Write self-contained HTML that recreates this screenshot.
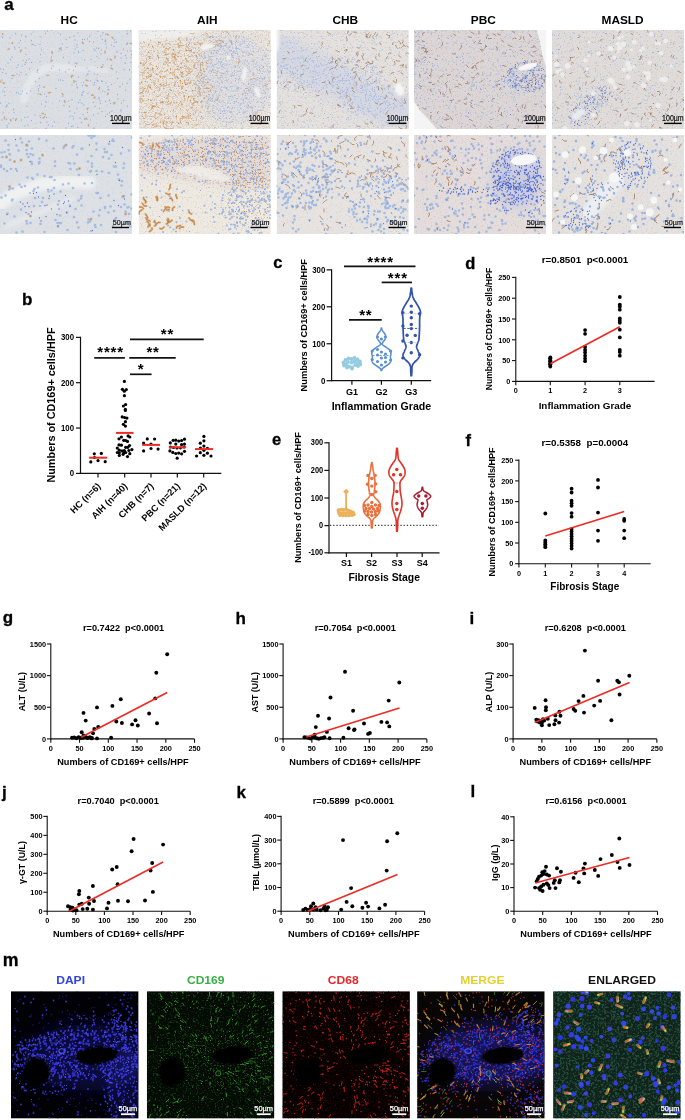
<!DOCTYPE html>
<html><head><meta charset="utf-8"><style>
html,body{margin:0;padding:0;background:#fff;}
body{width:685px;height:1120px;overflow:hidden;font-family:"Liberation Sans",sans-serif;}
svg{display:block;will-change:transform;}
text{font-family:"Liberation Sans",sans-serif;}
</style></head><body>
<svg width="685" height="1120" viewBox="0 0 685 1120" font-family="Liberation Sans, sans-serif"><defs><filter id="s0" filterUnits="userSpaceOnUse" x="0" y="30" width="132.2" height="99" color-interpolation-filters="sRGB"><feTurbulence type="fractalNoise" baseFrequency="0.8" numOctaves="2" seed="20" result="n"/><feColorMatrix in="n" type="matrix" values="0 0 0 0 0.816 0 0 0 0 0.831 0 0 0 0 0.855 6 0 0 0 -3.5" result="c"/><feComposite in="c" in2="SourceGraphic" operator="in"/></filter><filter id="b1_3" x="-20%" y="-20%" width="140%" height="140%"><feGaussianBlur stdDeviation="1.3"/></filter><filter id="b1_5" x="-20%" y="-20%" width="140%" height="140%"><feGaussianBlur stdDeviation="1.5"/></filter><clipPath id="c3"><rect x="0" y="30" width="132.2" height="99"/></clipPath><filter id="b0_35" x="-20%" y="-20%" width="140%" height="140%"><feGaussianBlur stdDeviation="0.35"/></filter><filter id="s1" filterUnits="userSpaceOnUse" x="0" y="135" width="132.2" height="99" color-interpolation-filters="sRGB"><feTurbulence type="fractalNoise" baseFrequency="0.8" numOctaves="2" seed="23" result="n"/><feColorMatrix in="n" type="matrix" values="0 0 0 0 0.816 0 0 0 0 0.831 0 0 0 0 0.863 6 0 0 0 -3.7" result="c"/><feComposite in="c" in2="SourceGraphic" operator="in"/></filter><filter id="b2" x="-20%" y="-20%" width="140%" height="140%"><feGaussianBlur stdDeviation="2"/></filter><clipPath id="c7"><rect x="0" y="135" width="132.2" height="99"/></clipPath><filter id="s2" filterUnits="userSpaceOnUse" x="138.6" y="30" width="132.2" height="99" color-interpolation-filters="sRGB"><feTurbulence type="fractalNoise" baseFrequency="0.8" numOctaves="2" seed="27" result="n"/><feColorMatrix in="n" type="matrix" values="0 0 0 0 0.843 0 0 0 0 0.804 0 0 0 0 0.765 6 0 0 0 -3.0" result="c"/><feComposite in="c" in2="SourceGraphic" operator="in"/></filter><filter id="b1" x="-20%" y="-20%" width="140%" height="140%"><feGaussianBlur stdDeviation="1"/></filter><filter id="b6" x="-20%" y="-20%" width="140%" height="140%"><feGaussianBlur stdDeviation="6"/></filter><filter id="s3" filterUnits="userSpaceOnUse" x="138.6" y="30" width="132.2" height="99" color-interpolation-filters="sRGB"><feTurbulence type="fractalNoise" baseFrequency="0.5" numOctaves="2" seed="24" result="n"/><feColorMatrix in="n" type="matrix" values="0 0 0 0 0.804 0 0 0 0 0.588 0 0 0 0 0.353 6 0 0 0 -3.75" result="c"/><feGaussianBlur in="SourceAlpha" stdDeviation="4" result="m"/><feComposite in="c" in2="m" operator="in"/></filter><filter id="b0_8" x="-20%" y="-20%" width="140%" height="140%"><feGaussianBlur stdDeviation="0.8"/></filter><clipPath id="c13"><rect x="138.6" y="30" width="132.2" height="99"/></clipPath><filter id="s4" filterUnits="userSpaceOnUse" x="138.6" y="135" width="132.2" height="99" color-interpolation-filters="sRGB"><feTurbulence type="fractalNoise" baseFrequency="0.8" numOctaves="2" seed="30" result="n"/><feColorMatrix in="n" type="matrix" values="0 0 0 0 0.855 0 0 0 0 0.824 0 0 0 0 0.784 6 0 0 0 -3.5" result="c"/><feComposite in="c" in2="SourceGraphic" operator="in"/></filter><filter id="b4" x="-20%" y="-20%" width="140%" height="140%"><feGaussianBlur stdDeviation="4"/></filter><filter id="s5" filterUnits="userSpaceOnUse" x="138.6" y="135" width="132.2" height="99" color-interpolation-filters="sRGB"><feTurbulence type="fractalNoise" baseFrequency="0.55" numOctaves="2" seed="23" result="n"/><feColorMatrix in="n" type="matrix" values="0 0 0 0 0.784 0 0 0 0 0.549 0 0 0 0 0.314 6 0 0 0 -3.45" result="c"/><feGaussianBlur in="SourceAlpha" stdDeviation="3" result="m"/><feComposite in="c" in2="m" operator="in"/></filter><filter id="s6" filterUnits="userSpaceOnUse" x="138.6" y="135" width="132.2" height="99" color-interpolation-filters="sRGB"><feTurbulence type="fractalNoise" baseFrequency="0.55" numOctaves="2" seed="24" result="n"/><feColorMatrix in="n" type="matrix" values="0 0 0 0 0.784 0 0 0 0 0.549 0 0 0 0 0.314 6 0 0 0 -3.8" result="c"/><feGaussianBlur in="SourceAlpha" stdDeviation="3" result="m"/><feComposite in="c" in2="m" operator="in"/></filter><filter id="b1_2" x="-20%" y="-20%" width="140%" height="140%"><feGaussianBlur stdDeviation="1.2"/></filter><clipPath id="c19"><rect x="138.6" y="135" width="132.2" height="99"/></clipPath><filter id="s7" filterUnits="userSpaceOnUse" x="276.6" y="30" width="132.2" height="99" color-interpolation-filters="sRGB"><feTurbulence type="fractalNoise" baseFrequency="0.8" numOctaves="2" seed="34" result="n"/><feColorMatrix in="n" type="matrix" values="0 0 0 0 0.824 0 0 0 0 0.808 0 0 0 0 0.804 6 0 0 0 -3.4" result="c"/><feComposite in="c" in2="SourceGraphic" operator="in"/></filter><filter id="b5" x="-20%" y="-20%" width="140%" height="140%"><feGaussianBlur stdDeviation="5"/></filter><clipPath id="c22"><rect x="276.6" y="30" width="132.2" height="99"/></clipPath><filter id="s8" filterUnits="userSpaceOnUse" x="276.6" y="135" width="132.2" height="99" color-interpolation-filters="sRGB"><feTurbulence type="fractalNoise" baseFrequency="0.8" numOctaves="2" seed="37" result="n"/><feColorMatrix in="n" type="matrix" values="0 0 0 0 0.839 0 0 0 0 0.824 0 0 0 0 0.824 6 0 0 0 -3.6" result="c"/><feComposite in="c" in2="SourceGraphic" operator="in"/></filter><clipPath id="c24"><rect x="276.6" y="135" width="132.2" height="99"/></clipPath><filter id="s9" filterUnits="userSpaceOnUse" x="414" y="30" width="132.2" height="99" color-interpolation-filters="sRGB"><feTurbulence type="fractalNoise" baseFrequency="0.8" numOctaves="2" seed="41" result="n"/><feColorMatrix in="n" type="matrix" values="0 0 0 0 0.804 0 0 0 0 0.776 0 0 0 0 0.784 6 0 0 0 -3.4" result="c"/><feComposite in="c" in2="SourceGraphic" operator="in"/></filter><filter id="b0_6" x="-20%" y="-20%" width="140%" height="140%"><feGaussianBlur stdDeviation="0.6"/></filter><filter id="b0_7" x="-20%" y="-20%" width="140%" height="140%"><feGaussianBlur stdDeviation="0.7"/></filter><clipPath id="c28"><rect x="414" y="30" width="132.2" height="99"/></clipPath><filter id="s10" filterUnits="userSpaceOnUse" x="414" y="135" width="132.2" height="99" color-interpolation-filters="sRGB"><feTurbulence type="fractalNoise" baseFrequency="0.8" numOctaves="2" seed="44" result="n"/><feColorMatrix in="n" type="matrix" values="0 0 0 0 0.831 0 0 0 0 0.800 0 0 0 0 0.800 6 0 0 0 -3.5" result="c"/><feComposite in="c" in2="SourceGraphic" operator="in"/></filter><clipPath id="c30"><rect x="414" y="135" width="132.2" height="99"/></clipPath><filter id="s11" filterUnits="userSpaceOnUse" x="552" y="30" width="132.2" height="99" color-interpolation-filters="sRGB"><feTurbulence type="fractalNoise" baseFrequency="0.8" numOctaves="2" seed="48" result="n"/><feColorMatrix in="n" type="matrix" values="0 0 0 0 0.816 0 0 0 0 0.800 0 0 0 0 0.792 6 0 0 0 -3.4" result="c"/><feComposite in="c" in2="SourceGraphic" operator="in"/></filter><clipPath id="c32"><rect x="552" y="30" width="132.2" height="99"/></clipPath><filter id="s12" filterUnits="userSpaceOnUse" x="552" y="135" width="132.2" height="99" color-interpolation-filters="sRGB"><feTurbulence type="fractalNoise" baseFrequency="0.8" numOctaves="2" seed="51" result="n"/><feColorMatrix in="n" type="matrix" values="0 0 0 0 0.831 0 0 0 0 0.820 0 0 0 0 0.812 6 0 0 0 -3.5" result="c"/><feComposite in="c" in2="SourceGraphic" operator="in"/></filter><clipPath id="c34"><rect x="552" y="135" width="132.2" height="99"/></clipPath><filter id="b8" x="-20%" y="-20%" width="140%" height="140%"><feGaussianBlur stdDeviation="8"/></filter><clipPath id="c36"><rect x="11.0" y="991.2" width="127.6" height="127.4"/></clipPath><filter id="b0_3" x="-20%" y="-20%" width="140%" height="140%"><feGaussianBlur stdDeviation="0.3"/></filter><filter id="s13" filterUnits="userSpaceOnUse" x="146.8" y="991.2" width="127.6" height="127.4" color-interpolation-filters="sRGB"><feTurbulence type="fractalNoise" baseFrequency="0.6" numOctaves="2" seed="61" result="n"/><feColorMatrix in="n" type="matrix" values="0 0 0 0 0.078 0 0 0 0 0.204 0 0 0 0 0.063 6 0 0 0 -3.5" result="c"/><feComposite in="c" in2="SourceGraphic" operator="in"/></filter><filter id="s14" filterUnits="userSpaceOnUse" x="146.8" y="991.2" width="127.6" height="127.4" color-interpolation-filters="sRGB"><feTurbulence type="fractalNoise" baseFrequency="0.6" numOctaves="2" seed="62" result="n"/><feColorMatrix in="n" type="matrix" values="0 0 0 0 0.137 0 0 0 0 0.392 0 0 0 0 0.110 6 0 0 0 -3.6" result="c"/><feGaussianBlur in="SourceAlpha" stdDeviation="6" result="m"/><feComposite in="c" in2="m" operator="in"/></filter><clipPath id="c40"><rect x="146.8" y="991.2" width="127.6" height="127.4"/></clipPath><filter id="s15" filterUnits="userSpaceOnUse" x="282.3" y="991.2" width="127.6" height="127.4" color-interpolation-filters="sRGB"><feTurbulence type="fractalNoise" baseFrequency="0.6" numOctaves="2" seed="63" result="n"/><feColorMatrix in="n" type="matrix" values="0 0 0 0 0.216 0 0 0 0 0.031 0 0 0 0 0.024 6 0 0 0 -3.6" result="c"/><feComposite in="c" in2="SourceGraphic" operator="in"/></filter><clipPath id="c42"><rect x="282.3" y="991.2" width="127.6" height="127.4"/></clipPath><clipPath id="c43"><rect x="417.1" y="991.2" width="127.6" height="127.4"/></clipPath><filter id="s16" filterUnits="userSpaceOnUse" x="553.1" y="991.2" width="127.6" height="127.4" color-interpolation-filters="sRGB"><feTurbulence type="fractalNoise" baseFrequency="0.45" numOctaves="2" seed="77" result="n"/><feColorMatrix in="n" type="matrix" values="0 0 0 0 0.141 0 0 0 0 0.306 0 0 0 0 0.243 6 0 0 0 -3.0" result="c"/><feComposite in="c" in2="SourceGraphic" operator="in"/></filter><clipPath id="c45"><rect x="553.1" y="991.2" width="127.6" height="127.4"/></clipPath></defs><text x="4.30" y="10.40" font-size="17.0" text-anchor="start" font-weight="bold" fill="#000" stroke="#000" stroke-width="0.3">a</text>
<text transform="translate(69.20 24.00) scale(1.08 1.02)" font-size="11" text-anchor="middle" font-weight="bold" fill="#000">HC</text>
<text transform="translate(207.30 24.00) scale(1.08 1.02)" font-size="11" text-anchor="middle" font-weight="bold" fill="#000">AIH</text>
<text transform="translate(345.30 24.00) scale(1.08 1.02)" font-size="11" text-anchor="middle" font-weight="bold" fill="#000">CHB</text>
<text transform="translate(483.40 24.00) scale(1.08 1.02)" font-size="11" text-anchor="middle" font-weight="bold" fill="#000">PBC</text>
<text transform="translate(622.60 24.00) scale(1.08 1.02)" font-size="11" text-anchor="middle" font-weight="bold" fill="#000">MASLD</text>
<g clip-path="url(#c3)"><rect x="0" y="30" width="132.2" height="99" fill="#dbdfe3"/>
<g filter="url(#b0_35)"><g filter="url(#s0)"><rect x="0" y="30" width="132.2" height="99" fill="#000"/></g><path d="M23.8,99.3 L26.4,89.4 L34.4,75.5 L44.9,68.6 L58.2,67.1 L68.7,68.6" stroke="#e8ebec" stroke-opacity="0.75" stroke-width="7.9" fill="none" stroke-linecap="round" stroke-linejoin="round" filter="url(#b1_3)"/><path d="M72.7,69.6 L92.5,67.6 L105.8,71.6" stroke="#e9ebed" stroke-opacity="0.6" stroke-width="5.9" fill="none" stroke-linecap="round" stroke-linejoin="round" filter="url(#b1_5)"/><path transform="scale(.5)" d="M31 67h0m12 3h0m19-2h0m29-1h0m4-5h0m8-2h0m18 9h0m35-3h0m40-3h0m10 3h0m5 3h0m43-1h0m1-1h0m0-7h0m6 2h0m-6 26h0m0-2h0m-2 2h0m-20-4h0m-3 1h0m-1-5h0m-1 13h0m-5-3h0m-10 6h0m-1-8h0m-7-9h0m-4-7h0m-3 24h0m-11-12h0m-8-11h0m0 10h0m-4-5h0m-6 1h0m-4 0h0m-11 15h0m0-5h0m-4-9h0m-2-8h0m-9 3h0m-5 20h0m-2-16h0m-7 9h0m-43-14h0m-2 15h0m-10 2h0m-4-2h0m-2 0h0m-1-8h0m-11-8h0m-1 0h0m0 23h0m-10-15h0m-3 5h0m0 9h0m-9-1h0m-9-18h0m-15-1h0m16 44h0m3-5h0m6-16h0m22 11h0m6 9h0m23-9h0m2-9h0m19 18h0m1-4h0m15-12h0m2-4h0m3 2h0m4 15h0m21-9h0m2-8h0m7 7h0m0-2h0m9-2h0m16 18h0m6-21h0m2 3h0m3-5h0m1 17h0m3-16h0m5 11h0m1-8h0m12 18h0m19-14h0m8 3h0m0 9h0m5-18h0m4 13h0m2 5h0m2-14h0m7 0h0m1 7h0m1 7h0m-2 9h0m-3 14h0m0 1h0m-8-14h0m-1 0h0m-2 13h0m-15 5h0m-10-13h0m-17-2h0m-11 6h0m-17 7h0m-4-6h0m-5-16h0m-15 6h0m-1 1h0m-2 6h0m-1-7h0m-3 15h0m-9-2h0m0-14h0m-19 15h0m-13-8h0m-3 5h0m-23-14h0m-4 16h0m-1 2h0m-1 3h0m-11-19h0m-4 13h0m-6-17h0m-2 4h0m-1 4h0m-4-8h0m-2 11h0m-7-2h0m-3 5h0m-18-9h0m-9 13h0m-6-1h0m3 22h0m1-15h0m7 2h0m12 10h0m10-9h0m5 2h0m3-5h0m10 4h0m19 14h0m8-6h0m38 3h0m4 0h0m5 1h0m5-17h0m12 10h0m3-2h0m6 11h0m5-9h0m10 11h0m6-14h0m2-3h0m1 0h0m5 14h0m8-14h0m0 17h0m5-4h0m1-12h0m1 13h0m7 0h0m2 1h0m7 3h0m23-9h0m10 11h0m9-1h0m6-9h0m4-14h0m-13 36h0m-11-7h0m-5 16h0m-12-20h0m-5 11h0m-2-1h0m0-6h0m-6 11h0m-5-2h0m-17-13h0m-12 18h0m-9-4h0m-2 2h0m0-14h0m-1 18h0m0 2h0m-9-15h0m-1-2h0m-1-5h0m-9 1h0m-32 7h0m-23 11h0m-10-17h0m-2 10h0m0-4h0m-1 11h0m-15-6h0m-7 5h0m-9-5h0m-3 6h0m-5-1h0m-4-2h0m-23-10h0m0 16h0m-1-7h0m-3-2h0m-5 24h0m11 8h0m2-2h0m0-2h0m4-3h0m36 5h0m29-4h0m8 4h0m1-8h0m1-11h0m26 9h0m7-10h0m2 19h0m9-9h0m2 11h0m5-14h0m13 6h0m3-5h0m4 7h0m4 3h0m19-5h0m3 8h0m8-18h0m0 3h0m2 4h0m1 5h0m10-4h0m8-3h0m0 1h0m2 6h0m7 1h0m8-10h0m7 8h0m4-5h0m8 11h0m-13 8h0m0 2h0m-18 0h0m-5 3h0m-4 3h0m-4 5h0m-7-10h0m-5-6h0m-3 10h0m-9 3h0m-12-5h0m-6 14h0m0 0h0m-3-10h0m-6 7h0m-6-19h0m-5 9h0m-2 12h0m-1-5h0m-6 0h0m0-11h0m-47 13h0m-2-6h0m-10 6h0m-1-4h0m-10-1h0m-14 4h0m-6 1h0m-7 5h0m-15-15h0m-1-6h0m-1 18h0m-13 2h0m-7-13h0m-2 14h0m10 11h0m0 4h0m4-8h0m13-6h0m19 11h0m6-2h0m7-9h0m18 4h0m11 12h0m2-13h0m3 6h0m8 2h0m4-8h0m23 12h0m5-9h0m6 6h0m3-1h0m9 3h0m8-10h0m18-5h0m7 17h0m0-1h0m36-16h0m9 4h0m22 3h0" stroke="rgb(110,145,212)" stroke-width="2.6" stroke-linecap="round" fill="none" stroke-opacity="0.6"/><path transform="scale(.5)" d="M24 71h0m8-1h0m35-8h0m22-1h0m18 4h0m3 5h0m6-3h0m0-1h0m43 6h0m21-4h0m2 3h0m1-2h0m9-7h0m0 5h0m12 4h0m49-9h0m-8 10h0m-13 7h0m-22 11h0m-6-3h0m-9-6h0m-1-4h0m-44 16h0m-1-5h0m-28-8h0m-1 7h0m-36 8h0m-3-12h0m-2-10h0m-4 15h0m-71-16h0m51 26h0m4 5h0m16 16h0m9-4h0m3-10h0m3 3h0m22 4h0m15-3h0m3-10h0m6 14h0m14 1h0m11-10h0m2 14h0m32-11h0m3 10h0m0 0h0m1-14h0m34-1h0m5-1h0m6-1h0m16-2h0m1 16h0m-19 27h0m-26-20h0m-5 3h0m-20 8h0m-2-9h0m-56 17h0m-31-8h0m-2 11h0m-18-14h0m-48 2h0m-6-6h0m-17 5h0m23 32h0m2 2h0m41-18h0m15 2h0m8 12h0m16-9h0m19-1h0m18-6h0m14 5h0m4 6h0m19 4h0m4-2h0m0 10h0m34 0h0m22-11h0m6 7h0m3-3h0m4 7h0m-61 20h0m-14-16h0m-5 19h0m-5-5h0m-28-6h0m-28 2h0m-24 5h0m-18-12h0m-5-1h0m-7 14h0m-4-10h0m-2-5h0m-9 14h0m-3-8h0m-7-8h0m-15 20h0m-7-8h0m-10 21h0m47 5h0m12-1h0m19 8h0m2-13h0m0 2h0m6-1h0m9 3h0m8 10h0m8-14h0m7 1h0m10 8h0m3-10h0m11 11h0m8-7h0m11-7h0m4 10h0m3-13h0m15 4h0m4-2h0m16 12h0m48 26h0m-1 4h0m-6-11h0m-7 7h0m-6-6h0m-5 3h0m-8 4h0m-18-14h0m-8-6h0m-25 16h0m-9 7h0m-26-8h0m-5 6h0m-8-1h0m-27-19h0m-5 19h0m-10-7h0m-8-13h0m-26 10h0m-15-2h0m-7 5h0m-15-3h0m-4 12h0m-2-18h0m-3 26h0m58 11h0m2 1h0m3-10h0m1 7h0m6 3h0m29-16h0m8 4h0m4 10h0m32-9h0m5 1h0m37-2h0m38 12h0m4-12h0m19 11h0" stroke="rgb(150,172,218)" stroke-width="1.8" stroke-linecap="round" fill="none" stroke-opacity="0.5"/><path transform="scale(.5)" d="M5 69l0-1 1-1m211 3l-2-1 -1-1m50 19l-2 0 -2 0m-34-10l-1-2 -1-1m-13 9l0-2 0-1m-46 4l0 2 2 1m-142 0l-1-1 1-1m-6 13l-2 0 -1 1m27 1l-2 2 0 2m64 3l-1-2 0-2m18-7l-1 1 -2 0m91 5l0 2 0 2m10 12l1 1 2 1m7-8l0 2 0 2m-5 22l-2-1 -1-1m-17-3l-1 1 -2 1m-100-12l1-2 2 0m-103 43l-1-1 -2-1m10 4l-1 1 -2-1m22-15l-2 0 -2 0m70 0l2 0 1 0m48 0l-2 1 0 2m5 11l0-2 0-2m24-1l2 1 2 0m40 25l0 2 -1 1m-16-14l-1 2 0 2m-11 12l-2-1 -2 0m-12-20l2 2 2 0m-49 17l-1-1 -1-1m-27-1l2-1 2 0m-14-11l1 0 1 0m-9 14l1 1 1 0m48 16l0-2 -1-2m47 15l-1 1 0 2m13-23l2-1 0-1m37 12l1-1 2 1m-60 31l2 0 2 1m-85-5l-1 2 -2 1m-2-9l2 0 1 0m-78 11l0-2 0-2m13 8l-1-2 0-1m10 1l1-1 1-2m144 12l0 1 0 2m69-7l1-2 1-1" stroke="rgb(195,150,105)" stroke-width="3" stroke-linecap="round" stroke-linejoin="round" fill="none" stroke-opacity="0.72"/></g>
</g>
<g clip-path="url(#c7)"><rect x="0" y="135" width="132.2" height="99" fill="#dde0e4"/>
<g filter="url(#b0_35)"><g filter="url(#s1)"><rect x="0" y="135" width="132.2" height="99" fill="#000"/></g><path d="M0.0,204.3 L13.2,194.4 L39.7,184.5 L66.1,181.5 L89.9,182.5" stroke="#f0f1f1" stroke-opacity="1.0" stroke-width="12.9" fill="none" stroke-linecap="round" stroke-linejoin="round" filter="url(#b2)"/><path d="M6.6,226.1 L39.7,212.2 L72.7,198.4" stroke="#eceef0" stroke-opacity="0.7" stroke-width="5.0" fill="none" stroke-linecap="round" stroke-linejoin="round" filter="url(#b2)"/><path transform="scale(.5)" d="M264 275h0m-37 7h0m-1-3h0m-1 2h0m-7 7h0m-25-1h0m-4-15h0m-3 0h0m-3 4h0m-2-5h0m-4 0h0m-84 10h0m-15-3h0m-20 5h0m-14 2h0m-3-8h0m-30 4h0m-8 24h0m6-1h0m8-14h0m0 10h0m2 8h0m1 1h0m13-18h0m4 10h0m16-1h0m1 8h0m1-17h0m6 17h0m3-11h0m2 13h0m41-13h0m20-1h0m1-2h0m1-2h0m16 3h0m2-3h0m7 17h0m9-11h0m2-1h0m28 2h0m16-1h0m1 6h0m4 0h0m9 6h0m19-3h0m16-6h0m-10 26h0m-1 9h0m-15-3h0m-4 0h0m-10-16h0m-12-3h0m-22 13h0m0 6h0m-1-21h0m-7 11h0m-27 4h0m-9 0h0m-3-1h0m-27-3h0m0 9h0m-31-8h0m0-7h0m-1 10h0m-14 1h0m-1-4h0m-6-10h0m-37 6h0m-15-6h0m-3 20h0m0-3h0m6 7h0m6 4h0m8-4h0m10 0h0m23 17h0m9 1h0m2 2h0m9-9h0m14 3h0m11 2h0m3 0h0m6 6h0m32-22h0m13 1h0m4 11h0m22-7h0m2-1h0m11 0h0m11 1h0m14 3h0m18 3h0m2 10h0m6 3h0m-1 9h0m-59-5h0m-15 1h0m-23 9h0m-9-9h0m-11 2h0m-5 14h0m-13-7h0m-5 5h0m-6 2h0m-21-8h0m-7 3h0m-2 4h0m-17-10h0m-7 2h0m-4-5h0m-13 8h0m-5 0h0m-3 2h0m-15 16h0m8-4h0m13 10h0m1-2h0m45-3h0m14 8h0m2-8h0m32 6h0m39-1h0m5-4h0m1-5h0m30-6h0m3 0h0m5 10h0m16-5h0m31 1h0m15-3h0m0 28h0m-5 11h0m-1-14h0m-2 1h0m-4 8h0m-2-14h0m-7 5h0m-14 8h0m-7-9h0m-4 12h0m-7-11h0m0 2h0m-10 4h0m-2 11h0m-11-8h0m-24-12h0m-12 7h0m-11-7h0m-6 14h0m-14 6h0m-4-22h0m-48 3h0m-11 16h0m-15-9h0m-27 8h0m-6 20h0m20-14h0m24 9h0m1 5h0m7-1h0m20 2h0m1-6h0m29-2h0m4 6h0m1 7h0m2-7h0m4 0h0m26-12h0m6 11h0m3 10h0m19-10h0m1-6h0m3 4h0m10 7h0m1 4h0m11-4h0m24 2h0m3-13h0m1 0h0m2-3h0m14 13h0m7-4h0m6 3h0m1 5h0m-28 11h0m-97-4h0m-46 4h0m-44-1h0m-12 2h0" stroke="rgb(140,172,225)" stroke-width="5.4" stroke-linecap="round" fill="none" stroke-opacity="0.7"/><path transform="scale(.5)" d="M219 283h0m-188-4h0m148 11h0m66 5h0m-14 30h0m-171-2h0m-26 19h0m160 7h0m45 12h0m-143 18h0m-55 25h0m14 2h0m5-20h0m7 1h0m6-2h0m4 9h0m21 3h0m1-5h0m9-4h0m19 19h0m2-3h0m2-13h0m6 11h0m91-1h0m21-3h0m-12 13h0m-97 2h0m-7 12h0m-15-7h0m-4 11h0m-11-11h0m-9-8h0m-4 1h0m-10 1h0m-17 12h0m-5-11h0m-6 12h0m-2-12h0m-4-5h0m-32 21h0m65 7h0m13-3h0m24 19h0m69 9h0m-3 1h0" stroke="rgb(60,100,200)" stroke-width="2.6" stroke-linecap="round" fill="none" stroke-opacity="0.85"/><path transform="scale(.5)" d="M53 290h0m32 20h0m47-20h0m-90 30h0m-13 3h0m-16-9h0m146 23h0m-140 36h0m227 20h0m5 35h0m-190 4h0m121 6h0" stroke="rgb(205,165,120)" stroke-width="6" stroke-linecap="round" fill="none" stroke-opacity="0.75"/><path transform="scale(.5)" d="M53 290h0m32 20h0m47-20h0m-90 30h0m-13 3h0m-16-9h0m146 23h0m-140 36h0m227 20h0m5 35h0m-190 4h0m121 6h0" stroke="rgb(180,130,80)" stroke-width="2.8" stroke-linecap="round" fill="none" stroke-opacity="0.8"/></g>
</g>
<text transform="translate(131.70 120.90) scale(0.86 1.0)" font-size="8.2" text-anchor="end" font-weight="normal" fill="#111" stroke="#111" stroke-width="0.2">100µm</text>
<line x1="112.00" y1="123.40" x2="129.80" y2="123.40" stroke="#000" stroke-width="1.4"/>
<text transform="translate(130.90 224.90) scale(0.93 1.0)" font-size="7.7" text-anchor="end" font-weight="normal" fill="#111" stroke="#111" stroke-width="0.2">50µm</text>
<line x1="111.90" y1="227.50" x2="129.00" y2="227.50" stroke="#000" stroke-width="1.4"/>
<g clip-path="url(#c13)"><rect x="138.6" y="30" width="132.2" height="99" fill="#ebe6df"/>
<g filter="url(#b0_35)"><g filter="url(#s2)"><rect x="138.6" y="30" width="132.2" height="99" fill="#000"/></g><path d="M138.6,30.0 L204.7,30.0 L194.1,35.0 L171.6,38.9 L138.6,41.9Z" fill="#eeeeed" fill-opacity="1.0" filter="url(#b1)"/><ellipse cx="233.8" cy="79.5" rx="39.7" ry="44.6" fill="rgb(200,210,235)" fill-opacity="0.3" filter="url(#b6)"/><path transform="scale(.5)" d="M284 67h0m7 0h0m15-4h0m5 8h0m1-8h0m10 8h0m8-9h0m9 0h0m10-1h0m11 4h0m21-5h0m25 9h0m4-1h0m33-1h0m0-1h0m4-1h0m7-3h0m13 10h0m1-10h0m4 10h0m1-1h0m13-6h0m17 3h0m12-7h0m9 0h0m8 1h0m-9 22h0m-3 12h0m-9-8h0m0-15h0m-5 8h0m-1 12h0m-1-8h0m-4-2h0m-1 7h0m-2 4h0m0-6h0m-1 6h0m-2-3h0m0-13h0m-2 16h0m-3-14h0m0 4h0m-1 2h0m0-10h0m-1-2h0m-1 9h0m-1-3h0m-1 6h0m-2 3h0m-1 3h0m0 0h0m-1-4h0m-1-15h0m-1 18h0m0-15h0m-2 9h0m-3 9h0m0-11h0m0-3h0m-2 16h0m0-6h0m0-5h0m0-12h0m-6 16h0m-1 0h0m-1-3h0m0-4h0m0 1h0m0 2h0m-1-1h0m0-8h0m0 9h0m-1-13h0m-1 21h0m0-12h0m-1 13h0m-1-1h0m0-10h0m-4 3h0m0 9h0m-1-7h0m-1 0h0m0-14h0m0 17h0m-2 0h0m-2 1h0m0-17h0m-1 7h0m0 0h0m0 3h0m-2-1h0m0-1h0m-1 1h0m0 8h0m-1 2h0m0-19h0m-1 17h0m0-1h0m-1-10h0m0 14h0m0-9h0m-1 6h0m-1-20h0m0 8h0m0 0h0m0 7h0m-3 3h0m0 0h0m-1-4h0m0 5h0m-1-17h0m-1 9h0m0-1h0m0-8h0m-1 11h0m0-10h0m0 6h0m0 10h0m-1 2h0m-1 2h0m0-2h0m-2-14h0m-1-4h0m0 20h0m-1-3h0m0-18h0m-1-2h0m0 3h0m-4 10h0m0-10h0m-1 0h0m-1 6h0m0-7h0m-1 13h0m-1 7h0m-1-3h0m-2 0h0m0 4h0m-4-16h0m0 1h0m-3-2h0m-3 10h0m-7 8h0m-1-12h0m-2 1h0m-2 4h0m-3-14h0m-2 3h0m-5 8h0m-1-6h0m-1-2h0m-1 7h0m-2 4h0m-4 3h0m0-11h0m-1-5h0m-15 2h0m-1 9h0m-16-3h0m-2 3h0m-4 5h0m-3-10h0m-13-6h0m0 8h0m-1 0h0m-10 11h0m-11-17h0m-9 5h0m-5 3h0m0 23h0m10 7h0m9-8h0m4 8h0m12-10h0m0 11h0m8-13h0m14-8h0m3 13h0m4-8h0m3 2h0m22-6h0m1 3h0m4 11h0m2 2h0m2-9h0m0-7h0m3 2h0m0 4h0m1 8h0m2-6h0m4-1h0m3 15h0m0-8h0m2 6h0m4-8h0m1-11h0m3 2h0m0 11h0m0 0h0m2 3h0m3-7h0m1 5h0m0 4h0m0-12h0m1 12h0m0-20h0m0 8h0m0 7h0m1 4h0m1-16h0m0 2h0m4-3h0m1 12h0m0-12h0m1 15h0m1-16h0m1 22h0m0-5h0m0 2h0m2-10h0m0-2h0m1 1h0m0-1h0m1 9h0m0 6h0m0-11h0m2-8h0m1 7h0m1-6h0m1 1h0m1-1h0m3 3h0m0 2h0m0 11h0m1 1h0m1-12h0m0-5h0m1-1h0m1 3h0m2-4h0m1 10h0m1-11h0m0 20h0m4-9h0m1-9h0m1 18h0m0-22h0m2 5h0m1 6h0m1 3h0m0 7h0m1-12h0m0 10h0m3-9h0m1 2h0m1-11h0m2 3h0m1 2h0m1 1h0m1 17h0m0-5h0m0-15h0m1 9h0m0 3h0m0-11h0m1 10h0m0-4h0m1 7h0m0-18h0m1 9h0m0 6h0m1 4h0m0-13h0m1 2h0m2-1h0m0 3h0m1 1h0m2-11h0m0 21h0m0-15h0m0-4h0m2-1h0m0 11h0m0-2h0m2-9h0m1 17h0m1-15h0m4 1h0m3 4h0m0 7h0m1-6h0m2-1h0m0 0h0m4 2h0m3-2h0m0 6h0m1 1h0m1-4h0m8-4h0m0-6h0m0 22h0m2-15h0m8 0h0m2-6h0m6 21h0m1-5h0m1-13h0m0 18h0m3-13h0m0 6h0m2 1h0m1-13h0m0 9h0m1 3h0m2 5h0m1-16h0m5 1h0m0 0h0m0 34h0m0 7h0m-1-10h0m-2 9h0m0-15h0m-1 17h0m-2-4h0m-2-10h0m-3 13h0m0-17h0m-3 7h0m0 2h0m-1 8h0m-2-6h0m0 0h0m-1-7h0m-2 13h0m-1-10h0m-1 8h0m0-6h0m0 4h0m-4 1h0m-1-16h0m0 6h0m-2 3h0m-1-5h0m-3 6h0m0-13h0m-1 3h0m-1 4h0m0-5h0m-5 20h0m-3-3h0m0-12h0m0 6h0m0 4h0m-3-2h0m0-15h0m-1 10h0m0-8h0m-3-3h0m-1 8h0m-1-4h0m-1 0h0m-3 2h0m-3-2h0m-1 15h0m0 4h0m-1-20h0m-1 2h0m0 10h0m0 7h0m-3-11h0m0 11h0m-2 0h0m-2-19h0m-1 10h0m-1 2h0m0-4h0m0 3h0m-1 7h0m-5-7h0m-5-13h0m0 8h0m-5-1h0m0 15h0m0-2h0m0 0h0m-1-11h0m-1-9h0m0 22h0m-1-7h0m-1-5h0m-2-2h0m0-2h0m-2 7h0m-1-2h0m0-3h0m-1-9h0m0 18h0m-1-14h0m0 9h0m-1-8h0m0-2h0m-1 7h0m0-3h0m0 3h0m-3-7h0m0 13h0m-1 6h0m0-20h0m-2 14h0m0 7h0m-1-16h0m-2 2h0m-3-1h0m-1 6h0m0 4h0m-1-6h0m-1 9h0m0-1h0m0 0h0m-1-1h0m0-8h0m0-1h0m-2 4h0m0 10h0m0-18h0m0-5h0m0 22h0m-2-15h0m-1 13h0m0-1h0m-2-8h0m0-6h0m-3 1h0m-1-6h0m0 16h0m-1-12h0m-3-3h0m-4 9h0m-1-3h0m-2 13h0m-1-12h0m-1 2h0m-2-10h0m-1 7h0m0 12h0m0-18h0m-2 13h0m0-5h0m-1-9h0m0 0h0m-2 16h0m-18-16h0m-3 9h0m-7 5h0m-10 2h0m-9-15h0m-9 4h0m-17 0h0m-21 2h0m-10-5h0m-3 17h0m-7 10h0m3-5h0m4 13h0m15-6h0m9-5h0m1 15h0m1-4h0m11-12h0m2 11h0m2 11h0m5-2h0m19-2h0m1-10h0m3 0h0m0 11h0m10-16h0m6 16h0m2-7h0m4 1h0m0 2h0m1-5h0m0-9h0m12 20h0m6-6h0m1 2h0m2 0h0m1 3h0m0-15h0m3 0h0m1 6h0m1-10h0m1 17h0m0 0h0m1-1h0m0 4h0m0-7h0m1-11h0m0 9h0m2-8h0m1 9h0m2-6h0m1 13h0m0-7h0m0 9h0m3-10h0m0-14h0m1 15h0m3 1h0m1 8h0m3-17h0m1 11h0m1-6h0m0-11h0m3 0h0m2 17h0m0-11h0m2 0h0m1 5h0m0 7h0m3 3h0m0-10h0m0 4h0m1 7h0m2-13h0m0 0h0m1-3h0m0-5h0m1 18h0m0-14h0m1-3h0m0 8h0m0 7h0m1 4h0m1-8h0m1-11h0m3 14h0m0-14h0m2 7h0m1 6h0m1 1h0m0-13h0m1-4h0m2 14h0m4-8h0m1 16h0m1-13h0m0 12h0m1-15h0m1-5h0m1 6h0m2 0h0m1-4h0m2 10h0m0 4h0m2-11h0m4 15h0m0-6h0m1-6h0m0 7h0m1-3h0m1 0h0m3 8h0m0-7h0m0-10h0m1 13h0m0-17h0m2 22h0m2 2h0m0-15h0m1 7h0m1-2h0m3-13h0m1 0h0m0 8h0m0-4h0m3 17h0m3-6h0m3-2h0m1 4h0m2-13h0m0-3h0m1 4h0m1 13h0m0 1h0m0-16h0m2 10h0m2 2h0m2 0h0m1-1h0m1-4h0m0 0h0m3-8h0m0 10h0m0 5h0m1 5h0m1-15h0m1 4h0m0 6h0m2-4h0m1-11h0m1 11h0m0-1h0m3 1h0m0-3h0m1 1h0m1 11h0m1 0h0m6-12h0m0 8h0m1-5h0m1-13h0m1 44h0m0-12h0m-2 15h0m-2-14h0m-3-1h0m-2-6h0m0 8h0m0-5h0m-1 13h0m-1-3h0m0 2h0m-3-6h0m-1 7h0m0-13h0m-4 12h0m0-1h0m-1-8h0m-1 5h0m-1 3h0m-1 3h0m0-15h0m-2 15h0m-3-16h0m-1 14h0m-4 1h0m0-18h0m0 21h0m-1-16h0m0-5h0m0 14h0m0 7h0m-1-3h0m0 0h0m0-7h0m-2 2h0m0-13h0m-1 16h0m-1-9h0m0-6h0m-1 7h0m0 3h0m-1 4h0m0-4h0m-2-6h0m-1-5h0m0-1h0m0 14h0m-2 5h0m-1-13h0m-1 8h0m-1 4h0m0-9h0m0 10h0m-1-10h0m0 14h0m-1-6h0m-1-4h0m-5 7h0m-2-11h0m-5-2h0m0 3h0m-2-2h0m-1 1h0m0 1h0m0 3h0m-2-7h0m-1 8h0m-1 8h0m0-20h0m-1 21h0m-3-9h0m-2-9h0m-3 1h0m-3 6h0m-2-1h0m-3-2h0m0-2h0m-1 2h0m-1 12h0m-2-15h0m-5 7h0m-1-7h0m-1 7h0m-1-2h0m-1-2h0m-1 13h0m0-4h0m-1-15h0m-1 21h0m-5-10h0m-1 3h0m0-3h0m-1 2h0m-1-15h0m0 5h0m0 14h0m-2 4h0m-1-2h0m-2-14h0m-3 4h0m-3 2h0m-1 1h0m-3 1h0m-4 1h0m-1 0h0m-2-3h0m-2-10h0m-2-1h0m-1 19h0m0-5h0m-1-8h0m-2 13h0m0 0h0m-1-2h0m-2-17h0m0 16h0m0-7h0m0-3h0m-2-6h0m0 3h0m-8 7h0m-2 1h0m-13 4h0m-8-8h0m-7 4h0m-3-5h0m-4-7h0m-3 12h0m-8 8h0m0-17h0m-6 11h0m-6-12h0m-6 2h0m-7-3h0m-16 13h0m0-14h0m-3 13h0m-7 8h0m0-9h0m-1 9h0m-1-7h0m-4 12h0m23 4h0m2 7h0m7-1h0m7 0h0m2 0h0m7-12h0m18 10h0m2 3h0m19-6h0m7-1h0m3 10h0m3-8h0m21 12h0m1-11h0m0-1h0m0 2h0m2-2h0m1 2h0m3-8h0m2 18h0m1-3h0m1-18h0m2 23h0m0-9h0m1-3h0m0 6h0m1-12h0m0 15h0m4-12h0m0-6h0m1 3h0m2 0h0m0 5h0m1-1h0m0-8h0m0 3h0m2 14h0m2-8h0m1-3h0m0 4h0m4-3h0m0 7h0m1-16h0m1 8h0m0-4h0m3 8h0m0-4h0m3 5h0m3 7h0m1-11h0m2 4h0m3 5h0m4 5h0m1-9h0m0 9h0m1-2h0m1-20h0m0 9h0m0-5h0m3 10h0m0-14h0m3 1h0m0 6h0m1 16h0m1-23h0m0 21h0m3-7h0m0-3h0m1-1h0m3 0h0m1-6h0m1 0h0m2 8h0m3 6h0m0-3h0m1 0h0m1-1h0m0-9h0m2 0h0m2 4h0m0 4h0m1-7h0m0 2h0m2 12h0m1-17h0m2 1h0m0-1h0m2 17h0m0 2h0m0-17h0m2 12h0m1 0h0m0 1h0m1-12h0m2 15h0m0-10h0m1 10h0m0-7h0m1 6h0m0-21h0m3 23h0m2-16h0m1-7h0m2 21h0m2-20h0m2 12h0m1-2h0m7 2h0m0-7h0m0-3h0m1 10h0m3 7h0m0-6h0m1 9h0m0-19h0m2 14h0m0-15h0m0 8h0m4-6h0m5 13h0m0-15h0m3 32h0m-3 10h0m-9-1h0m-6-15h0m-2-1h0m-3 1h0m-2 12h0m-1-7h0m-4-2h0m-3 2h0m-1 4h0m-1-1h0m-1-9h0m-1 4h0m-1-8h0m-3 14h0m-4-14h0m0 18h0m-1 6h0m-1-6h0m-2-11h0m-2 1h0m0 10h0m-2-8h0m0-2h0m-2 2h0m0-4h0m-5-5h0m-2 7h0m-2-4h0m-3 9h0m-2 11h0m-3-24h0m-3 23h0m0-9h0m-3-6h0m0 9h0m-1-10h0m-1 0h0m0 2h0m-1-8h0m-1 7h0m0 13h0m-4-15h0m-2 14h0m0-1h0m-1-14h0m0 15h0m-2-9h0m-1-7h0m0 3h0m-1-6h0m-1 15h0m0-5h0m0-6h0m-2 2h0m-3-1h0m-1 15h0m0-11h0m0 1h0m-1-9h0m-1 19h0m0 0h0m-1-3h0m-1-13h0m-1 9h0m-1 9h0m-1-21h0m-3 20h0m-1-12h0m-2-1h0m-2 8h0m0-17h0m0 5h0m-1-1h0m-5 7h0m-2-2h0m-2-8h0m0 6h0m-10 14h0m-5 0h0m0-13h0m-4 6h0m-11-3h0m-1-11h0m-4 11h0m-10 7h0m-20-1h0m-11 3h0m-42-11h0m-13 5h0m0 3h0m-6-14h0m12 31h0m21 4h0m15-10h0m5 11h0m4 1h0m5-16h0m5 4h0m11 2h0m2 2h0m3-2h0m40-4h0m7 14h0m20 0h0m1-1h0m15-12h0m1-1h0m5 16h0m1-5h0m1-8h0m0 4h0m5-3h0m2-2h0m3 0h0m2-1h0m17 3h0m2 8h0m0 3h0m3-14h0m3 1h0m8-2h0" stroke="rgb(120,150,215)" stroke-width="2.3" stroke-linecap="round" fill="none" stroke-opacity="0.6"/><path transform="scale(.5)" d="M389 66l-3 2 -3-1 -3 0m34 4l1-2 -1-2 -2 0m46 2l-1-3 -3-2 -4-1m85 27l2-2 2-3 -1-4m-67-3l1-2 0-2 2-2m-16 7l2 2 3 3 0 3m-21 0l-1 2 -3 2 -2 2m1-13l4 1 3 0 2 3m-12-2l4 0 2-1 2 1m-13 7l2 0 4 0 3-2m-13 9l-4 1 -1 3 -2 1m5-28l-3 0 -2 1 -3 0m7 9l2 0 2 2 2 0m-11 2l3 2 3 0 3-1m-25 4l0-2 -1-2 1-2m-5 0l3 1 2 1 4-1m-26-1l0 2 -3 3 -2 3m-11 0l-2-1 -2 1 -1 2m2-14l-2-3 1-3 2-2m-4 18l4-1 2 0 4 0m-11 3l3-2 0-2 -3-2m-15 7l-2 1 -3 2 -1 1m-38 20l2-2 0-3 -2-2m5 1l-2 0 -2 0 -2 2m34-16l0 3 -1 2 -1 2m3-1l1 3 2 1 2-1m-4 8l2 3 2 2 0 3m2-17l-3 2 -2 1 -4 0m15 1l1 2 3 2 3 1m-6-2l4-1 1-1 1-4m-1 4l-1 2 0 3 -1 3m3-12l-3 0 -2-2 -2 0m8 4l-3-1 -2 0 -3 0m13-1l1-2 1-3 2-3m13 1l2 0 3 0 4 0m-5-3l-3-2 -1-1 -1-1m28 18l-2-1 -2-3 -2-3m83 13l1 3 -2 3 0 4m29-18l-3-2 -4 1 -1 1m-97 27l0-3 0-4 0-4m-11 0l0 3 -1 2 -2 3m2-6l-2 3 0 2 1 2m-3 5l-1 2 -2 2 -2 3m0-3l-2-1 -3 1 -3-2m7-1l-2-3 -2-1 -3 2m0-15l2-1 2 0 2-1m-9 11l3-1 2 2 0 2m-22-15l-1-4 -1-3 -1-1m3 26l2 0 2 0 3 0m-26-12l-1 1 -2 1 -3-2m-21 10l0 3 0 2 1 3m-13-11l1 2 -2 2 -1 1m2-15l-3 2 -2 3 -2 2m1 16l0-4 1-2 3-1m3 5l2 2 2 2 4 0m-6 2l1 2 -2 3 -2 1m9-6l-1 1 -3 0 -2 3m10 9l2 1 1 3 -1 3m9-25l2-1 1-1 1-3m3 13l-2-1 -2-1 -2 0m10-8l3-2 2-2 2-1m-4 16l-2-3 -2 0 -1 2m14-9l2 1 2 2 1 2m7 12l-2 2 -1 3 1 2m5-13l-1-2 -4-1 -3-1m14-7l0 4 2 2 2 2m-4-1l2 1 1 1 2 1m0-7l-3-2 -2-2 -2-2m11 26l-2-2 0-3 0-3m3-10l2 0 2-2 3-1m3 14l0 2 -2 1 -1 4m9-2l0 2 1 1 4 0m-1-15l2-3 2 0 1-2m-4 4l1 1 3 0 3 2m0 3l1 2 2 2 2 1m-5-19l2 0 2 2 -1 4m0 5l3-1 3 0 1-2m91 6l3 0 2-2 4 0m29 4l3 2 2 2 2 2m-19 5l3-1 1-1 4-1m-42 8l3 0 2 3 2 0m-79 3l0-4 -2-2 -1-1m2-7l1 1 3 2 4 1m-13 2l-4 1 -2 1 -3-1m-5 1l-1 1 -1 3 0 3m0-9l-1 1 0 2 2 1m-7 11l-2 2 -4 0 -2 1m-22-6l-2-1 -3-1 -1-1m4-14l1 3 2 1 1 3m-17 10l2 1 1 3 2 1m-23-20l-4-2 -2 0 -2 3m7-3l2 1 4-1 2-2m-20 7l-2 1 -2-1 -2-2m-7 6l-3-2 -2-1 -1-3m2-4l-3 3 -2 4 -1 3m-8-2l0 4 -1 2 -2 3m2-11l-3 2 -2 1 -2 0m1 9l3-2 2 0 3 2m-10 14l-1 2 -2 0 -1 2m7-8l0 3 1 3 2 2m5-3l-2 0 -3-3 0-2m26 16l-3-1 -2-2 -4 0m9 4l-3-1 -3 3 0 2m32-20l1-2 0-4 -3-2m3 18l0-2 -2-2 -3 0m10 4l-3 0 -1 1 -4 1m27-3l-2 1 -2 2 0 3m6-2l1-1 0-3 -1-2m6-9l2 2 0 2 -1 2m14-10l-3 1 -3 1 -1 3m15 6l-2 3 -3 0 -2 3m12-6l-3 0 -3-1 -2-1m8 2l-4 1 -4 0 -2 3m34-10l-3 1 -1 3 -1 1m16-2l3 0 2-2 1-2m78 27l-2 2 -1 2 -1 2m-120-3l1-2 0-3 2-2m-16 0l-3 2 0 2 1 1m-1 10l-4 0 -2-1 -2 0m8-2l2 2 1 1 2 1m-5-8l3 2 0 2 -1 1m-7 5l-2-1 -4 1 -2-1m-3 2l2-1 2 0 3-3m-48-18l-3-3 -2-2 0-3m5 19l2-1 1-2 2-3m-6 6l3 2 2 0 2 2m-12 6l2 0 2-2 2-2m-9 2l1-1 0-4 1-3m-19 8l0-3 0-2 -2-3m9 22l-3 0 -3 0 -2-1m17 6l2-2 4 0 3 0m-5-4l-3 0 -2 0 -2 3m20-5l3-1 1-3 -1-2m-1 10l0-4 -1-2 -2-3m7 15l3 3 3 1 2 2m-6-10l-1-3 0-4 2-1m3 14l-4-1 -3-1 -2-2m10-11l3 2 2 1 0 4m4 4l-2 3 -3 1 -2 1m49-9l2 0 3-1 2 0" stroke="rgb(205,155,100)" stroke-width="2" stroke-linecap="round" stroke-linejoin="round" fill="none" stroke-opacity="0.68"/><g filter="url(#s3)"><path d="M138.6,39.9 L198.1,37.9 L220.6,69.6 L211.3,104.2 L198.1,129.0 L138.6,129.0Z" fill="#000"/></g><path transform="scale(.5)" d="M374 78h0m-46 15h0m-8-8h0m-5 26h0m2 4h0m19 5h0m11-21h0m15 14h0m9 5h0m17-12h0m4 5h0m16 32h0m-1-5h0m-27 0h0m-17-12h0m0 10h0m-1-9h0m-1 8h0m-5-2h0m-8-7h0m-16-2h0m-17 13h0m-2-4h0m-11 7h0m-6-3h0m-9-9h0m-5-1h0m-1-1h0m-1 42h0m3-3h0m8-2h0m10-4h0m39-13h0m9 3h0m6 5h0m1 3h0m9 10h0m11-1h0m40-2h0m70 24h0m-68 1h0m-8-19h0m-10 16h0m-2-12h0m-7 2h0m-6 5h0m-14-12h0m-5 4h0m-3 3h0m-14-6h0m-7 11h0m-2-2h0m-3 9h0m-17 2h0m-1-10h0m-18-5h0m-9 7h0m-10 4h0m15 13h0m11 13h0m16-8h0m2-1h0m11-1h0m32-10h0m15 23h0m2-5h0m1-12h0m1 0h0m15 35h0m-22-2h0m-20-13h0m-14 2h0m-17 16h0m-1-7h0m-27 9h0m55 9h0m16-2h0m3 0h0m1 3h0m143 1h0" stroke="rgb(185,125,70)" stroke-width="2.6" stroke-linecap="round" fill="none" stroke-opacity="0.75"/><ellipse cx="207.3" cy="46.8" rx="7.3" ry="3.0" fill="#f3f3f1" fill-opacity="1.0" transform="rotate(-15 207.3 46.8)" filter="url(#b0_8)"/><ellipse cx="244.4" cy="74.6" rx="2.4" ry="7.9" fill="#f3f3f1" fill-opacity="1.0" transform="rotate(10 244.4 74.6)" filter="url(#b0_8)"/><ellipse cx="257.6" cy="92.4" rx="2.6" ry="5.9" fill="#f3f3f1" fill-opacity="1.0" transform="rotate(-20 257.6 92.4)" filter="url(#b0_8)"/><ellipse cx="228.5" cy="57.7" rx="2.6" ry="2.0" fill="#f3f3f1" fill-opacity="1.0" filter="url(#b0_8)"/></g>
</g>
<g clip-path="url(#c19)"><rect x="138.6" y="135" width="132.2" height="99" fill="#eeeae2"/>
<g filter="url(#b0_35)"><g filter="url(#s4)"><rect x="138.6" y="135" width="132.2" height="99" fill="#000"/></g><path d="M138.6,144.9 L178.3,139.9 L231.1,135.0 L270.8,135.0 L270.8,184.5 L244.4,189.4 L217.9,184.5 L191.5,179.6 L165.0,174.6 L138.6,169.7Z" fill="rgb(200,195,215)" fill-opacity="0.35" filter="url(#b4)"/><g filter="url(#s5)"><path d="M138.6,144.9 L178.3,139.9 L231.1,135.0 L270.8,135.0 L270.8,184.5 L244.4,189.4 L217.9,184.5 L191.5,179.6 L165.0,174.6 L138.6,169.7Z" fill="#000"/></g><g filter="url(#s6)"><ellipse cx="251.0" cy="199.4" rx="26.4" ry="29.7" fill="#000"/></g><path transform="scale(.5)" d="M524 278h0m-10-6h0m-4 7h0m-9 7h0m-3-1h0m-10-2h0m-10-9h0m-9 12h0m-4-5h0m-1 0h0m-8-4h0m-1 0h0m-5 5h0m-3-4h0m-1 1h0m-13 1h0m-4 1h0m-1 0h0m-1 0h0m0 7h0m0-3h0m-4 1h0m-1-6h0m-8 3h0m-3 0h0m-7-2h0m-20-1h0m-4 4h0m0-1h0m-2 4h0m-1-7h0m-1 2h0m-6 6h0m-4-7h0m-3-11h0m-8 12h0m-5 3h0m-1-2h0m0-4h0m-5-8h0m-1 12h0m-5 1h0m-2-2h0m-4 1h0m-1-4h0m-3 7h0m-5 0h0m-5 0h0m-19-14h0m-17 4h0m8 32h0m4-13h0m1 7h0m1 6h0m4-12h0m4 6h0m0-4h0m11 4h0m0 7h0m1 2h0m2-2h0m3-6h0m0 7h0m1-2h0m5-16h0m1 5h0m2-7h0m2 10h0m1-6h0m4 3h0m2 4h0m6-1h0m0-4h0m9 3h0m1-8h0m13 19h0m2 1h0m1-12h0m11-9h0m2-1h0m6 12h0m23-3h0m3 10h0m1-3h0m1-3h0m2 3h0m10 0h0m1-17h0m2 22h0m9-21h0m4 20h0m4-5h0m2-11h0m0 1h0m1 10h0m0 7h0m2-4h0m4-1h0m8-2h0m9-9h0m1-3h0m3-2h0m1 13h0m2-2h0m0 10h0m10-16h0m6 11h0m2 1h0m2-16h0m8 5h0m1-7h0m2 19h0m3-11h0m3 2h0m2 9h0m1-1h0m1-9h0m2-1h0m7 12h0m3-14h0m1 29h0m-4 1h0m-13-12h0m-16 22h0m-1-21h0m-1 10h0m-4-1h0m-5-8h0m-8 7h0m0 13h0m0-15h0m-9-3h0m-2 16h0m-1-1h0m-5 2h0m-4-3h0m-1 0h0m-5-6h0m-4 4h0m0-6h0m-1 1h0m-6-2h0m0 7h0m-4-7h0m0 1h0m-2 9h0m-3-20h0m-1 20h0m-6-6h0m-2-6h0m0 7h0m-2-6h0m0 0h0m-2 11h0m-3-15h0m-1-1h0m-8 3h0m-3 15h0m-16 2h0m0-17h0m-15 6h0m-2-13h0m-9 17h0m-4 6h0m-10-8h0m-1-5h0m-7 5h0m-2-12h0m-1-1h0m-3 10h0m-1-4h0m-2 2h0m-4 7h0m-5-14h0m0 9h0m-2-3h0m-2 5h0m-5-10h0m-1 8h0m-6 8h0m-6-11h0m-4 0h0m-6 10h0m-2-9h0m-7 4h0m0-13h0m-4 38h0m6 5h0m23-17h0m4 9h0m16-11h0m18 5h0m15-3h0m0 3h0m4-2h0m0 6h0m2-7h0m9 8h0m23-8h0m3 12h0m0-5h0m14-2h0m8-1h0m6 6h0m8 1h0m8 5h0m2-18h0m5 7h0m5 15h0m8-19h0m0 9h0m12-1h0m2 9h0m4-8h0m4-8h0m2 4h0m7 12h0m0-11h0m1 12h0m1-2h0m4 2h0m3-11h0m3 10h0m2-3h0m2-14h0m24 44h0m-6-9h0m-5 3h0m-10-17h0m-3 13h0m-6 8h0m0-7h0m0-9h0m-2 0h0m-12 16h0m-10 1h0m-3-2h0m-2-10h0m-3-6h0m-5 11h0m-1-10h0m-2 13h0m-2 3h0m-1-15h0m-1 17h0m-1-20h0m-2 14h0m-12-10h0m-21-8h0m-20 4h0m-13-1h0m-30 19h0m-14-4h0m-34 4h0m-7-21h0m-1 8h0m-8-1h0m-20 13h0m9 13h0m30 1h0m16-3h0m3 3h0m22-10h0m57 7h0m23 9h0m1-5h0m1-6h0m11-4h0m0 20h0m2-6h0m4-9h0m2 15h0m2-1h0m2 1h0m4-9h0m0 4h0m1-11h0m4 3h0m2-1h0m2 12h0m2-10h0m0 0h0m3 10h0m4-18h0m1 21h0m3-4h0m0 1h0m4-2h0m1 2h0m1-2h0m1-10h0m1 7h0m2 1h0m6 1h0m5-6h0m1 9h0m2-1h0m4-16h0m0 13h0m1-2h0m1-1h0m2-13h0m2 3h0m0 15h0m0-2h0m2 2h0m1 0h0m4-11h0m1 4h0m1 4h0m2-6h0m1 7h0m0 30h0m0-17h0m-1 1h0m-1-5h0m-2 14h0m-6 1h0m-1-5h0m-10-7h0m-3 4h0m-8 1h0m-2 4h0m-1 1h0m-2-11h0m-5 12h0m-1-3h0m-3-7h0m-4 14h0m-2 3h0m-1-4h0m0-14h0m-4-3h0m0 16h0m-2 2h0m-4-6h0m-1-7h0m0 9h0m-3 5h0m-8-6h0m0-1h0m-1 2h0m-1-4h0m-2 9h0m-2-1h0m-1-12h0m-1 14h0m0-5h0m-11-1h0m-1-4h0m-1 5h0m-1 3h0m-5 1h0m-9-12h0m0-8h0m-8 11h0m-11 6h0m-2-14h0m-32 9h0m-18-7h0m-21 9h0m-15-2h0m-23-5h0m-5 20h0m4 14h0m9-5h0m1 8h0m27-1h0m3-10h0m1 14h0m13-11h0m7-8h0m13 7h0m54-9h0m2 10h0m22-9h0m3 16h0m0 0h0m6-13h0m2 11h0m2-15h0m3 15h0m3 6h0m0-5h0m4-15h0m0 10h0m1 7h0m5-8h0m1-8h0m0 2h0m5-1h0m3 14h0m2-5h0m1-6h0m3-7h0m10 13h0m4 0h0m2-10h0m1 11h0m1 4h0m2-12h0m4 0h0m6 2h0m10 12h0m5-17h0m-17 29h0m-4 1h0m-10-6h0m-7 8h0m-4-4h0m-2-2h0m-3 1h0m-16 4h0m-10 0h0m-6-9h0m-3 1h0m-21 8h0m-85-4h0m-5-4h0m-21 5h0" stroke="rgb(130,165,228)" stroke-width="4.4" stroke-linecap="round" fill="none" stroke-opacity="0.7"/><path transform="scale(.5)" d="M465 284h0m-4-1h0m-9-9h0m-23 2h0m-9 1h0m-5-1h0m-23 4h0m-3-3h0m-3-1h0m-4 5h0m-15-2h0m-13-1h0m-15 3h0m-2 2h0m-42-3h0m2 27h0m26-7h0m26-10h0m6 4h0m4-6h0m3 10h0m2 14h0m13-20h0m27 5h0m2 15h0m1-3h0m18-14h0m4-3h0m12 0h0m2 11h0m14-11h0m16 11h0m11 7h0m0-9h0m1 0h0m10 0h0m8-5h0m2 2h0m8-4h0m1-2h0m0 2h0m6 17h0m12-7h0m4 6h0m-1 10h0m-16 5h0m-11-10h0m-1 14h0m-9 3h0m-14-4h0m0 2h0m-8-8h0m-13-5h0m-1-2h0m-12 1h0m-2 10h0m-17 6h0m-10-14h0m-3 11h0m-8-7h0m-5 4h0m-5 5h0m-7-9h0m-4-9h0m-1 5h0m-18 8h0m-10-12h0m-8 5h0m-4 3h0m-2 14h0m-1-23h0m-5 19h0m-3-3h0m-10-4h0m0-10h0m-32-2h0m-2 17h0m50 13h0m1-3h0m8 16h0m4-9h0m4-9h0m9 0h0m19 8h0m0 6h0m6 0h0m1-4h0m40-8h0m17 7h0m13-10h0m0 16h0m15-6h0m9 9h0m11-8h0m4-7h0m1 2h0m4 15h0m18-2h0m4 13h0m-2-6h0m-3 13h0m0-6h0m-4 5h0m-1 8h0m-3-13h0m-2 13h0m-15-7h0m-15 7h0m-14-21h0m-5 18h0m-1-1h0m0-7h0m-17 10h0m-15-17h0m-16 10h0m-12-13h0m-5 19h0m24 23h0m35-13h0m1-7h0m12 9h0m2 1h0m19-1h0m2 5h0m23 0h0m0-7h0m3 9h0m12-16h0m5 6h0m1 31h0m-21 2h0m0-2h0m-18-11h0m-18 17h0m-4-8h0m0-1h0m-6 1h0m-22-3h0m-1 15h0m-8-16h0m-50 13h0m-27-7h0m-46 12h0m155 14h0m0-3h0m8-10h0m3 15h0m3 1h0m9 4h0m7-3h0m18-8h0m3 5h0m3 1h0m7-14h0m1 8h0m-20 17h0m-13 8h0m-7-2h0m-23-8h0m-94 5h0" stroke="rgb(90,125,210)" stroke-width="2" stroke-linecap="round" fill="none" stroke-opacity="0.75"/><path transform="scale(.5)" d="M313 287l1 3 3 2 2 3m-13-7l0 4 -1 2 -1 2m-25-11l4 1 2 1 1 3m55 79l-1 3 0 4 -2 3m-47 27l0-4 -1-2 -2-1m4 5l-1-3 -3-2 -1-4m25-1l1 2 1 2 0 3m0-8l1 2 0 3 0 3m17-14l2 0 2 2 4-1m0 9l2 0 2 1 1 3m9-4l0-2 -2-3 0-3m26 34l1 3 2 1 2 1m-34-14l-2 1 -2 2 0 4m-7-2l-2 0 -1 1 -2 0m-3-6l3 1 2-1 4 1m-12 8l2-3 2-3 2-1m-40-4l-4 0 -2-2 -2-3m6 21l1 2 2 2 1 4m-8-19l-2-2 -3-1 -3 0m-1 14l0-4 2-2 4-2m8 16l1 3 3 1 4 2m-6 1l3 2 1 4 2 3m0-3l-2 1 -1 2 -1 2m14-3l3-3 3-3 4 0m-8 5l0-3 -2-2 -1-4m24 7l3-2 0-4 -2-2m2-3l1 4 0 3 -3 3m2-2l4-1 2-2 2-1m9 15l1-3 4-1 3-1m17-15l2 3 3 2 3 2m-3-3l4 1 1 4 1 4m-30 8l3-3 2 0 3 0m-47 3l3 1 2-1 3-3m-24 2l0 3 -2 2 -3 2" stroke="rgb(212,160,100)" stroke-width="4.4" stroke-linecap="round" stroke-linejoin="round" fill="none" stroke-opacity="0.75"/><path transform="scale(.5)" d="M313 287l1 3 3 2 2 3m-13-7l0 4 -1 2 -1 2m-25-11l4 1 2 1 1 3m55 79l-1 3 0 4 -2 3m-47 27l0-4 -1-2 -2-1m4 5l-1-3 -3-2 -1-4m25-1l1 2 1 2 0 3m0-8l1 2 0 3 0 3m17-14l2 0 2 2 4-1m0 9l2 0 2 1 1 3m9-4l0-2 -2-3 0-3m26 34l1 3 2 1 2 1m-34-14l-2 1 -2 2 0 4m-7-2l-2 0 -1 1 -2 0m-3-6l3 1 2-1 4 1m-12 8l2-3 2-3 2-1m-40-4l-4 0 -2-2 -2-3m6 21l1 2 2 2 1 4m-8-19l-2-2 -3-1 -3 0m-1 14l0-4 2-2 4-2m8 16l1 3 3 1 4 2m-6 1l3 2 1 4 2 3m0-3l-2 1 -1 2 -1 2m14-3l3-3 3-3 4 0m-8 5l0-3 -2-2 -1-4m24 7l3-2 0-4 -2-2m2-3l1 4 0 3 -3 3m2-2l4-1 2-2 2-1m9 15l1-3 4-1 3-1m17-15l2 3 3 2 3 2m-3-3l4 1 1 4 1 4m-30 8l3-3 2 0 3 0m-47 3l3 1 2-1 3-3m-24 2l0 3 -2 2 -3 2" stroke="rgb(185,120,60)" stroke-width="2" stroke-linecap="round" stroke-linejoin="round" fill="none" stroke-opacity="0.75"/><path d="M175.6,167.7 L198.1,164.7 L217.9,170.6 L233.8,180.5 L217.9,181.5 L198.1,176.6 L178.3,172.6Z" fill="#f2f0eb" fill-opacity="0.85" filter="url(#b1_2)"/></g>
</g>
<text transform="translate(270.30 120.90) scale(0.86 1.0)" font-size="8.2" text-anchor="end" font-weight="normal" fill="#111" stroke="#111" stroke-width="0.2">100µm</text>
<line x1="250.60" y1="123.40" x2="268.40" y2="123.40" stroke="#000" stroke-width="1.4"/>
<text transform="translate(269.50 224.90) scale(0.93 1.0)" font-size="7.7" text-anchor="end" font-weight="normal" fill="#111" stroke="#111" stroke-width="0.2">50µm</text>
<line x1="250.50" y1="227.50" x2="267.60" y2="227.50" stroke="#000" stroke-width="1.4"/>
<g clip-path="url(#c22)"><rect x="276.6" y="30" width="132.2" height="99" fill="#e4e1de"/>
<g filter="url(#b0_35)"><g filter="url(#s7)"><rect x="276.6" y="30" width="132.2" height="99" fill="#000"/></g><path d="M276.6,49.8 L322.9,74.6 L369.1,99.3 L402.2,114.1" stroke="rgb(200,208,232)" stroke-opacity="0.5" stroke-width="34.6" fill="none" stroke-linecap="round" stroke-linejoin="round" filter="url(#b5)"/><path transform="scale(.5)" d="M561 61h0m3 9h0m18-5h0m7 0h0m8 2h0m10-1h0m7 3h0m8-7h0m12 0h0m2 3h0m19-2h0m2 8h0m8-11h0m3 8h0m10-2h0m10 3h0m7-6h0m3 6h0m10-5h0m3 4h0m1-4h0m17-4h0m2 6h0m2-4h0m1 7h0m41-4h0m7 5h0m4-3h0m3-1h0m6 3h0m21 3h0m-10 13h0m-7 10h0m-6-5h0m-2-5h0m-4 3h0m-5-10h0m-2 17h0m-18-21h0m-2 12h0m-2-12h0m-5 14h0m0-12h0m-4 8h0m-5-3h0m0 6h0m-18-2h0m-4 6h0m-1 3h0m0 0h0m-7-15h0m-8 16h0m-5-7h0m-1 8h0m-2-24h0m-5 1h0m-4 22h0m-1-6h0m-2-9h0m-4 1h0m-8 11h0m-2-11h0m-7-9h0m-3 23h0m-5-2h0m-10 1h0m-1-10h0m0-7h0m-3 18h0m0-22h0m-5 21h0m0-11h0m-9 6h0m-6-2h0m-1-13h0m-6 14h0m-6-15h0m-7 22h0m-4-18h0m-2 5h0m-3 5h0m-5-1h0m-1-10h0m-3 18h0m-4-9h0m-1 0h0m-1-4h0m-5 4h0m0 7h0m-2-18h0m-6 14h0m-2-2h0m-11 4h0m8 7h0m5 23h0m1-9h0m3 9h0m6-2h0m3-21h0m4 22h0m2-15h0m1-2h0m1 15h0m1-1h0m1-13h0m1 15h0m5-3h0m1 0h0m2 2h0m0 1h0m3-4h0m2-17h0m0 5h0m1 14h0m2-2h0m0-13h0m1 17h0m1-18h0m6-1h0m3 13h0m2 7h0m2-3h0m0 2h0m0 0h0m3-21h0m1 13h0m1-3h0m1-1h0m6 8h0m1-15h0m1 18h0m2-4h0m2-1h0m2-15h0m2 21h0m6-5h0m5 1h0m0-16h0m1 10h0m4 10h0m2-2h0m1 0h0m3-4h0m0 5h0m5 2h0m9-2h0m1 3h0m2-4h0m3 1h0m4-10h0m1 6h0m2 2h0m7 3h0m1-8h0m5 9h0m1 0h0m0-4h0m3 3h0m3-8h0m5 9h0m6-8h0m1-15h0m2 5h0m6 17h0m4-20h0m10 10h0m7 0h0m5 12h0m1-18h0m6-3h0m5 21h0m7-3h0m3-18h0m1 8h0m2 9h0m5 3h0m1-8h0m9-14h0m0 11h0m1-4h0m6-4h0m8 11h0m-1 29h0m-6-9h0m-3 11h0m-4 0h0m-2 1h0m-17-12h0m0 10h0m-5-13h0m-4-5h0m-5 18h0m-2-1h0m-11-5h0m-1-4h0m-2 4h0m-1 3h0m-2-5h0m0 8h0m-1-9h0m-1 8h0m0-5h0m0 2h0m-2 2h0m-1-5h0m0-6h0m-1 1h0m0 15h0m-2-16h0m-2 6h0m0-9h0m-2 18h0m-1-16h0m-1 9h0m-2 6h0m-1-1h0m0-15h0m-3 12h0m-4-13h0m0 19h0m-1-11h0m-1 3h0m-2-12h0m0-3h0m-1 19h0m-2-6h0m-1-9h0m0-3h0m0 7h0m-2 6h0m0-6h0m-1 8h0m-1 1h0m-4-2h0m-3-12h0m-1 16h0m0 0h0m-1-18h0m-6 17h0m-1 5h0m-1-18h0m-2 8h0m-1-7h0m-2 15h0m0-8h0m0-8h0m-1 12h0m-4-7h0m-6-7h0m0 1h0m0 0h0m-2 6h0m-1-4h0m0-3h0m-1 15h0m0-8h0m-1 8h0m-2-13h0m-2 10h0m-2 7h0m-1-9h0m-1-9h0m-2 1h0m0 7h0m-1-7h0m-3 1h0m-2-6h0m0 14h0m0-10h0m-1 1h0m-2 9h0m0-6h0m0 6h0m-2-5h0m0 8h0m-3-17h0m0 18h0m-1 3h0m0-12h0m-1 12h0m-2-11h0m-3-2h0m-1-2h0m-2 5h0m-2 0h0m-2-10h0m-1 11h0m-1-1h0m-1-3h0m-1 13h0m-2-6h0m0-4h0m-1 10h0m0 1h0m-1-18h0m0-3h0m-1-1h0m0 21h0m-2-20h0m-3 20h0m-2-12h0m-2 6h0m0-1h0m-1 2h0m0-13h0m-1 13h0m-1-14h0m-1 14h0m0-15h0m-2-1h0m0 11h0m-1-1h0m0 9h0m-2-17h0m-1 1h0m0 20h0m0-5h0m-1 0h0m-1-9h0m-3 6h0m-1-10h0m-6 16h0m0-10h0m0 9h0m-1-1h0m-3-4h0m0-1h0m-5 1h0m-1 7h0m0-18h0m-4 10h0m0-3h0m0 11h0m-2-1h0m-3-13h0m-1 7h0m-1 3h0m-1-8h0m-1-2h0m0 7h0m0 1h0m-3 0h0m0-5h0m0 5h0m-2-13h0m0 9h0m-2 3h0m0 4h0m-1-16h0m-1 8h0m-1 1h0m-1-2h0m-2 7h0m-2-11h0m0 3h0m-2-1h0m-1 13h0m-1-9h0m2 34h0m0-1h0m1-21h0m0 9h0m0 8h0m1-6h0m0-5h0m1 4h0m3 12h0m0-14h0m1 12h0m1-17h0m4 18h0m1-1h0m0-5h0m1 5h0m4-5h0m1-15h0m0 1h0m0 12h0m5 5h0m1-12h0m0 3h0m1 10h0m0-18h0m2 2h0m0 1h0m1 6h0m2 3h0m0-13h0m0 2h0m1 9h0m0-6h0m1-1h0m0-2h0m2 6h0m1 7h0m0-13h0m3 10h0m1 10h0m0-13h0m0-5h0m0 15h0m3-1h0m0 5h0m0-11h0m3 5h0m0-14h0m0 18h0m1-12h0m0 4h0m0-5h0m1 13h0m2 1h0m2-20h0m1 21h0m0-6h0m0 3h0m1-3h0m6 3h0m0-4h0m4 7h0m1-15h0m0-8h0m4 19h0m0-9h0m2-2h0m0-6h0m0 19h0m0-6h0m0 4h0m1-10h0m0 5h0m2 6h0m1-15h0m1 9h0m1-1h0m0-13h0m0 14h0m1 5h0m1 3h0m1-20h0m1 4h0m0 6h0m1-6h0m1-7h0m2 17h0m0-12h0m1 6h0m4 10h0m0-17h0m2-1h0m3 15h0m1 4h0m1-16h0m0 6h0m1-5h0m3 10h0m1-15h0m0 14h0m1 4h0m4 4h0m1-15h0m0-7h0m1 18h0m0-10h0m1-6h0m0 15h0m1 1h0m0-7h0m0-3h0m2-4h0m1 14h0m2-5h0m3 5h0m0-9h0m1-1h0m0 1h0m1 0h0m1-2h0m1 8h0m0 5h0m2-4h0m0-11h0m1 0h0m0-3h0m1 13h0m2 1h0m1-4h0m0-2h0m1 11h0m0-6h0m0-5h0m0 11h0m2-1h0m1-15h0m1 10h0m1 1h0m1-15h0m1 10h0m0 4h0m2-10h0m2 1h0m0 8h0m0-12h0m0-1h0m1 13h0m1 1h0m0 6h0m2-12h0m0-8h0m0 7h0m3 5h0m0-4h0m2-1h0m0 4h0m1 10h0m2-6h0m1 3h0m2-14h0m2-4h0m1 5h0m0 16h0m3-10h0m2-2h0m1-3h0m2 11h0m3-14h0m1 16h0m4-17h0m0-3h0m1-2h0m1 15h0m1 3h0m0 2h0m1 2h0m1 2h0m3-6h0m1-9h0m1 13h0m1-13h0m0 1h0m1 13h0m0-22h0m2 22h0m0-4h0m0-12h0m0-3h0m1 10h0m0-14h0m2 21h0m1-1h0m1-16h0m2 11h0m0-5h0m1 13h0m0-12h0m1-9h0m1 3h0m0 16h0m0-17h0m2 12h0m2 2h0m0-12h0m0 16h0m0-9h0m1 0h0m0-12h0m1 7h0m1-5h0m2 5h0m5 7h0m1 1h0m4 2h0m5-12h0m5 17h0m3-18h0m4 6h0m1 9h0m22-10h0m1 35h0m-2-15h0m0 0h0m-2 7h0m-3 0h0m-4 7h0m-1-2h0m-1-2h0m-4 0h0m-1-5h0m-1 8h0m-1-3h0m0-8h0m-1 11h0m-4-9h0m0-1h0m-2 1h0m-2 9h0m0-9h0m-1 13h0m-2-3h0m-2-17h0m-1 13h0m0-9h0m-1 11h0m-1-16h0m-1 15h0m0-6h0m-1-2h0m-1-5h0m-4 18h0m-1-11h0m-1-2h0m-1-1h0m0-6h0m-3 15h0m-2-14h0m-4 9h0m-2-7h0m0 6h0m-2-5h0m-2 0h0m-2 15h0m-1 2h0m0-5h0m-1-7h0m0 3h0m0-7h0m-1 8h0m-3-2h0m0-5h0m-1 2h0m-1 14h0m-2-2h0m0-4h0m-2-17h0m0 14h0m0 8h0m-1-20h0m-3-2h0m-1 9h0m0-6h0m-1 14h0m0-3h0m0 6h0m-2 0h0m0 2h0m0-22h0m0 11h0m-1-6h0m-1-3h0m-1 9h0m-2 5h0m-1-12h0m0 7h0m0-7h0m0 1h0m-1-3h0m-1 6h0m0-3h0m-1 10h0m0-14h0m-1 7h0m-5 3h0m0 4h0m-3-8h0m0-5h0m-1 9h0m-2-9h0m0 3h0m-3 8h0m0-6h0m0-6h0m-1 18h0m-2 3h0m-1-14h0m-2-9h0m0 15h0m-2 5h0m0 4h0m-1-18h0m-1 7h0m-1-4h0m-1 14h0m0-13h0m0 1h0m-1 3h0m0 4h0m-1-11h0m0 9h0m-1 3h0m0-2h0m-1-6h0m-2 3h0m-1 10h0m0-3h0m-1-6h0m-2 2h0m0-10h0m0 7h0m-1-2h0m-2 0h0m0 6h0m-1 2h0m0-6h0m-4-9h0m-2-4h0m0 1h0m-1 8h0m-2-9h0m-2 18h0m-3-15h0m-1-1h0m0 14h0m-1-11h0m-1-3h0m-1 14h0m-1-4h0m-8-7h0m0-5h0m0 14h0m-1-9h0m0-4h0m-2 18h0m-2-17h0m-2 4h0m-1 2h0m-2 12h0m-2-10h0m-3 2h0m-1 2h0m0-1h0m0-12h0m-1 15h0m0-4h0m-3-5h0m-2 6h0m-1-2h0m-1-9h0m0 11h0m-4-2h0m-3-5h0m0-1h0m-1-5h0m0 3h0m-1 13h0m-1 0h0m-2-10h0m-1-6h0m-2 2h0m-2 14h0m0-13h0m-2 13h0m-1-7h0m0 0h0m-2-5h0m-1 16h0m-1-14h0m-1-3h0m-1 3h0m0-4h0m-2 13h0m-1-4h0m-4-11h0m-1 15h0m0-1h0m-3-1h0m-1-5h0m0-3h0m-1 6h0m-1-12h0m0 5h0m-1-3h0m0-1h0m0 10h0m-1 1h0m-11 0h0m0-2h0m0-9h0m-2 7h0m-1-8h0m0 2h0m-2 5h0m-1-2h0m-1 6h0m0-6h0m-1 1h0m-2 3h0m-4-8h0m-3 6h0m-6 41h0m4-10h0m0 7h0m1-9h0m0-7h0m1-5h0m1 14h0m1 3h0m3-6h0m32-1h0m6-7h0m9 1h0m16 19h0m0-13h0m1 10h0m2-18h0m5-2h0m1 10h0m4 5h0m1-8h0m0 0h0m4 10h0m2-5h0m9 0h0m7 10h0m13-5h0m2-13h0m1 1h0m1-4h0m0 19h0m1-19h0m1 1h0m3 3h0m1 18h0m0-7h0m1 3h0m1-8h0m0 5h0m0 2h0m1-18h0m1 18h0m4-3h0m0-2h0m1-5h0m0-1h0m1 4h0m0-10h0m5 20h0m1-5h0m0 7h0m0-16h0m1 7h0m0 8h0m0-8h0m1-2h0m0 4h0m2-4h0m1-11h0m2 6h0m1-5h0m4 14h0m1 7h0m0-2h0m0-20h0m1 18h0m2 3h0m1 1h0m1-17h0m1 4h0m0 5h0m2 4h0m5 3h0m1-5h0m1-15h0m0 2h0m1 6h0m0-2h0m1 2h0m2 14h0m2-16h0m0-2h0m2-3h0m0 11h0m1 9h0m0-4h0m1-10h0m4-2h0m1-5h0m2 2h0m1 7h0m0-10h0m2 6h0m1 6h0m1-11h0m1 6h0m1 6h0m1 9h0m1-17h0m0 5h0m0-11h0m3 5h0m0 9h0m0-7h0m1-6h0m3 0h0m2 5h0m1 6h0m1-10h0m1 8h0m1 2h0m1 4h0m0-11h0m0-1h0m0 10h0m2-3h0m1-3h0m0 3h0m0-10h0m1 0h0m0 22h0m0-4h0m2 0h0m1-5h0m0-9h0m1 12h0m2 0h0m1 6h0m1-18h0m4 10h0m0-7h0m1 15h0m0-9h0m1 3h0m0-11h0m2 14h0m1-13h0m1 13h0m4-10h0m1-10h0m2 19h0m0-6h0m1 7h0m1-12h0m0 0h0m0 7h0m2 3h0m0-17h0m0 20h0m0-16h0m1 13h0m0 1h0m1-10h0m3-5h0m3 1h0m1 3h0m2 30h0m-8-13h0m-5 2h0m-14-2h0m-1 1h0m-9 0h0m-1 3h0m-2 7h0m-4-11h0m-1 3h0m-3 6h0m-1-6h0m-4 3h0m-1-5h0m0 0h0m0 6h0m-1 0h0m0 8h0m-5-15h0m0 12h0m0 7h0m-3-8h0m0-1h0m0 4h0m-1 4h0m-1-14h0m0 13h0m-2-3h0m0 1h0m-2-3h0m-2-2h0m-1 13h0m-1-17h0m-3-1h0m-1 0h0m0 2h0m-1-6h0m-1 5h0m0-5h0m-1 21h0m-3-10h0m-4-4h0m0 3h0m0 1h0m-2-10h0m0-2h0m0 6h0m-1-7h0m-4 5h0m-4 7h0m0-10h0m0 2h0m-2 0h0m-1 10h0m-1 0h0m-2-2h0m0-4h0m-1-2h0m-1 15h0m-2-12h0m-3-1h0m0 2h0m-2 12h0m-2-7h0m-3 8h0m0-21h0m0 17h0m0-18h0m-1 5h0m-3 16h0m-7-16h0m-2 12h0m-8 0h0m-5-17h0m-6 18h0m-4-6h0m-4 6h0m-2 0h0m-6-8h0m-2 10h0m-2-20h0m-2 3h0m-14 12h0m0 1h0m-3-7h0m0 1h0m-2-9h0m-12 5h0m-6 6h0m-3 3h0m-2 1h0m-3-3h0m-2 8h0m-4-8h0m-7-7h0m-3 3h0m-11 6h0m-1-11h0m-3 13h0m-3-11h0m-1 12h0m-9-2h0m12 14h0m0 4h0m0 5h0m3-14h0m7 8h0m13 0h0m6-1h0m1-8h0m6 14h0m2-3h0m4-8h0m0 11h0m1-11h0m8 10h0m3-14h0m6 11h0m21-5h0m3 6h0m8 3h0m3-1h0m1 3h0m1-3h0m1-2h0m6-4h0m3-3h0m3 3h0m12 9h0m11-4h0m9-6h0m5 3h0m5 7h0m8 0h0m3-14h0m6 10h0m7-8h0m5 7h0m9 0h0m0 3h0m7-1h0m1-13h0m1 16h0m0-7h0m3 1h0m4-5h0m1-1h0m2 0h0m1 3h0m8 4h0m2-4h0m1 1h0m8-3h0m4-4h0m5 15h0m2-7h0m11-5h0" stroke="rgb(125,155,218)" stroke-width="2.4" stroke-linecap="round" fill="none" stroke-opacity="0.55"/><path transform="scale(.5)" d="M661 70l-2-3 -4-2m40 2l1-2 1-3m3 8l1-2 2-1m11-1l-4-2 -4 0m27 4l-1 3 1 4m5-9l-2 3 -3 3m14-1l2-2 2-4m4 3l-1 2 -2 3m21-4l4 2 2 0m0 1l0 3 -2 1m37 16l3 2 3 0m-9-1l-3-2 -1-2m1 2l-3 2 -3 3m4-16l0 3 -2 4m-3 1l-1-4 -3-2m-6 9l2 3 2 3m-10-8l0-2 2-3m-25 6l-1-3 -2-1m-14-13l1 2 2 3m-9-3l1-3 2-3m-6 7l-1-3 -3 0m-18 22l2 1 3 0m-26-21l1 3 0 4m-50 3l1 3 -2 3m-71 25l-2 2 -4-1m9-14l2 1 1 3m35 9l-2 3 -1 3m17-16l3-1 3-1m31 10l2 3 -1 3m7-19l3 1 4 2m-3 12l3 4 3 1m7-20l3-2 3 1m-2 0l0 2 -2 2m22 5l0-3 2-2m0 8l1-4 0-3m10 7l1-3 -1-2m1 12l-2-3 -1-4m20-16l3 1 3 1m2 15l-1 3 2 3m6-6l-1-2 0-4m18 6l-3 2 -1 3m10-12l-3 0 -2 2m25 7l-3-3 -2-2m21-3l-3-1 -3 1m0 23l0 4 1 2m-6-6l-3 0 -4 1m6 3l-1-2 2-3m-8-7l-4 0 -3-1m-3 2l1 4 -2 3m-19 4l-4 1 -2-1m2 10l-4 0 -2-1m-14-16l1-3 -1-2m-1 5l-4 0 -3-2m-5 2l2-3 4 0m-6 8l2-2 2-1m-7 6l-2 3 -3 0m-11-14l2-2 4-1m-9 9l4 0 3 2m-8 12l3 3 1 3m-6-14l-2 2 -1 3m-7-15l-1-2 -3-2m3 1l-1-3 1-2m-15 15l3 2 2-1m-11-14l-2 1 -2 2m4 6l-3 3 -1 4m2-9l-2-2 0-3m-1 3l2-2 1-2m-7 15l-4 2 -3 2m6-17l-3 1 -2 1m-58 7l3 0 2-2m-45 11l1 3 0 3m-7 15l-2 2 0 3m28-2l-4-1 -3 0m31-15l-2 0 -3 2m44 14l2 0 3-1m9-1l0 4 2 1m4-7l1-4 4-2m37-10l3-1 2-1m-3 14l1-2 1-3m2 12l-1 2 1 3m8-7l-2-3 -1-4m23-1l-3 3 -3 2m13 5l2-2 3 0m29-14l1-2 4-1m3 20l-1-2 -3-1m7-3l0 4 -1 4m10-22l1 2 3 1m-3 23l-3 1 -3-1m3 2l4-1 2-1m-30 3l2-1 0-3m-13 10l-1-3 -2-1m-6-3l1 2 0 4m-52 2l2 2 3 2m-6-11l1 2 1 2m-28-2l-2 1 -2-1m0 7l3 3 3 1m-25 1l-2-4 0-2m-15 9l-3 0 -3-1m-27-15l2 2 1 3m-11-3l1-4 2-2m-28 0l-2 1 -2 2m20 37l2 3 -1 2m14-4l-4-1 -3 0m84 2l-2-3 -3 0m6 4l-3-3 -3-1m17-14l2-4 -1-2m6 19l2 3 3 2m-4-12l1-4 -1-2m8 20l-4 1 -3 0m54-9l-2-1 -2-1m8 4l3-2 3-1m4-10l3-2 1-4m20 11l-3-2 -1-3m17 8l2 2 3-1m1 0l-2-4 -1-3m2 35l4 1 3 3m-43-15l-2 3 -2 3m-151-3l3 0 2 1m-12-3l0-4 2-3m-9 15l3-2 2-3m-53-1l1-3 2-3m25 21l1 3 -1 2m81 3l-1 2 0 4m48-2l2-1 4 1m16-5l-4 0 -2-1m15 1l-1-3 -3-1m63 14l-4-1 -2-3m6-10l-2 1 -4 2m14-1l-2-1 -3 0m5 12l1-4 -1-2" stroke="rgb(150,105,70)" stroke-width="1.6" stroke-linecap="round" stroke-linejoin="round" fill="none" stroke-opacity="0.75"/><ellipse cx="399.5" cy="89.4" rx="4.6" ry="6.9" fill="#f6f6f5" fill-opacity="1.0" transform="rotate(-15 399.5 89.4)" filter="url(#b0_8)"/><ellipse cx="276.6" cy="39.9" rx="2.6" ry="11.9" fill="#f3f3f3" fill-opacity="1.0" filter="url(#b0_8)"/></g>
</g>
<g clip-path="url(#c24)"><rect x="276.6" y="135" width="132.2" height="99" fill="#e7e3e0"/>
<g filter="url(#b0_35)"><g filter="url(#s8)"><rect x="276.6" y="135" width="132.2" height="99" fill="#000"/></g><path transform="scale(.5)" d="M802 276h0m-66-2h0m-15 12h0m-25-4h0m-5-3h0m-15-3h0m-23 7h0m-1-2h0m-4-4h0m-14 10h0m-5-15h0m-4 7h0m-2 5h0m-2 2h0m-8-4h0m-3-12h0m-1 17h0m-1-4h0m-6 0h0m-16 3h0m-20-3h0m-3 5h0m-8 20h0m17-11h0m4-8h0m2 19h0m2-2h0m4 2h0m7-4h0m0-11h0m2 8h0m0-1h0m3 8h0m10 3h0m1-8h0m0-12h0m1 7h0m2 11h0m1-3h0m0-6h0m7 6h0m3-8h0m1 7h0m6-6h0m2 2h0m2-6h0m2-2h0m4 8h0m1 10h0m2-18h0m8 18h0m8 1h0m3-9h0m2 4h0m14-15h0m20 7h0m26-9h0m7-2h0m16 15h0m37-6h0m16 3h0m-16 36h0m-8 0h0m-8-15h0m-12 12h0m-10 0h0m-7-11h0m-27 7h0m-12-2h0m-8-15h0m-26 6h0m-3 16h0m-1-17h0m-6 15h0m-1 0h0m-7 2h0m-1-11h0m-5-10h0m-2 20h0m-6-18h0m0 1h0m-3 16h0m-4-2h0m-1-18h0m-19 2h0m-4 20h0m0-9h0m-3 6h0m-3 2h0m-7-10h0m0 11h0m-8-7h0m-10-5h0m-5 9h0m0-1h0m-4-4h0m-3-2h0m-4-2h0m-1 16h0m4-2h0m4 2h0m4 11h0m2 10h0m4 0h0m5-6h0m8-3h0m0-4h0m3 8h0m5-18h0m5 4h0m2 4h0m2 4h0m6 8h0m1-5h0m5-10h0m1 5h0m1-10h0m0 5h0m5 16h0m0-18h0m4 19h0m1-4h0m0-14h0m6 16h0m2-4h0m12 3h0m2-14h0m2 11h0m1 1h0m1 6h0m1-11h0m1-9h0m1 10h0m2 5h0m1-17h0m4 12h0m2-8h0m2 3h0m1-1h0m4-4h0m6 5h0m16 9h0m27 2h0m12 3h0m4-10h0m0-8h0m11 14h0m6 5h0m0-17h0m4-3h0m5-2h0m2 6h0m1 10h0m4-5h0m7-12h0m4 8h0m0 15h0m1-6h0m11 0h0m2-6h0m6 9h0m18 1h0m-1 20h0m-2-3h0m-1-1h0m-3 9h0m0-12h0m-1 0h0m-3 8h0m-3-10h0m-1 11h0m-1-12h0m-3 2h0m-3-8h0m-1 10h0m-5 5h0m-3-6h0m-2 3h0m-4 9h0m-2-6h0m-1 7h0m0-20h0m-5 3h0m0-1h0m-3-2h0m-1 16h0m-2-10h0m-9-4h0m0 19h0m-4-12h0m-12-5h0m-4 3h0m-3 13h0m-3-15h0m-4 6h0m-1 3h0m-10-9h0m0-7h0m0 2h0m-1 10h0m-11 4h0m-4-15h0m-16 11h0m-3-11h0m-11 0h0m-6 16h0m-1-13h0m-5 14h0m-2 1h0m-1-20h0m-1 9h0m0-1h0m-2 7h0m0-14h0m0 2h0m-6 15h0m-1-8h0m-4 12h0m-1 1h0m-1-8h0m-1 1h0m0-3h0m-2-12h0m-2 8h0m-7 6h0m-1 7h0m-9-16h0m-5 15h0m-9-10h0m-6-7h0m0 11h0m-7 8h0m-2-11h0m0 8h0m-2-10h0m-10-6h0m-9 0h0m-2 19h0m-1-17h0m-1 17h0m-4-6h0m-2 4h0m-4-9h0m3 15h0m1 8h0m7-11h0m3 13h0m3 10h0m0-13h0m1-4h0m1-2h0m0 5h0m1 12h0m2 0h0m1-5h0m0-14h0m1 10h0m4-2h0m3-7h0m15 10h0m2 9h0m6-19h0m5 19h0m1-19h0m6 18h0m0-14h0m3-7h0m1 12h0m0-2h0m1 13h0m0-2h0m8-21h0m3 16h0m17-7h0m3-8h0m9 10h0m14-6h0m8 7h0m10-2h0m5 8h0m5 2h0m14 1h0m6-7h0m2 1h0m14-7h0m15-7h0m1 2h0m6 21h0m7-8h0m1-16h0m0 12h0m1 9h0m1-2h0m8-13h0m22 13h0m2-1h0m9 1h0m1-2h0m-5 18h0m-4-1h0m-1 5h0m-4-8h0m-5 4h0m-6-1h0m-2-8h0m-3 3h0m-6-1h0m-3 4h0m-2-8h0m-2 8h0m-1-7h0m-1 7h0m-2 10h0m-9-3h0m-4 0h0m-7-1h0m-1 7h0m-11-7h0m0-10h0m0 4h0m-1-4h0m-8 2h0m-2 10h0m-7-11h0m-6 15h0m-2-19h0m-1 8h0m-2-5h0m-1 12h0m0 4h0m-3-9h0m-6 4h0m-66-13h0m-1 0h0m-3 0h0m-6 5h0m-3 2h0m-1-4h0m-12 2h0m-11-4h0m-1 2h0m-1-1h0m-8 2h0m-1-2h0m-11 4h0m-7 15h0m-1-21h0m-8 16h0m-4-1h0m33 20h0m3-13h0m0 7h0m30 1h0m26 8h0m17-14h0m18 12h0m29-12h0m5 7h0m6-2h0m4 5h0m6-7h0m4 2h0m0 6h0m1-12h0m1 0h0m6 16h0m6 1h0m4-3h0m4-9h0m4 16h0m1-3h0m0-2h0m11-14h0m2 8h0m2-3h0m5 6h0m5-3h0m2 12h0m2-14h0m0-7h0m2 14h0m8-14h0m0 13h0m2 4h0m2-4h0m3-11h0m8 25h0m-8-2h0m-8 9h0m-31-1h0m0-9h0m-6 5h0m-5-3h0m-12 3h0m-42 4h0m-48-8h0m-3 9h0m-55-9h0m-5 4h0m-6-6h0" stroke="rgb(130,168,228)" stroke-width="5" stroke-linecap="round" fill="none" stroke-opacity="0.7"/><path transform="scale(.5)" d="M663 282h0m-36 2h0m-48-14h0m-18 28h0m10 0h0m3-9h0m3 6h0m28 14h0m16-14h0m162 37h0m-13 1h0m-53-18h0m-47 11h0m-4 5h0m-4-14h0m-8-4h0m-8 13h0m0 1h0m-55-9h0m-27 36h0m23-7h0m12-4h0m29 0h0m3 16h0m6-2h0m31-16h0m16 4h0m39 7h0m31 1h0m14 6h0m14-5h0m1 3h0m10-5h0m11 7h0m8 1h0m-27 3h0m-8 3h0m-20 9h0m-4 8h0m-8-11h0m-1 6h0m-6-6h0m-18 0h0m-31 4h0m-52 8h0m-1-21h0m-1 2h0m-63 4h0m-8-3h0m34 31h0m16-6h0m8 2h0m4 8h0m0 1h0m8-18h0m5 6h0m3 0h0m5 6h0m75 3h0m7 5h0m21-17h0m0 11h0m18 8h0m1-21h0m1 9h0m6 12h0m11-20h0m19 14h0m-4 26h0m-10-9h0m-1 0h0m-8 9h0m-13-13h0m-33 14h0m-10-3h0m-14-15h0m-15 9h0m-112-5h0m33 29h0m23 1h0m42 12h0m7-5h0m37-12h0m2 18h0m4-1h0m8-2h0m12-16h0m0 3h0m13 7h0m34 4h0" stroke="rgb(75,115,210)" stroke-width="2.6" stroke-linecap="round" fill="none" stroke-opacity="0.8"/><path transform="scale(.5)" d="M810 288l-2 2 1 3m-1-6l-4-2 -1-2m-56-1l0 5 -3 4m-4-13l0-4 -2-5m-3 12l-1 3 -1 5m-8-19l-5 0 -3 0m-4 17l2 2 1 5m-3-21l-4 4 1 4m-10 4l4 4 4 0m-24-18l-5 1 -2 1m2 14l4-2 5-2m-50 1l-3-4 -5 0m-48 2l-4 4 -3 2m4-3l-4 1 -3-1m57 25l2-3 3-2m16 3l-2-4 -3-2m25-5l0 4 -3 2m5 4l-1-5 -2-5m6 8l-1-3 2-4m4-7l1 3 1 3m40 13l-5 2 -4 2m39-7l4 1 3-1m7-5l1 3 1 4m-1 0l1 3 3 2m-4-11l3 3 3 0m3-12l3 0 3 4m30 12l0 3 2 2m-19 5l-1-3 -1-3m2 14l1 4 4 2m-9 1l-3 2 -2 5m-3-26l-4-1 -2-2m1 3l2-4 2-5m-31 11l0 4 -2 2m-15-5l3 1 4 2m-15-5l2-3 0-3m-18 9l-1-2 1-3m-10-1l2-2 2-2m-11 23l1-3 -3-4m-3 4l-3-4 -5-1m-3-1l-5-1 -2-3m-17 10l-3-1 -5 1m-46-15l-5 2 -3 3m-33 11l-1-4 1-3m16 31l-2-4 -4-2m20-1l3 3 3 3m15 1l-3-2 -4-3m52 5l-3-1 -5 0m33 3l-4 0 -3 2m10-18l-3-1 -2-1m16 9l4 1 4-2m-5-6l0 4 -2 3m6-2l5 0 5 2m24 8l-3-1 -1-3m9-7l4 1 1 4m-3 4l0-5 -2-3m4 12l2 1 3 3m3-18l-4 2 -4-1m12 11l2 2 2 1m-2-17l-1 3 0 2m4-8l3 2 5-1m-1 15l5-2 2-4m-3-8l-2 3 -3 2m10 3l4 3 2 0m-2-16l-4 2 -2 5m16 2l3 3 3 0m-3-12l2-4 4-3m4 35l4 3 1 3m-74-6l1 3 -1 3m-13-9l3-2 4 1m-48 17l-4-2 -4-1m-12-11l-4 2 -3 0m-28-4l3-3 4-2m-52 21l-2-4 -4-3m26 14l3 3 0 5m37-6l-1 5 2 3m12 6l-4 3 -3 3m43-15l2-4 2-1m0 11l1-3 2-2m0 1l-3 0 -3-1m33 2l-1-2 0-4m33 3l3 4 3 3m19-2l-3-1 -5 1m-124 22l0 3 0 3m-38-14l0 4 0 6m-13-7l-2 1 -3 3m-23 30l-2 2 0 3m73-20l3 5 3 2m11 17l-1-4 -3-2m27-4l-5-1 -3-1m-23 17l0-3 1-2" stroke="rgb(160,110,70)" stroke-width="1.8" stroke-linecap="round" stroke-linejoin="round" fill="none" stroke-opacity="0.75"/></g>
</g>
<text transform="translate(408.30 120.90) scale(0.86 1.0)" font-size="8.2" text-anchor="end" font-weight="normal" fill="#111" stroke="#111" stroke-width="0.2">100µm</text>
<line x1="388.60" y1="123.40" x2="406.40" y2="123.40" stroke="#000" stroke-width="1.4"/>
<text transform="translate(407.50 224.90) scale(0.93 1.0)" font-size="7.7" text-anchor="end" font-weight="normal" fill="#111" stroke="#111" stroke-width="0.2">50µm</text>
<line x1="388.50" y1="227.50" x2="405.60" y2="227.50" stroke="#000" stroke-width="1.4"/>
<g clip-path="url(#c28)"><rect x="414" y="30" width="132.2" height="99" fill="#dcd6d7"/>
<g filter="url(#b0_35)"><g filter="url(#s9)"><rect x="414" y="30" width="132.2" height="99" fill="#000"/></g><path transform="scale(.5)" d="M829 63h0m2 2h0m5 4h0m2-5h0m0 2h0m0 6h0m3-12h0m4 4h0m1 7h0m10-10h0m0 4h0m6 3h0m0-4h0m1 3h0m7-2h0m7 6h0m7 0h0m1-9h0m5-1h0m12 10h0m6-9h0m2 7h0m7-6h0m15 4h0m7-6h0m13 7h0m23 1h0m2 2h0m0-9h0m1 8h0m18-1h0m4 0h0m14 1h0m6-1h0m9-4h0m0 1h0m5-6h0m11 4h0m12-2h0m9-2h0m8 2h0m14 6h0m1-3h0m1 30h0m-1-10h0m-2 9h0m-6-1h0m-2-10h0m-4-4h0m-1 5h0m-4 2h0m0-10h0m-3 19h0m-3-14h0m-2 14h0m0 0h0m-3-13h0m-1 2h0m-1 3h0m-6 6h0m-4-9h0m-4 8h0m-1-20h0m-1 22h0m-3 1h0m-6-7h0m-1-11h0m-9-3h0m-4 17h0m-2-3h0m-6-14h0m-2 19h0m-7-16h0m-5 18h0m-1-7h0m0-3h0m-6-8h0m-11 1h0m-9 4h0m-6 12h0m-2-7h0m-4-12h0m-3 13h0m-9-8h0m-5 13h0m-6-11h0m-1 7h0m-3-11h0m-4 8h0m-3 5h0m-1-4h0m-10-2h0m-3 1h0m-3 4h0m-3-17h0m-3 23h0m-3-19h0m-1 9h0m-1-10h0m-1 11h0m-2 7h0m-7-10h0m-2-10h0m0 6h0m-4 15h0m-2-7h0m-13 3h0m-9 5h0m-2-9h0m-4 4h0m-3-10h0m-2 10h0m-4-2h0m-1-15h0m-1 15h0m0 6h0m-1-15h0m-1 7h0m-1-5h0m-2-9h0m-1 0h0m0 9h0m-1 7h0m-1 4h0m0-9h0m4 35h0m1-3h0m0-17h0m2 2h0m1 5h0m1-10h0m3 22h0m0-9h0m1-11h0m1 21h0m1-1h0m2-17h0m0 15h0m4 3h0m2-11h0m0-3h0m1 0h0m1-1h0m3 5h0m5-8h0m1 8h0m10-13h0m1 17h0m0-2h0m4 1h0m6 7h0m7 1h0m18-14h0m4 7h0m5-14h0m1 15h0m5-1h0m1-7h0m0 11h0m1-9h0m9-1h0m4 5h0m7 2h0m1-17h0m2 21h0m8-15h0m6 1h0m5 4h0m9 9h0m2-19h0m3 1h0m1-1h0m3 0h0m5 1h0m2 2h0m2 18h0m3-19h0m5 9h0m4-5h0m1 4h0m2 4h0m2-12h0m8 13h0m4-10h0m2 2h0m0 6h0m2 2h0m2-10h0m5 3h0m5 1h0m4 10h0m2-14h0m1 7h0m2-7h0m10 6h0m10-2h0m2-10h0m2 14h0m1-11h0m4 19h0m0-10h0m5 10h0m2-17h0m4 4h0m2 15h0m-3 21h0m-4-5h0m-4-4h0m-2-7h0m0 5h0m0 3h0m-1 3h0m-1 2h0m0 0h0m-1 2h0m-1-12h0m-1 12h0m-1-1h0m-1-9h0m-3 6h0m0-12h0m-1 14h0m-2-4h0m0 4h0m-1-4h0m-1-1h0m0-9h0m0 6h0m0 0h0m-1 7h0m-1-10h0m-1-1h0m-2 0h0m-1-1h0m-1 8h0m-2 4h0m0-13h0m-1 2h0m0 5h0m0 10h0m-3-11h0m0 1h0m0-5h0m0 4h0m-1 5h0m0-11h0m0 1h0m-1 11h0m0-2h0m-1 5h0m-2 2h0m0-12h0m-1 3h0m0-7h0m-1 0h0m-3 0h0m-2 9h0m0 5h0m-2-9h0m-1 6h0m-2 2h0m-1 4h0m-2-11h0m-1-1h0m-2 6h0m-1 6h0m-1-10h0m-1 7h0m0 0h0m-1 3h0m-1-6h0m-1 5h0m0-4h0m-1-1h0m0-10h0m0 14h0m-1-2h0m-1-2h0m-14-6h0m-1 8h0m-3-8h0m0 3h0m-4-10h0m-2-3h0m-3 14h0m-5 5h0m0-8h0m0-6h0m-1 3h0m-4 8h0m-5-16h0m-13 14h0m-15 6h0m-3-14h0m-9-1h0m-7 4h0m-3-6h0m0 18h0m-1-9h0m-1-8h0m-4-4h0m-5 18h0m-3-10h0m-4-4h0m-2 14h0m-2-17h0m-1 21h0m-7-15h0m-4 12h0m-2-2h0m-5 5h0m-3-3h0m-3 0h0m-3-6h0m-2-3h0m-3 8h0m-3-9h0m-3 3h0m-1-2h0m0 0h0m0-4h0m-6-2h0m-4 13h0m0-13h0m-1 4h0m0 10h0m-1 1h0m-2 4h0m-1-23h0m-1 0h0m0 4h0m-1 5h0m-1 10h0m0-3h0m-1-14h0m-3 3h0m0 11h0m-1 6h0m0-14h0m-5-3h0m-1-3h0m-1 10h0m-3-3h0m0 14h0m0-23h0m-2 11h0m0-2h0m-1 7h0m0 7h0m0 4h0m1 1h0m2-1h0m2 20h0m1 0h0m4 0h0m0-13h0m2-1h0m0 9h0m0-13h0m6 10h0m0 0h0m2-13h0m2 0h0m1-1h0m0 12h0m1-14h0m2 11h0m1-8h0m1 10h0m1 7h0m1 0h0m2 1h0m15-13h0m3 4h0m4 12h0m3-4h0m0-10h0m1-6h0m1 1h0m6-2h0m1 4h0m4 11h0m8-3h0m5 1h0m0-8h0m1-1h0m1 10h0m1-9h0m4-6h0m6 4h0m3 9h0m9 9h0m1-8h0m1-10h0m0 16h0m3-11h0m2 9h0m0-19h0m2 15h0m0 6h0m1-7h0m2-3h0m3 8h0m1 1h0m2-11h0m1-9h0m3 20h0m5-15h0m1-5h0m1 5h0m2-3h0m1 11h0m5-6h0m1 5h0m4 5h0m1-12h0m1-4h0m0 15h0m1-11h0m9 15h0m1-16h0m5 13h0m1-14h0m5 5h0m3 10h0m1 0h0m2 3h0m0-8h0m3 2h0m2 4h0m1 4h0m0-6h0m2 4h0m0-14h0m1 12h0m1-2h0m0-14h0m1 12h0m0 0h0m0-2h0m1-4h0m0 4h0m0-6h0m1-8h0m1 17h0m1-7h0m0 1h0m0-2h0m0 11h0m2 0h0m0-7h0m0-8h0m1-3h0m1 1h0m0-2h0m0 8h0m0-2h0m1 7h0m1 9h0m0-14h0m0 7h0m1 4h0m1-8h0m0 11h0m1-10h0m0-7h0m1 11h0m1-7h0m0-1h0m1 3h0m1-3h0m1-7h0m0 15h0m0-6h0m1 13h0m1-5h0m0-2h0m1-2h0m1 6h0m0-6h0m1 0h0m1-9h0m1-3h0m0 3h0m2-2h0m1 5h0m0 3h0m0 5h0m0-1h0m1-10h0m0 7h0m1 1h0m0-7h0m1 4h0m0-2h0m1 7h0m0-3h0m0-2h0m0 10h0m1-11h0m1 7h0m0 1h0m0-11h0m0 12h0m0-17h0m1 11h0m0-3h0m1 12h0m1-6h0m1 4h0m2-4h0m0 0h0m0-15h0m0 12h0m1-7h0m2 8h0m2-13h0m0 3h0m0 0h0m0 15h0m1 3h0m0-15h0m0-1h0m1-2h0m1 9h0m1-8h0m1 12h0m1 7h0m1-19h0m2 4h0m1 1h0m0 9h0m0-11h0m2 10h0m0 6h0m1-7h0m0-3h0m3-11h0m1 8h0m0 9h0m1-11h0m2 3h0m0 1h0m1-2h0m4 10h0m1-7h0m0-8h0m1-2h0m-5 27h0m-1 13h0m-2-16h0m-1-4h0m0 3h0m-1 0h0m-1 5h0m-1-3h0m0 2h0m0 4h0m-2-7h0m0 9h0m-3-5h0m-3-1h0m-1 3h0m0-4h0m0-5h0m0 11h0m-1 11h0m-1-8h0m-1-2h0m0 4h0m0-6h0m0-6h0m-1 10h0m0-6h0m-2-8h0m0 14h0m-1-14h0m0 1h0m-1 4h0m0 8h0m-1-2h0m0-11h0m-2 5h0m0 4h0m-2-7h0m0 7h0m-1-2h0m-1-8h0m0 7h0m-1-4h0m0 12h0m-2-5h0m-1-6h0m-1 1h0m-1 8h0m-1 4h0m0 5h0m-1-5h0m-2-10h0m0 4h0m-1-8h0m0 4h0m-1 1h0m-1-4h0m-2 2h0m-2-4h0m0 18h0m-2-14h0m0 4h0m-1-8h0m0 11h0m0 5h0m-1-18h0m-2 2h0m0 1h0m0 3h0m-1 6h0m0-7h0m0-2h0m0 0h0m0 6h0m-1-7h0m0 5h0m-1 1h0m0 9h0m-2-10h0m0 7h0m-1-9h0m-1-1h0m0 3h0m0 14h0m-2-14h0m0-6h0m-1 15h0m-2-12h0m0 4h0m0-6h0m0 16h0m-2-14h0m-2 1h0m-6 14h0m-2-13h0m-3 17h0m-2-12h0m0-10h0m-1 17h0m-2-11h0m-2 4h0m-4-6h0m0 19h0m0-3h0m-1-15h0m-3-4h0m-2 5h0m0 5h0m-1-6h0m-2-1h0m0 1h0m-6-4h0m-2 21h0m-2-21h0m-3 22h0m-2-15h0m-1-8h0m-3 7h0m-1-5h0m-3 8h0m-2-2h0m0 2h0m-1 7h0m-7-14h0m0 5h0m0-1h0m-4-7h0m-1 1h0m0 2h0m0 0h0m-1 0h0m-2 0h0m-1-3h0m-1 12h0m0-3h0m-1-5h0m-2 3h0m-5 13h0m-5-6h0m-10-6h0m-10-8h0m-7 9h0m-4-2h0m-6 0h0m-2 9h0m-5 1h0m-1 2h0m-3-13h0m-2 4h0m-3 0h0m0-7h0m-5 14h0m-4-9h0m-1 1h0m0 11h0m-2 0h0m-2-8h0m-4 7h0m-1-8h0m-3-1h0m0 1h0m-3-7h0m-4-3h0m0 3h0m-5 18h0m-1-15h0m0 1h0m0-4h0m0 5h0m-2-3h0m0 2h0m-3-3h0m-3 15h0m0-16h0m-2 12h0m-1-12h0m-1 4h0m-1 6h0m3 15h0m1-3h0m2 16h0m1-2h0m1 2h0m3-15h0m1 8h0m0-8h0m8 3h0m4 15h0m0-10h0m4-7h0m1 16h0m7-11h0m3 14h0m0-5h0m3-12h0m6-5h0m3 19h0m7-10h0m1 9h0m5-2h0m1 1h0m1-17h0m1 1h0m1 20h0m3-5h0m10 4h0m0-2h0m2-5h0m2-1h0m16 3h0m2-14h0m1-1h0m0 10h0m8 5h0m3-9h0m5 9h0m3 0h0m4 2h0m2-1h0m5 2h0m0-9h0m2-5h0m3 1h0m9 4h0m7 10h0m1-3h0m0-18h0m1 11h0m10 4h0m2 8h0m15-9h0m7 9h0m4-21h0m3 5h0m2-5h0m1 6h0m1 12h0m2 1h0m7 2h0m1 1h0m13-12h0m26 9h0m2-10h0m1-10h0m0 23h0m1-12h0m8 30h0m-8-2h0m-2 7h0m-10-3h0m-6-16h0m-1 14h0m-4 5h0m-5-11h0m-2 2h0m-2-8h0m-2-5h0m-3 18h0m-2-3h0m-1-12h0m-1 5h0m-6 13h0m-1 1h0m-5-3h0m-4-6h0m-2-9h0m-11 3h0m-1 8h0m-4-9h0m0-6h0m-14 15h0m-4-9h0m-4 14h0m-3-13h0m0 15h0m-2-12h0m-10 3h0m-4-12h0m-1 9h0m-3-2h0m0-1h0m-1 10h0m-2 5h0m-5-5h0m0-2h0m-5-6h0m-3-9h0m-7 9h0m-1-6h0m-3 15h0m-2-2h0m-3-9h0m0 9h0m0-13h0m-9 10h0m-2-3h0m-6 1h0m-4 2h0m0-12h0m-5 6h0m-6 13h0m-1-19h0m-4 16h0m-2-4h0m-8 7h0m-6-2h0m-3 4h0m-20-17h0m-1 8h0m-3 5h0m-1-18h0m-10 19h0m-4-9h0m0 1h0m-2 2h0m-4-11h0m-1 17h0m-1 18h0m20-14h0m0 12h0m2-8h0m0-3h0m4 10h0m12-8h0m3 3h0m3 0h0m1-2h0m2 12h0m4-6h0m5-6h0m6 11h0m8-3h0m20-6h0m4 7h0m2-6h0m10 2h0m6 5h0m10-2h0m2 5h0m9-9h0m8 5h0m5 2h0m4-11h0m1 8h0m16-11h0m2 9h0m7-1h0m5-3h0m28 7h0m11-10h0m4 11h0m18-1h0m5-8h0" stroke="rgb(110,145,215)" stroke-width="2.2" stroke-linecap="round" fill="none" stroke-opacity="0.6"/><path transform="scale(.5)" d="M872 61h0m210 17h0m-20-5h0m-89 20h0m-95-16h0m-18 38h0m54 0h0m92-9h0m5 0h0m9-7h0m38 7h0m29 33h0m-4 2h0m0-4h0m-4 3h0m-2 0h0m-1-8h0m-1-4h0m-2 4h0m-3 3h0m-2 0h0m0-11h0m0 17h0m-1-10h0m-1 11h0m0-7h0m-1-3h0m-1-7h0m-1-3h0m-1 20h0m0-2h0m-1 1h0m-3 0h0m-2-4h0m-1-15h0m-1 5h0m-3 11h0m-2-11h0m0-2h0m0 11h0m-2-11h0m0 7h0m-3 2h0m0-2h0m-2 2h0m-2 1h0m-2-7h0m-3-2h0m-3 11h0m-1-4h0m0-4h0m-1 6h0m-6 2h0m-2 2h0m-2 1h0m0 4h0m-91-2h0m-70 9h0m76 13h0m59 4h0m0-5h0m4-2h0m5-3h0m4-6h0m1 1h0m1 9h0m3-7h0m3-4h0m2 9h0m1-12h0m1-2h0m1 13h0m1 2h0m0-17h0m0 18h0m3-15h0m2 3h0m1 12h0m1-14h0m0 18h0m2 0h0m2-7h0m0 1h0m1-9h0m1 4h0m3 12h0m3-5h0m2-1h0m1 1h0m0 1h0m2-7h0m3-2h0m1 10h0m0 0h0m2-7h0m1-2h0m0-5h0m0 3h0m1 10h0m2-12h0m3 15h0m1 1h0m0-20h0m0 0h0m1 14h0m4 4h0m1-13h0m1-7h0m1 1h0m1 9h0m3 12h0m0-11h0m0 5h0m1 5h0m0-2h0m0-5h0m4-10h0m1 1h0m0 14h0m3-7h0m5 10h0m1-18h0m2 11h0m1 0h0m0-6h0m1-3h0m2 2h0m-8 20h0m0-2h0m-5 6h0m-1-1h0m0-7h0m-6 7h0m-1-7h0m-1 5h0m-2 5h0m-5-8h0m0 1h0m-4 11h0m-2-2h0m0 0h0m-1-6h0m-1-6h0m-3 12h0m0-5h0m-1 0h0m-3-1h0m-5-1h0m-3-3h0m-3 10h0m-1 0h0m-2-11h0m-2 0h0m-1 0h0m-2 2h0m0 0h0m-4 0h0m0-1h0m-17 2h0m-9-4h0m-111 23h0m15 12h0m41-3h0m44-4h0m45 12h0m-12 20h0m-39 10h0m-45-13h0m-75-1h0m-23-7h0" stroke="rgb(55,90,205)" stroke-width="2.4" stroke-linecap="round" fill="none" stroke-opacity="0.8"/><path transform="scale(.5)" d="M845 69l1-3 3-1m62 6l-2-1 -2-2m35-4l3 2 3 1m10-5l0 3 0 3m17 3l-2 3 0 3m13-9l4 1 1 2m9-1l-3-1 -1-2m8-6l3-1 2-2m20 6l-3 0 -2-1m56 1l-1-3 -3-2m14 31l-2 3 -3 1m-13 1l-3-2 -2-2m-3 4l2-1 2-2m-8-20l0-2 -2-2m-11 6l0 3 2 3m-10-1l3-2 0-3m-16 4l3-2 3 1m-8 16l-4-1 -3-2m-10-6l-1-2 -3-2m-11 13l2 3 1 3m-18-22l3 0 3 0m-12 13l0 4 -2 3m-6-10l-3 0 -3-1m3-6l0 2 -2 2m-10 2l1-2 2-1m-8-8l-3-1 -3 0m-52 12l0 4 -3 2m-33 2l-2 1 -4 1m6-13l-3 0 -2-1m-11 2l2-2 3-1m-1 39l2 1 1 2m8-18l2-2 2-2m0 2l4 0 2-2m-6-3l-3-1 -4-1m7 20l-1-2 -3 0m5-8l-2-4 1-4m22 21l-3 0 -1-2m41-9l-4 0 -2-1m15-9l2-3 1-4m37 7l2 2 3 2m2-2l-2-1 -2 0m82 2l-2-1 -3 1m22 10l3 1 2 2m5-12l-2 1 -4 1m20 9l-2-1 -3 0m8-6l-3-1 -2-1m-4 22l0-2 1-2m-12-1l2 1 2 1m-19 13l2-2 2-2m-6-6l0-3 -3-2m-3 9l3-1 3 2m-40 2l-2-1 -4-1m-39-9l-4 0 -2 2m-8 14l-1-3 -1-4m2-3l1-2 3-1m-12 12l1-4 3-2m-6 5l2-2 3 1m-15-5l1 2 3 3m-74 3l1 3 -1 2m-30-22l-1-2 -2-2m0 7l2-1 2-1m5 26l0 2 1 3m18 12l2 1 3-1m-1-19l-1 4 1 4m14 7l0 2 2 2m2-11l3-2 2 0m5 16l3-3 2-2m0-12l3-1 3-1m20 5l3 1 3 2m10 9l-3 1 -3 0m18-13l-3 2 -2-1m8-6l3-2 3 2m8 11l-3 2 -1 2m53-19l1-3 2-2m29 17l-3 3 1 3m16-2l3 0 1-3m6-5l-2-2 -3-2m18 10l-1-4 0-4m5 8l1 3 -1 3m-33 10l2-3 -1-3m-26 1l1 2 0 2m-29 2l-1 2 -2 1m-7-7l3-2 3-2m-62 19l2 1 3 2m-24-22l4 1 2 2m-13 3l4-1 3 1m-16 12l-1-4 -1-3m-7-11l1 3 1 3m-8 14l2 0 2 2m-9-2l0-4 -3-2m-13-13l3 0 2-1m-7 16l-2-3 0-3m-18-5l-3-1 -2-2m8 46l3 2 3 0m55-19l-3 2 -4 0m16 1l3 0 2-2m7 6l2 2 3 0m-5-9l2-1 3 0m7 6l2 1 1 2m2 8l-2-1 -1-3m24-7l-2-1 -4 1m23-2l2-2 1-3m60 12l-2 3 1 3m6-5l-1 4 -1 3m25-9l-2 1 -3-1m19 2l3 2 0 3m-6 22l-3 0 -2-1m-24-5l-1 2 -1 3m0-3l3 0 2 1m-22-11l-1-3 -1-2m-30 14l-4-2 -2-2m4 3l0-3 0-3m-6-2l1-4 2-3m-61 23l3 1 3 2m-44-8l1 3 3 2m-8-6l-2-3 -3-1m1 11l-3 0 -2-1m4-1l4 1 2-1m-21-15l-2 2 0 2m-13 11l-1-3 1-4m-18 1l1 4 1 3m-11 17l-2-4 -1-3m53 7l-2-2 -2-2m69 1l-2-3 -2-1m38 7l-2-1 -3-2m35 3l1-4 3-2m9 8l2-1 3 1m5-16l0-2 -2-2m11 3l-2 3 0 2m31 4l2 2 -1 4" stroke="rgb(135,90,65)" stroke-width="1.6" stroke-linecap="round" stroke-linejoin="round" fill="none" stroke-opacity="0.7"/><ellipse cx="527.7" cy="66.6" rx="9.9" ry="3.0" fill="#f6f6f6" fill-opacity="1.0" transform="rotate(-15 527.7 66.6)" filter="url(#b0_6)"/><path d="M536.9,30.0 L546.2,30.0 L546.2,67.6 L542.2,54.8 L539.6,39.9Z" fill="#f4f4f4" fill-opacity="1.0" filter="url(#b0_7)"/><path d="M414.0,101.3 L420.6,111.2 L429.9,121.1 L436.5,129.0 L414.0,129.0Z" fill="#f4f4f4" fill-opacity="1.0" filter="url(#b0_7)"/></g>
</g>
<g clip-path="url(#c30)"><rect x="414" y="135" width="132.2" height="99" fill="#e4dddb"/>
<g filter="url(#b0_35)"><g filter="url(#s10)"><rect x="414" y="135" width="132.2" height="99" fill="#000"/></g><path transform="scale(.5)" d="M1079 283h0m-4-10h0m-8 9h0m-7-10h0m-1 14h0m-6-4h0m-3-10h0m-11 14h0m-3 2h0m-6-12h0m-7-4h0m-20 11h0m-4-12h0m-18 6h0m-76 4h0m-3 1h0m-21-9h0m-9 1h0m-3 9h0m-7-11h0m-9 4h0m-5-5h0m-4 12h0m-1 3h0m-3-11h0m-1 2h0m-5 9h0m-4 20h0m19-9h0m16 14h0m4-6h0m1 1h0m3 2h0m0 2h0m0-9h0m12-3h0m11 4h0m4 6h0m0-2h0m0-6h0m9-5h0m1 16h0m12-14h0m9 14h0m1-12h0m5 7h0m1-8h0m5-10h0m3 4h0m2 5h0m9-8h0m1 10h0m6-7h0m0 17h0m18-9h0m1 5h0m0-17h0m2 0h0m10 13h0m13 0h0m3-6h0m4 16h0m7-14h0m6-3h0m11 4h0m5 0h0m2 11h0m9-10h0m5-8h0m1 18h0m1 3h0m5-11h0m3-3h0m19-5h0m0 0h0m-12 23h0m0 9h0m-17-1h0m-1-7h0m-15 5h0m-18-3h0m-6-6h0m-6 20h0m-3-13h0m-25 7h0m-22 9h0m-2-9h0m-2-7h0m-8-3h0m-7 13h0m-1-14h0m-8 5h0m-9 5h0m-21-8h0m-1-5h0m-24 1h0m-22 10h0m-2-5h0m-4 3h0m0-9h0m-8 6h0m-12 0h0m-5 11h0m25 23h0m12-2h0m7 8h0m13-11h0m4-6h0m1-1h0m4 6h0m7-5h0m1 6h0m2-1h0m7 11h0m10-16h0m2 8h0m3-7h0m16-4h0m17 17h0m14-10h0m7-3h0m8 1h0m4 16h0m8-4h0m5 1h0m1-6h0m2 3h0m5-9h0m5 12h0m1-12h0m17 1h0m0-2h0m27 12h0m2 0h0m2-6h0m13 4h0m9 6h0m-8 19h0m-2-1h0m-5-18h0m-30 9h0m-6 0h0m-1 5h0m-10-5h0m-11-7h0m-11 1h0m-4 15h0m-23-2h0m-3-7h0m-2 7h0m-26 0h0m-6 3h0m-11-9h0m-7 7h0m-1 0h0m-9-17h0m-1 9h0m-30 2h0m-3-3h0m-32 11h0m-2 1h0m-11-3h0m-6 14h0m27 7h0m8 10h0m10-12h0m0-4h0m19 7h0m2-13h0m2 10h0m20-5h0m4-3h0m4 19h0m19-9h0m13 0h0m4 6h0m2-9h0m11-3h0m3-1h0m1 15h0m10-16h0m1-3h0m4 5h0m1-1h0m19 10h0m2-17h0m9 13h0m20 2h0m23-5h0m8 0h0m0 6h0m1 5h0m13-12h0m3 39h0m-4 0h0m-8-5h0m-4-7h0m-6-11h0m0 11h0m-8 2h0m-3 9h0m-10 1h0m-5-2h0m-1-5h0m-4 5h0m-3-20h0m-23 16h0m-1-9h0m-4-4h0m-7 8h0m-22 9h0m-9 1h0m-8-17h0m-16 15h0m-3-15h0m-16 3h0m0 12h0m-8-8h0m-3 11h0m-4-4h0m0-6h0m-3 4h0m-9-11h0m-23-3h0m-3-4h0m-7 8h0m-2-7h0m-3 9h0m-1-8h0m-6 10h0m0-5h0m-4-7h0m-19 46h0m7-16h0m35 10h0m17-14h0m7 17h0m0-19h0m18 23h0m5-12h0m8 12h0m0-5h0m7-4h0m1 8h0m3-16h0m9-4h0m2 20h0m0-20h0m19 5h0m12 16h0m2-10h0m2 1h0m6-13h0m13 7h0m0 2h0m1 6h0m6-1h0m49-1h0m4 2h0m4-15h0m3 9h0m5-1h0m5 4h0m10 5h0m-13 18h0m-8-7h0m-71-1h0m-22-4h0m-4 7h0m-15 2h0m-41-6h0m0 4h0m-5 5h0m-17-8h0m-7-4h0m-8 4h0m-6-3h0m-4 4h0m-12-2h0m-2-1h0" stroke="rgb(135,168,226)" stroke-width="5" stroke-linecap="round" fill="none" stroke-opacity="0.7"/><ellipse cx="517.1" cy="179.6" rx="26.4" ry="29.7" fill="rgb(175,185,230)" fill-opacity="0.4" filter="url(#b5)"/><path transform="scale(.5)" d="M853 274h0m151 35h0m2 0h0m5-1h0m1 3h0m0-6h0m4-2h0m2 8h0m2-4h0m1-3h0m5-3h0m2 8h0m0-9h0m1 5h0m2-1h0m0 2h0m3-6h0m2 6h0m5 1h0m3 2h0m1-5h0m5 1h0m7 2h0m8 3h0m17 25h0m-3-2h0m0-2h0m0-5h0m-1-2h0m-1-3h0m-3 12h0m-1-9h0m-4-4h0m0 15h0m-4-4h0m-2-16h0m-1-1h0m-1 20h0m-2-14h0m0-1h0m-1 3h0m0 2h0m-3 0h0m-2 6h0m-1 2h0m-2-7h0m-1 6h0m-1-4h0m-1-14h0m-1 7h0m-3 11h0m0-15h0m0 20h0m-2-19h0m-2 18h0m-1-3h0m0-6h0m0-2h0m-1-4h0m-1 5h0m-4-1h0m-1 7h0m-4-11h0m0 1h0m-2 1h0m-1 4h0m-2-6h0m-2 14h0m-1-4h0m-1-15h0m-1-1h0m-1 16h0m-1-3h0m0 4h0m-4-4h0m-1-3h0m-1 10h0m0-21h0m0 9h0m-1 8h0m0-12h0m-2 9h0m-2-12h0m0 2h0m-1 1h0m-1 12h0m-1 2h0m-2-18h0m-1 12h0m-1-5h0m-1 0h0m-1 9h0m-1-8h0m-1 2h0m-1 5h0m-4 4h0m0 1h0m-3-2h0m-93 1h0m-37-13h0m127 25h0m1-7h0m3 17h0m1-3h0m2 0h0m2-11h0m2 3h0m1 0h0m1-7h0m1 4h0m1 11h0m1-11h0m0 19h0m0-2h0m1-1h0m1-4h0m0 5h0m1-4h0m0 2h0m1-11h0m7 2h0m1 8h0m2-10h0m0 5h0m0-14h0m1 23h0m0-9h0m3-9h0m1 15h0m0-19h0m1 14h0m4-10h0m0 16h0m4 1h0m0-6h0m1 7h0m2-16h0m1 12h0m0-10h0m0 9h0m3-13h0m2 8h0m1-4h0m2 0h0m0 2h0m1 2h0m0 8h0m2-15h0m8 3h0m0-5h0m1 5h0m0 3h0m1-8h0m1 1h0m1-2h0m0 10h0m2 1h0m0 9h0m1-5h0m0-6h0m1-2h0m1 12h0m1-2h0m0-4h0m1-9h0m6 12h0m1-12h0m0 10h0m2-16h0m0 20h0m0-1h0m0-20h0m2 9h0m0 10h0m0-9h0m1 6h0m0-13h0m1 13h0m1-5h0m1 5h0m0-8h0m0-4h0m1-3h0m1 14h0m3 0h0m1 2h0m1 3h0m5-3h0m3 29h0m-4-12h0m-1-10h0m-3 7h0m-3 10h0m-4-3h0m0-11h0m-1 2h0m0-1h0m-2 17h0m0-21h0m0 23h0m-1-13h0m0 8h0m0 1h0m-2-3h0m0-10h0m-2 4h0m0 13h0m-1-20h0m0 21h0m-1-5h0m-2 2h0m0 1h0m0-4h0m-1-15h0m0 18h0m-1-5h0m-1-1h0m0-3h0m0 7h0m-1-14h0m0 13h0m-1-9h0m-1 11h0m0-4h0m0 6h0m0-21h0m-1 2h0m0 19h0m-1-7h0m0-6h0m-1 0h0m0 8h0m0 5h0m0 1h0m-2-22h0m-1 13h0m0-2h0m0-5h0m-2 9h0m-1-6h0m0-8h0m-2 12h0m-1 8h0m-3-8h0m0 1h0m-1 5h0m0-15h0m-1 7h0m0 6h0m-1-9h0m0-2h0m0 2h0m-1 7h0m-1 4h0m-1-13h0m0 6h0m-2 6h0m-1-2h0m0-3h0m0 0h0m-1 2h0m0-14h0m0 2h0m0 14h0m-1-1h0m-1-10h0m0 7h0m0 9h0m-2-4h0m0-6h0m-1-7h0m0 10h0m0-5h0m-4 2h0m0 1h0m-1-4h0m-1 9h0m0-5h0m0-7h0m-1 10h0m-1-17h0m0 15h0m0-8h0m-1 6h0m-1-8h0m0 6h0m0 7h0m-1-8h0m0 5h0m-1-10h0m0 17h0m-1-11h0m-1-5h0m-1 0h0m0 3h0m-2-1h0m-2-5h0m-1 4h0m0 0h0m-1 4h0m-1 4h0m0-7h0m0 3h0m-1 10h0m-1-6h0m0 0h0m-1-4h0m0-7h0m-2 9h0m-1 4h0m0-12h0m0 14h0m-1-15h0m-1 3h0m0 2h0m-1 12h0m0-1h0m-1-11h0m0-8h0m-1 11h0m0 1h0m0 4h0m-3-14h0m0 3h0m-1 0h0m0 7h0m0-11h0m-2 18h0m-1-15h0m0 9h0m-1 1h0m-10 4h0m-1 4h0m-8-4h0m-11-3h0m-1 7h0m-3-5h0m-7 4h0m-3-8h0m-1 5h0m-4 1h0m-10 0h0m-4 3h0m0-9h0m-2 5h0m-6-2h0m-3 1h0m-2-3h0m-3 9h0m0-5h0m-7-2h0m-3 4h0m-1 3h0m-9-8h0m-3 6h0m-5-1h0m15 19h0m7-13h0m2-3h0m10 0h0m4 4h0m1-1h0m8 1h0m3 0h0m7 0h0m1-4h0m0 2h0m8-2h0m6 1h0m13 0h0m12 5h0m5 18h0m0-6h0m1 0h0m0 4h0m0-16h0m0 11h0m2-9h0m1-5h0m1 14h0m1-14h0m0 14h0m0-3h0m2 1h0m1 8h0m1-6h0m1 5h0m2-8h0m1 5h0m2-4h0m1-4h0m1 1h0m0 4h0m5-12h0m3 0h0m1 4h0m0 11h0m0-13h0m1 1h0m1 1h0m1 13h0m5-15h0m2 15h0m0-6h0m1-10h0m2 17h0m0-20h0m1 4h0m2 14h0m0-7h0m1-7h0m2 15h0m1-4h0m0-10h0m0 4h0m0-2h0m1 15h0m2-4h0m0-18h0m1 13h0m1-14h0m0 11h0m1 4h0m2-5h0m1 2h0m0 6h0m0-13h0m5 8h0m0-6h0m0 5h0m1-13h0m1 24h0m0-11h0m2-7h0m0 6h0m0 8h0m2-17h0m2 4h0m1 4h0m2 12h0m0-14h0m1 9h0m3-8h0m0 2h0m0-5h0m5-2h0m1 9h0m2 0h0m1-6h0m6 10h0m2-1h0m0 2h0m0-9h0m7-1h0m1 6h0m2-8h0m3 10h0m1 5h0m-5 4h0m-4 12h0m-1-4h0m-7-2h0m-7 11h0m-2-19h0m-3 17h0m-2 0h0m-6-5h0m-27-11h0m-2 9h0m-1-9h0m-5 12h0m-3 0h0m-4 0h0m-3-5h0m-1-7h0m-11 9h0m-89 0h0m25 28h0m0-1h0m132-11h0" stroke="rgb(45,80,205)" stroke-width="2.7" stroke-linecap="round" fill="none" stroke-opacity="0.85"/><path transform="scale(.5)" d="M943 277l3 1 4 1m-50-7l-3-1 -3 1m-17 9l4 2 2-1m-11-10l0 2 2 2m-22 4l0 4 -2 2m41 13l-1-3 0-3m7 4l-1-3 -2-1m4 4l0 3 -1 3m102-1l2-2 -1-3m-8 31l1-4 2-1m-45 5l-1 2 -3 2m-33-12l-2 0 -2 2m-1-6l3-3 0-2m-11 19l-2-1 -3-2m2-8l-4 2 -2 2m0-4l-3 2 -2 3m-10 11l3 2 2 1m-14-10l-3-1 -2-1m4 2l3-1 4-1m-29-13l1 2 1 4m-6 10l0 4 -2 3m-1-1l-1-4 1-4m34 13l-2 2 -2 3m8 1l-1 2 -1 3m27 3l-4 1 -2-1m20-18l0 2 0 2m7 4l3 1 3 2m-2-8l-1-3 -2-2m11 11l3 2 4-1m1-5l-4-1 -2-3m143 31l-2 2 -2 2m-44 3l4 0 1-2m-24 6l1-3 -1-2m-3-12l2 0 2 1m-62 0l0 4 -2 3m-33-8l1-2 0-2m-11 5l-1 3 -2 3m-4-5l-1 3 0 4m0-10l-1-3 -2-1m-21 5l-2 4 -2 2m149 29l-2 1 -2 0m69-14l3 1 3 2m-231 39l1 3 -2 4m20 21l-2 2 0 3m25-16l-4-1 -2-1" stroke="rgb(160,100,60)" stroke-width="2" stroke-linecap="round" stroke-linejoin="round" fill="none" stroke-opacity="0.75"/><ellipse cx="523.7" cy="159.8" rx="13.2" ry="5.4" fill="#f8f8f8" fill-opacity="1.0" transform="rotate(-8 523.7 159.8)" filter="url(#b0_6)"/></g>
</g>
<text transform="translate(545.70 120.90) scale(0.86 1.0)" font-size="8.2" text-anchor="end" font-weight="normal" fill="#111" stroke="#111" stroke-width="0.2">100µm</text>
<line x1="526.00" y1="123.40" x2="543.80" y2="123.40" stroke="#000" stroke-width="1.4"/>
<text transform="translate(544.90 224.90) scale(0.93 1.0)" font-size="7.7" text-anchor="end" font-weight="normal" fill="#111" stroke="#111" stroke-width="0.2">50µm</text>
<line x1="525.90" y1="227.50" x2="543.00" y2="227.50" stroke="#000" stroke-width="1.4"/>
<g clip-path="url(#c32)"><rect x="552" y="30" width="132.2" height="99" fill="#e0dcda"/>
<g filter="url(#b0_35)"><g filter="url(#s11)"><rect x="552" y="30" width="132.2" height="99" fill="#000"/></g><path transform="scale(.5)" d="M1105 70h0m4 0h0m8 1h0m2-3h0m10-1h0m19-2h0m0 2h0m10 4h0m0-2h0m6-5h0m3 1h0m22-1h0m4 5h0m7-9h0m6 5h0m4-3h0m4 8h0m6-3h0m13-4h0m4 4h0m2 2h0m3-5h0m12 1h0m10-3h0m0 4h0m3-2h0m7 1h0m5 4h0m14 2h0m1-6h0m14 2h0m1 3h0m1-1h0m7-6h0m6 6h0m1 0h0m3-8h0m27 0h0m3 3h0m11 15h0m-3 5h0m-2-7h0m-1 17h0m-3-1h0m-1-20h0m-10 16h0m0-4h0m-1 2h0m-3 8h0m-1-10h0m-1-5h0m-1 9h0m-6 5h0m-3-9h0m-6-6h0m0-1h0m-3-5h0m0 12h0m-3-12h0m-4 17h0m0-5h0m-6 1h0m-1-13h0m-1 17h0m-13 6h0m-9 0h0m-5-22h0m0 16h0m-17-12h0m-7 14h0m0 0h0m-4-2h0m-2 4h0m-1-13h0m-22 1h0m-1 3h0m0 10h0m0 0h0m-6-8h0m-1-6h0m-7 10h0m-1 1h0m-4-13h0m-1 16h0m-3-13h0m-1-9h0m-2 22h0m-4-13h0m-7 3h0m-5 0h0m-7-7h0m-4 12h0m-2-8h0m0 1h0m-2 11h0m-1-18h0m-10-2h0m0 12h0m-17-11h0m-1 4h0m-3 7h0m-9-4h0m-8 11h0m-3-5h0m-1-11h0m-4 22h0m2 20h0m2-13h0m1 13h0m5-5h0m1-7h0m4 7h0m2-10h0m6 15h0m3-16h0m3-3h0m1 1h0m3-2h0m2-3h0m1 18h0m7 1h0m5-7h0m2-10h0m9 12h0m4-6h0m6-2h0m1 5h0m1 0h0m7-5h0m1 0h0m3 3h0m2-4h0m2 11h0m4-3h0m0-5h0m4-1h0m2 14h0m2 2h0m1-10h0m2 5h0m3-6h0m3-9h0m1 5h0m10 16h0m2-3h0m8-1h0m1-15h0m1 11h0m3 5h0m2-1h0m2 3h0m7-9h0m2 9h0m8-2h0m8-9h0m2 5h0m1-13h0m2 5h0m5 14h0m7-4h0m1-4h0m12-6h0m1 10h0m1-11h0m7-7h0m6 5h0m5 11h0m3-5h0m21 9h0m5-1h0m3-15h0m4-4h0m6 26h0m-7 6h0m-2 13h0m0 0h0m-5-15h0m-4 5h0m-4-3h0m-7 0h0m-5 0h0m-7-3h0m0-1h0m-5 9h0m-2-14h0m-4 10h0m0 9h0m-4-3h0m-8-4h0m0-4h0m-1 11h0m-15-13h0m-3 3h0m-5 1h0m-1 13h0m0-19h0m-6 7h0m-1-2h0m-1 0h0m-8-2h0m-2-7h0m-2 18h0m-7-13h0m-6 9h0m0 1h0m0 4h0m-4-1h0m-5 3h0m-6-13h0m-2-7h0m-2 1h0m0 1h0m-5 6h0m-2 15h0m-8-7h0m-1-5h0m-14-1h0m-4-4h0m-1 11h0m0 4h0m-11-4h0m-4-4h0m0 9h0m-4-23h0m-4 18h0m-1 0h0m-1 1h0m-2-4h0m-2-3h0m-5-2h0m-9 8h0m-5-9h0m-3-1h0m0 9h0m-1-7h0m-16 13h0m-5-8h0m-3 0h0m-2 0h0m-2-13h0m0 22h0m-2-19h0m-3-4h0m3 44h0m3-16h0m7 14h0m0-17h0m3 21h0m1-2h0m2-12h0m4-6h0m2-3h0m12 21h0m10-3h0m5 0h0m1-5h0m1-2h0m6 11h0m8-11h0m3-8h0m1-1h0m1 7h0m1 14h0m8-12h0m1 4h0m8 7h0m4-17h0m0 11h0m3-2h0m3 1h0m1-6h0m6-2h0m8-3h0m5 18h0m9 1h0m10-3h0m1-7h0m8-12h0m15 21h0m0-21h0m8 6h0m1 12h0m1 0h0m2 3h0m0-7h0m0-7h0m1 7h0m0-6h0m29 13h0m24-13h0m1 2h0m12 8h0m12 5h0m1-1h0m2-5h0m0 27h0m-6-10h0m-3 4h0m-1-7h0m-6-1h0m-4-2h0m-1 6h0m-1 11h0m0-5h0m-9 4h0m-1-10h0m-1 12h0m-4-20h0m0 7h0m-2 8h0m-3-16h0m-12 1h0m0 15h0m-1-6h0m-4-9h0m-1 18h0m-3-4h0m0-7h0m-1-3h0m-1 17h0m-2-6h0m-1-7h0m-1-9h0m-1 22h0m-3-1h0m-1-11h0m-1-4h0m-2 3h0m-10-10h0m-3 3h0m0 6h0m-8-6h0m-6 15h0m-4-6h0m-5 6h0m-2-17h0m0 17h0m-1-9h0m0-9h0m-2 8h0m-8 9h0m-3 4h0m-7 0h0m-1-5h0m-12 4h0m0 0h0m-3-5h0m-1-4h0m-1 6h0m-4-3h0m-1 0h0m0-6h0m-1 5h0m-1 5h0m0 0h0m0-7h0m0-3h0m-1 6h0m-1-11h0m-3 6h0m-1 11h0m0 3h0m-3-18h0m-2 3h0m0 7h0m-1-2h0m0 7h0m-1-1h0m0-4h0m0-1h0m0 2h0m0 5h0m-1-7h0m-1 3h0m-1-15h0m-2 5h0m-1-2h0m-3 17h0m-5-20h0m-2 6h0m-1 13h0m0-7h0m0 7h0m-8-19h0m-2 18h0m-2 3h0m0-13h0m-1-3h0m-4 11h0m0-18h0m-4 10h0m-3 12h0m0-5h0m0-15h0m-14 18h0m-4 0h0m-7-10h0m-2-6h0m-1 7h0m0 6h0m0-11h0m-1 0h0m0 15h0m-1 0h0m-6-18h0m-1-1h0m-1 2h0m-6 32h0m1 9h0m2-12h0m2 6h0m0 3h0m12 0h0m4 2h0m0-7h0m6-4h0m2 7h0m2-5h0m0-8h0m0 15h0m1-5h0m1 3h0m6 1h0m1-16h0m3 11h0m3 7h0m1 2h0m0-21h0m1 5h0m0 9h0m0 8h0m0-8h0m3 8h0m2-21h0m1 1h0m2 5h0m1-5h0m2 5h0m0-6h0m0 20h0m1-8h0m5-2h0m1 2h0m1 0h0m0-3h0m0 10h0m1-1h0m1-1h0m1-19h0m0 19h0m2 5h0m0-4h0m0-12h0m3 10h0m1-10h0m0-3h0m3-3h0m0 20h0m1-19h0m1 11h0m0-3h0m1 5h0m1-4h0m0-11h0m0 3h0m0-1h0m1 13h0m0-9h0m1-7h0m0 8h0m2 8h0m1 4h0m1-3h0m0-2h0m1-12h0m1 18h0m0-5h0m0 2h0m0-6h0m2 4h0m2-6h0m0 6h0m0 4h0m0-5h0m3-5h0m0 9h0m0-3h0m0 5h0m2-17h0m0 8h0m0-8h0m1 16h0m2-10h0m3 1h0m0-8h0m1 9h0m0 6h0m0-16h0m2 9h0m1 5h0m0-8h0m1-8h0m0 8h0m5 14h0m12-15h0m1-1h0m2-3h0m2 2h0m2 2h0m1-3h0m3 15h0m2-2h0m4-13h0m7 9h0m1-8h0m2 13h0m9 6h0m5-1h0m2-6h0m6 6h0m6-16h0m4 8h0m0 9h0m3-16h0m2-6h0m14-1h0m1 22h0m3-1h0m5-10h0m16-6h0m6 0h0m1 16h0m10-8h0m0-5h0m8 4h0m0 6h0m2-13h0m5-3h0m-1 38h0m-2-7h0m-12-6h0m-1 10h0m-3-3h0m-12 1h0m0-2h0m0 2h0m-7-8h0m0 10h0m-3-11h0m-3 9h0m-4-3h0m-1-1h0m-4-3h0m-2-4h0m0 0h0m-1 20h0m-15 1h0m-2-19h0m-1 18h0m-2-5h0m-2-5h0m-13 6h0m-2-1h0m-3-15h0m0 11h0m-1 0h0m-5-11h0m-6 8h0m-3 7h0m-2-6h0m-5-7h0m-8 11h0m-1 4h0m-9-18h0m0 13h0m-2-8h0m-1 0h0m-1 0h0m-1-1h0m-5-1h0m-8 9h0m-11 9h0m-4-15h0m-1 2h0m0 0h0m-1-8h0m-1 16h0m0-12h0m-1 14h0m-1 4h0m-2-12h0m-2 4h0m0-2h0m-1 4h0m-1 2h0m-2-15h0m-2-1h0m-1 13h0m0-12h0m0 20h0m-4-8h0m0 9h0m0-11h0m-1-2h0m0-6h0m-1 13h0m0 2h0m-1-11h0m-2 13h0m-2-19h0m0 13h0m-3 0h0m0-15h0m-1 2h0m0 13h0m-1 1h0m0-16h0m-3 8h0m-1-2h0m0-1h0m-2 15h0m-1-5h0m-1-15h0m-1 0h0m0-1h0m0 15h0m-1-10h0m-1 17h0m-2-17h0m-1 10h0m-1 1h0m-1-9h0m-5 0h0m-3 16h0m-1-9h0m-1 5h0m-2-12h0m-3-5h0m-1 0h0m-9 18h0m-2-6h0m-1 2h0m-4-15h0m-6 10h0m-2-7h0m-2 11h0m-3-3h0m-1-12h0m0 19h0m0 12h0m9-6h0m6 14h0m3-10h0m1 8h0m4-10h0m0 6h0m19 8h0m8-8h0m0 7h0m2-12h0m2-3h0m9 2h0m0-3h0m4 6h0m1-3h0m2 4h0m3 2h0m2 6h0m5-4h0m4 4h0m6-6h0m5 3h0m2-11h0m6 7h0m3 7h0m0-7h0m5-3h0m14 2h0m7-4h0m13-3h0m0 2h0m2 3h0m3 4h0m6 8h0m9-5h0m6-2h0m7-6h0m1 10h0m7-1h0m5 3h0m0 0h0m9-12h0m4-3h0m7 0h0m3 15h0m2 1h0m17-15h0m5 2h0m2 7h0m16-6h0" stroke="rgb(120,152,215)" stroke-width="2.2" stroke-linecap="round" fill="none" stroke-opacity="0.6"/><path transform="scale(.5)" d="M1212 67h0m-107 39h0m13-7h0m60 5h0m44 8h0m58 7h0m36-16h0m-94 81h0m-2 2h0m-1-10h0m0 12h0m-6-12h0m-3 9h0m0 2h0m0-15h0m0 9h0m-3-7h0m-2 13h0m0 3h0m-5-15h0m0 16h0m-2-14h0m-43 33h0m13-6h0m1-2h0m0 12h0m1-19h0m1 21h0m0-9h0m1 0h0m3 0h0m0 3h0m1-18h0m0 10h0m2-4h0m1 1h0m1-4h0m1 10h0m1 3h0m3-14h0m1 11h0m1 9h0m0 0h0m0-9h0m1-7h0m0 3h0m2-3h0m2 16h0m3-10h0m3-5h0m4 0h0m3-2h0m1 10h0m4-8h0m1-4h0m4 4h0m0-1h0m9-6h0m0 1h0m83 14h0m60-7h0m-176 19h0m-2-2h0m-3 9h0m-4-3h0m-3-2h0m-1 6h0m-2 8h0m-1-18h0m-1 12h0m-3-8h0m0 12h0m0 6h0m-5-21h0m-1 13h0m-1 3h0m-3-17h0m-1 14h0m-1-12h0m-3 6h0m-2 5h0m-1-13h0m-1 8h0m-1 0h0m-1-7h0m-1 6h0m-1 14h0m-1-18h0m0-2h0m-4 3h0m-1 16h0m0-1h0m-2 0h0m-2-3h0m0 1h0m-27 6h0m31 6h0m2-4h0m5 9h0m0-7h0m1 2h0m1-4h0m4 5h0m0 2h0m2-8h0m1 9h0m2 1h0m3-6h0m7 3h0m92-5h0" stroke="rgb(60,95,205)" stroke-width="2.4" stroke-linecap="round" fill="none" stroke-opacity="0.8"/><path transform="scale(.5)" d="M1238 66l1-2 1-2m22 5l2 1 2 2m32-5l-2-2 -1-2m18 24l0-2 -1-3m-76-5l1-2 -1-2m-9 6l1-4 -1-3m-23 9l-2 1 -2 1m-44-6l2 0 2-2m-5 22l2 1 0 3m-16 17l0 3 -2 3m7-7l-3 0 -3 0m61-5l3 0 2 1m11 2l1 3 2 3m11-15l2-1 3 1m14 3l2-2 1-2m28 10l0 2 -1 3m3-2l1-3 -1-2m59 3l0-2 2-2m4 1l-2 3 0 2m10 27l3 1 2 1m-49-13l-2-2 0-2m-139 14l-1 2 -2 1m-25-19l2-1 2 1m-33-5l2 1 1 2m-12 28l3-2 0-2m11 13l1 2 0 2m7-15l1 2 2 2m10-7l2 0 2-2m28 19l0 3 -1 2m4-15l-2-2 -2-2m12 14l3-1 3-2m49 7l3 1 3 1m28-3l-2-2 -3 1m27-16l-3 0 -2 3m5 14l-2 0 -3 2m12-9l-2 0 -1-2m61 17l0 2 -1 3m-14 1l2-3 2-3m-28 9l-2-1 -3 0m4 7l0-2 2-1m-17 2l1 2 2 1m-18-15l1 2 2 2m-47 1l-2 1 -3 2m-6-6l3-1 2 0m-39 2l2 1 3-1m-46-6l1 2 -1 3m-17-5l-2-1 0-3m-26 45l2 1 0 2m20-13l-3-1 -2 0m7-12l2 2 1 3m18 13l0-3 1-2m16-9l-2-2 -1-2m30 2l3 0 2-1m22 4l2 2 0 2m12-1l-1 3 -1 2m40 1l-2 1 -3 1m26 6l-2-1 -2 1m39-6l1 2 0 4m1-16l2 0 3-2m8 16l1-3 0-3m11-4l1-1 0-2m1 18l0 2 -1 2m-30-4l0 3 -2 2m-3 5l1 2 3 1m-31 2l3 1 2 1m-6-17l-1 1 -1 1m1 6l-1 3 0 2m-3-5l2 2 3 1m-13-2l-1 3 2 2m-6 3l-1 2 -1 3m-15-11l-2 0 -3-2m-13-5l3-1 1-2m-14 15l1-2 0-3m-5-5l-2-1 -2-1m-39 4l1 2 1 2m-6 9l2 0 2-1m-43-20l1-2 1-1m44 34l2-2 1-3m108 6l-2 2 -1 2m20 4l-2-2 -3 0" stroke="rgb(150,105,75)" stroke-width="1.8" stroke-linecap="round" stroke-linejoin="round" fill="none" stroke-opacity="0.75"/><circle cx="627.8" cy="63.8" r="2.7" fill="#f0f0ee" fill-opacity="0.85"/><circle cx="659.1" cy="43.6" r="1.8" fill="#f0f0ee" fill-opacity="0.85"/><circle cx="649.5" cy="62.7" r="2.3" fill="#f0f0ee" fill-opacity="0.85"/><circle cx="661.6" cy="79.4" r="2.4" fill="#f0f0ee" fill-opacity="0.85"/><circle cx="626.8" cy="123.6" r="2.8" fill="#f0f0ee" fill-opacity="0.85"/><circle cx="585.4" cy="60.2" r="2.2" fill="#f0f0ee" fill-opacity="0.85"/><circle cx="610.2" cy="48.3" r="2.6" fill="#f0f0ee" fill-opacity="0.85"/><circle cx="656.3" cy="43.4" r="1.8" fill="#f0f0ee" fill-opacity="0.85"/><circle cx="658" cy="105.4" r="2.7" fill="#f0f0ee" fill-opacity="0.85"/><circle cx="631.4" cy="49.9" r="1.5" fill="#f0f0ee" fill-opacity="0.85"/><circle cx="598.8" cy="53.5" r="2.3" fill="#f0f0ee" fill-opacity="0.85"/><circle cx="661.1" cy="53.2" r="2.3" fill="#f0f0ee" fill-opacity="0.85"/><circle cx="637" cy="125" r="2.8" fill="#f0f0ee" fill-opacity="0.85"/><circle cx="588.5" cy="55.8" r="1.4" fill="#f0f0ee" fill-opacity="0.85"/><circle cx="617.6" cy="30.1" r="2.0" fill="#f0f0ee" fill-opacity="0.85"/><circle cx="650.4" cy="120.4" r="1.2" fill="#f0f0ee" fill-opacity="0.85"/><circle cx="617.9" cy="52" r="1.5" fill="#f0f0ee" fill-opacity="0.85"/><circle cx="588.9" cy="42.2" r="1.4" fill="#f0f0ee" fill-opacity="0.85"/><circle cx="619.5" cy="47.9" r="2.6" fill="#f0f0ee" fill-opacity="0.85"/><circle cx="564.8" cy="128.6" r="2.5" fill="#f0f0ee" fill-opacity="0.85"/><circle cx="567.8" cy="65.9" r="2.9" fill="#f0f0ee" fill-opacity="0.85"/><circle cx="634" cy="66.8" r="1.5" fill="#f0f0ee" fill-opacity="0.85"/><circle cx="634.3" cy="42.2" r="2.4" fill="#f0f0ee" fill-opacity="0.85"/><circle cx="671.3" cy="65.9" r="1.6" fill="#f0f0ee" fill-opacity="0.85"/><circle cx="623.9" cy="69.6" r="2.3" fill="#f0f0ee" fill-opacity="0.85"/><circle cx="557.2" cy="71.7" r="2.2" fill="#f0f0ee" fill-opacity="0.85"/><circle cx="647.9" cy="74.2" r="2.9" fill="#f0f0ee" fill-opacity="0.85"/><circle cx="619" cy="38" r="2.1" fill="#f0f0ee" fill-opacity="0.85"/><circle cx="651.2" cy="34.2" r="2.4" fill="#f0f0ee" fill-opacity="0.85"/><circle cx="617.9" cy="43.8" r="2.1" fill="#f0f0ee" fill-opacity="0.85"/><circle cx="643.8" cy="85.2" r="2.8" fill="#f0f0ee" fill-opacity="0.85"/><circle cx="615" cy="87.4" r="2.0" fill="#f0f0ee" fill-opacity="0.85"/><circle cx="640.3" cy="50.9" r="1.8" fill="#f0f0ee" fill-opacity="0.85"/><circle cx="556.7" cy="64.2" r="2.7" fill="#f0f0ee" fill-opacity="0.85"/><circle cx="611.3" cy="49.4" r="2.1" fill="#f0f0ee" fill-opacity="0.85"/><circle cx="593.7" cy="93.3" r="2.4" fill="#f0f0ee" fill-opacity="0.85"/><circle cx="622.5" cy="36.7" r="1.4" fill="#f0f0ee" fill-opacity="0.85"/><circle cx="643.1" cy="48.4" r="1.8" fill="#f0f0ee" fill-opacity="0.85"/><circle cx="613.8" cy="84.3" r="1.4" fill="#f0f0ee" fill-opacity="0.85"/><circle cx="611.9" cy="81.3" r="2.7" fill="#f0f0ee" fill-opacity="0.85"/><circle cx="648.5" cy="78.2" r="2.5" fill="#f0f0ee" fill-opacity="0.85"/><circle cx="644.6" cy="72.3" r="1.4" fill="#f0f0ee" fill-opacity="0.85"/><circle cx="664.9" cy="79.6" r="2.8" fill="#f0f0ee" fill-opacity="0.85"/><circle cx="665.6" cy="41.1" r="2.4" fill="#f0f0ee" fill-opacity="0.85"/><circle cx="623.3" cy="44.2" r="2.7" fill="#f0f0ee" fill-opacity="0.85"/><circle cx="560.5" cy="69.9" r="1.7" fill="#f0f0ee" fill-opacity="0.85"/><circle cx="587.1" cy="68.7" r="1.7" fill="#f0f0ee" fill-opacity="0.85"/><circle cx="610.1" cy="80.2" r="2.8" fill="#f0f0ee" fill-opacity="0.85"/><circle cx="614.3" cy="57.5" r="1.9" fill="#f0f0ee" fill-opacity="0.85"/><circle cx="628.1" cy="77.1" r="2.5" fill="#f0f0ee" fill-opacity="0.85"/><circle cx="556.2" cy="56" r="1.2" fill="#f0f0ee" fill-opacity="0.85"/><circle cx="629.4" cy="68.3" r="2.7" fill="#f0f0ee" fill-opacity="0.85"/><circle cx="562.7" cy="75" r="2.4" fill="#f0f0ee" fill-opacity="0.85"/><circle cx="669.9" cy="113.9" r="1.7" fill="#f0f0ee" fill-opacity="0.85"/><circle cx="593.4" cy="115" r="2.5" fill="#f0f0ee" fill-opacity="0.85"/><ellipse cx="578.4" cy="114.1" rx="7.9" ry="4.0" fill="#e9ebee" fill-opacity="1.0" transform="rotate(-40 578.4 114.1)" filter="url(#b1)"/></g>
</g>
<g clip-path="url(#c34)"><rect x="552" y="135" width="132.2" height="99" fill="#e4e1de"/>
<g filter="url(#b0_35)"><g filter="url(#s12)"><rect x="552" y="135" width="132.2" height="99" fill="#000"/></g><path d="M589.0,212.2 L604.9,194.4 L618.1,179.6" stroke="#eceff1" stroke-opacity="1.0" stroke-width="15.8" fill="none" stroke-linecap="round" stroke-linejoin="round" filter="url(#b2)"/><path transform="scale(.5)" d="M1354 274h0m-6 2h0m-24 3h0m-15 2h0m-36-3h0m0 4h0m-17 3h0m-11-3h0m-4-6h0m-10-2h0m-45 10h0m-2 3h0m-32-5h0m-33-12h0m-9 6h0m2 30h0m7 3h0m18-4h0m10-5h0m13-3h0m2 13h0m10 1h0m12-16h0m3-4h0m7 21h0m10-5h0m4-12h0m4 14h0m10 0h0m18-13h0m2 4h0m1 6h0m7-15h0m3 7h0m3 6h0m10 7h0m13-22h0m26 15h0m0-2h0m6-1h0m2-12h0m7 17h0m1-4h0m13-2h0m5 29h0m-37-2h0m-9 6h0m-16 0h0m-4-4h0m-26-7h0m-1 3h0m-9 10h0m-13-22h0m-13-1h0m-8 11h0m-4-5h0m-4 12h0m-12 0h0m-7-10h0m-7-4h0m-39 10h0m-22-3h0m-2 15h0m5 2h0m16-2h0m4 21h0m19-22h0m10 21h0m5-12h0m4-3h0m23-4h0m17 2h0m58 18h0m3-13h0m3 4h0m1-5h0m10-3h0m15 8h0m8-5h0m1-5h0m1 5h0m33 6h0m20-1h0m-7 21h0m-9 2h0m-18-4h0m-38-6h0m-4 11h0m-12-1h0m0 0h0m-39 1h0m-17 4h0m-11 3h0m-1-4h0m-1-3h0m-18-8h0m-7 9h0m-5 6h0m-3-5h0m-14-3h0m-11-9h0m-22 15h0m-5 4h0m-6 14h0m7-13h0m8 20h0m1-3h0m10 6h0m5-1h0m8-7h0m16-11h0m4 14h0m24-9h0m3 1h0m1 0h0m6 2h0m2-1h0m19-9h0m0 1h0m18 9h0m0 5h0m1 2h0m0-6h0m18 10h0m37-21h0m1 16h0m15-11h0m14 11h0m10-4h0m4-9h0m7 12h0m7 1h0m-13 30h0m-1-3h0m-1 3h0m-7-22h0m0 2h0m-22 3h0m-26 11h0m-5 0h0m-20-7h0m-23 8h0m-46-10h0m0 12h0m-16-16h0m-17 5h0m-5-6h0m-5 3h0m-2-7h0m-22 6h0m-19-4h0m6 23h0m3 13h0m7 5h0m3-17h0m9 17h0m10-14h0m6 18h0m16-14h0m8 11h0m6-19h0m2 12h0m9-7h0m1-1h0m2-3h0m21 2h0m0 11h0m1 1h0m5-8h0m14 3h0m17-4h0m13-2h0m2 4h0m1-8h0m4 21h0m9-16h0m2 10h0m3-11h0m13 0h0m3 1h0m4 3h0m0-4h0m18 6h0m7-6h0m4 15h0m9 2h0m15-12h0m0-6h0m4 28h0m-108-1h0m-12 5h0m-36-1h0m-18-9h0m-6-2h0m-4 8h0m-20-8h0m-8 5h0m-6 2h0m-4-4h0m-27 6h0" stroke="rgb(125,160,222)" stroke-width="5" stroke-linecap="round" fill="none" stroke-opacity="0.7"/><path transform="scale(.5)" d="M1271 287h0m-10-3h0m0 1h0m-6 2h0m-70 0h0m-75 7h0m109 17h0m8 0h0m5-5h0m0 5h0m8-11h0m1 12h0m1-5h0m2-14h0m1 15h0m2 0h0m2-8h0m2-4h0m1 11h0m1-2h0m0-16h0m1 18h0m1 4h0m3-17h0m1 16h0m0-7h0m7-4h0m1-9h0m1 0h0m0 15h0m2-7h0m4 9h0m1 3h0m6-12h0m0-2h0m2 8h0m2-8h0m2-4h0m1 14h0m5-1h0m0 1h0m1 2h0m1-7h0m6 21h0m0 9h0m0 3h0m0-18h0m-2 3h0m-2 7h0m0 7h0m-2 2h0m-1-18h0m0 4h0m-3 2h0m0-7h0m0 2h0m-2 15h0m-2 0h0m-4 0h0m-3 3h0m-2-17h0m-10 11h0m-2-15h0m0 8h0m-6 11h0m0-6h0m-2-13h0m0 1h0m-1 7h0m0 2h0m-4-3h0m-2-8h0m0 2h0m-1 16h0m-1-4h0m-1-9h0m-2 5h0m0-8h0m0 2h0m-1 12h0m-1-2h0m-1-7h0m-1 5h0m-1 8h0m-2-4h0m-2-6h0m-1 3h0m-3-5h0m-1 12h0m-1-6h0m-3-8h0m-1 6h0m-113 20h0m15-6h0m1 12h0m4 8h0m2-2h0m1-14h0m1 2h0m46 13h0m1-7h0m45-12h0m2 8h0m1 8h0m4-13h0m0 12h0m0-5h0m0-13h0m2 10h0m0 5h0m2-13h0m3 10h0m0 8h0m4-4h0m1-16h0m1 10h0m4-1h0m1-7h0m2 17h0m1-5h0m4 3h0m1-8h0m0 2h0m2 4h0m4-7h0m1 5h0m1-4h0m0 11h0m5-10h0m0-2h0m1 4h0m1 0h0m4 5h0m1 3h0m1-9h0m0-12h0m1 10h0m4 10h0m6-1h0m2-7h0m1-4h0m2-6h0m-12 29h0m-10-6h0m-2 8h0m-6-1h0m-7-5h0m-2 8h0m0-4h0m-3 4h0m0 4h0m-1 0h0m-1 3h0m-1-4h0m-6-5h0m-3 3h0m-3-6h0m-1 0h0m-2-3h0m-20 18h0m-4-15h0m-11 3h0m-2-3h0m-1 8h0m-6-5h0m-2 8h0m-4-15h0m-3 19h0m0-3h0m-2 4h0m0-12h0m-6-2h0m-3 3h0m-40-10h0m-2 4h0m-3 3h0m-2-1h0m31 18h0m16 0h0m6-1h0m5 4h0m1 7h0m2-8h0m1 14h0m1-11h0m6 17h0m1-10h0m4 4h0m11-11h0m129 32h0m-25-4h0m-139 4h0m-2 6h0m-1 1h0m-1-6h0m-9-3h0m-1 1h0m-5 3h0m-6 6h0m-2-7h0m0-2h0m-3-4h0m-2 12h0m-4-7h0m-2 1h0m-5 2h0m-3 1h0m-2 5h0m-3 1h0m3 19h0m2 0h0m1-17h0m3 0h0m1 16h0m3-3h0m2-9h0m0 4h0m0 12h0m2-4h0m2-9h0m0 4h0m2-10h0m2 14h0m1-13h0m2-4h0m2 4h0m1-4h0m2 18h0m0-5h0m0-7h0m3 1h0m1-2h0m2 11h0m1 0h0m4-1h0m0-13h0m1 21h0m1-7h0m0 5h0m1-1h0m2-15h0m0 15h0m2-12h0m0 15h0m3-3h0m0 1h0m4-5h0m4-13h0m22 19h0m11-7h0m40-5h0m73 20h0m-130 3h0m-33-5h0m-11 0h0m-4-4h0m0 1h0m-4 1h0m-13 0h0m-2-2h0" stroke="rgb(50,90,210)" stroke-width="2.6" stroke-linecap="round" fill="none" stroke-opacity="0.8"/><path transform="scale(.5)" d="M1225 276l-3 3 0 3 -2 3m-44-13l-1-2 -3-3 -2-3m-45 15l2 2 2 1 4 0m75 16l2-2 0-4 1-4m10 18l1-2 4 0 3 1m5-5l3-2 3 1 2 4m116-7l1-2 2-4 2-2m-27 45l-2 3 -3 2 -3 0m4-4l-3 2 -1 3 -2 2m0-29l-4-2 -3 1 -2 2m-38 21l2 2 3 1 1 2m-39-10l-2-3 -2-1 -1-2m2 9l2 3 0 2 2 2m-38-26l-1 2 0 4 2 4m-11-7l-1-3 1-3 2-2m-40 19l0-4 -3-2 -1-4m18 22l-1 1 0 3 3 2m52 13l3-2 3-3 3-2m88-10l4 1 1 2 3 3m3-3l-2 1 -4 1 -3 2m32 29l-2 2 0 3 -2 2m-129-6l-3-1 -2-2 -1-2m-38-9l0-2 -2-3 0-3m-34 31l-2 2 -3 2 -1 2m18-5l3-1 2 0 2 2m23 2l-3-2 -4 0 -3 0m34 13l3-1 3-2 3 1m47-12l0 3 0 4 -1 3m79-12l-1 4 0 3 -1 3m-27 33l-2 3 -3 1 -1 2m-113-27l-1 3 1 3 -1 4m-81 2l-3 1 -2 1 -2 0m-1 14l-2 2 -2 3 -1 2m91 3l1 2 -1 4 -1 4m5-19l-2-4 -4-2 -2 1m30 22l-2 2 -2 3 -3 0m100-13l-3-3 -2-2 0-2m15 14l3 0 4 1 3-1m-162 13l0-2 2-3 -2-4m-48 0l3-2 1-2 3-2" stroke="rgb(160,110,70)" stroke-width="2" stroke-linecap="round" stroke-linejoin="round" fill="none" stroke-opacity="0.8"/><circle cx="565.2" cy="154.8" r="3.5" fill="#f6f6f4"/><circle cx="582.4" cy="149.8" r="3.5" fill="#f6f6f4"/><circle cx="603.6" cy="150.8" r="3.8" fill="#f6f6f4"/><circle cx="627.4" cy="152.8" r="3.5" fill="#f6f6f4"/><circle cx="578.4" cy="180.5" r="3.5" fill="#f6f6f4"/><circle cx="574.5" cy="197.4" r="3.5" fill="#f6f6f4"/><circle cx="556" cy="194.4" r="2.8" fill="#f6f6f4"/><circle cx="614.1" cy="177.6" r="5" fill="#f6f6f4"/><circle cx="653.8" cy="200.3" r="3.5" fill="#f6f6f4"/><circle cx="649.8" cy="212.2" r="4" fill="#f6f6f4"/><circle cx="640.6" cy="207.3" r="3" fill="#f6f6f4"/><circle cx="630" cy="216.2" r="3" fill="#f6f6f4"/><circle cx="668.3" cy="182.5" r="2.2" fill="#f6f6f4"/><circle cx="634" cy="227.1" r="3" fill="#f6f6f4"/><circle cx="674.9" cy="139.9" r="2.5" fill="#f6f6f4"/><circle cx="562.6" cy="222.1" r="2.5" fill="#f6f6f4"/><circle cx="595.6" cy="157.8" r="2.2" fill="#f6f6f4"/><circle cx="665.7" cy="159.8" r="2" fill="#f6f6f4"/><circle cx="680.2" cy="189.4" r="2.2" fill="#f6f6f4"/><circle cx="611.5" cy="139.9" r="2.5" fill="#f6f6f4"/></g>
</g>
<text transform="translate(683.70 120.90) scale(0.86 1.0)" font-size="8.2" text-anchor="end" font-weight="normal" fill="#111" stroke="#111" stroke-width="0.2">100µm</text>
<line x1="664.00" y1="123.40" x2="681.80" y2="123.40" stroke="#000" stroke-width="1.4"/>
<text transform="translate(682.90 224.90) scale(0.93 1.0)" font-size="7.7" text-anchor="end" font-weight="normal" fill="#111" stroke="#111" stroke-width="0.2">50µm</text>
<line x1="663.90" y1="227.50" x2="681.00" y2="227.50" stroke="#000" stroke-width="1.4"/>
<text x="22.00" y="304.50" font-size="17" text-anchor="start" font-weight="bold" fill="#000" stroke="#000" stroke-width="0.3">b</text>
<line x1="80.50" y1="336.75" x2="80.50" y2="474.00" stroke="#111" stroke-width="1.2"/>
<line x1="79.90" y1="473.40" x2="221.30" y2="473.40" stroke="#111" stroke-width="1.2"/>
<line x1="76.00" y1="473.40" x2="80.50" y2="473.40" stroke="#111" stroke-width="1.2"/>
<text transform="translate(74.00 476.20) scale(1.0 1.2)" font-size="7.8" text-anchor="end" font-weight="bold" fill="#000">0</text>
<line x1="76.00" y1="428.05" x2="80.50" y2="428.05" stroke="#111" stroke-width="1.2"/>
<text transform="translate(74.00 430.85) scale(1.0 1.2)" font-size="7.8" text-anchor="end" font-weight="bold" fill="#000">100</text>
<line x1="76.00" y1="382.70" x2="80.50" y2="382.70" stroke="#111" stroke-width="1.2"/>
<text transform="translate(74.00 385.50) scale(1.0 1.2)" font-size="7.8" text-anchor="end" font-weight="bold" fill="#000">200</text>
<line x1="76.00" y1="337.35" x2="80.50" y2="337.35" stroke="#111" stroke-width="1.2"/>
<text transform="translate(74.00 340.15) scale(1.0 1.2)" font-size="7.8" text-anchor="end" font-weight="bold" fill="#000">300</text>
<line x1="98.00" y1="473.40" x2="98.00" y2="477.60" stroke="#111" stroke-width="1.2"/>
<line x1="124.70" y1="473.40" x2="124.70" y2="477.60" stroke="#111" stroke-width="1.2"/>
<line x1="151.00" y1="473.40" x2="151.00" y2="477.60" stroke="#111" stroke-width="1.2"/>
<line x1="177.30" y1="473.40" x2="177.30" y2="477.60" stroke="#111" stroke-width="1.2"/>
<line x1="203.70" y1="473.40" x2="203.70" y2="477.60" stroke="#111" stroke-width="1.2"/>
<text transform="translate(55.20 405.00) rotate(-90)" font-size="10.85" text-anchor="middle" font-weight="bold" fill="#000">Numbers of CD169+ cells/HPF</text>
<text transform="translate(101.30 486.80) rotate(-45)" font-size="9.3" text-anchor="end" font-weight="bold" fill="#000">HC (n=6)</text>
<text transform="translate(128.00 486.80) rotate(-45)" font-size="9.3" text-anchor="end" font-weight="bold" fill="#000">AIH (n=40)</text>
<text transform="translate(154.30 486.80) rotate(-45)" font-size="9.3" text-anchor="end" font-weight="bold" fill="#000">CHB (n=7)</text>
<text transform="translate(180.60 486.80) rotate(-45)" font-size="9.3" text-anchor="end" font-weight="bold" fill="#000">PBC (n=21)</text>
<text transform="translate(207.00 486.80) rotate(-45)" font-size="9.3" text-anchor="end" font-weight="bold" fill="#000">MASLD (n=12)</text>
<line x1="130.00" y1="339.30" x2="203.70" y2="339.30" stroke="#111" stroke-width="1.7"/>
<text x="163.68" y="339.40" font-size="15" text-anchor="middle" font-weight="bold" fill="#000">*</text>
<text x="170.33" y="339.40" font-size="15" text-anchor="middle" font-weight="bold" fill="#000">*</text>
<line x1="94.20" y1="357.90" x2="124.90" y2="357.90" stroke="#111" stroke-width="1.7"/>
<text x="100.22" y="357.40" font-size="15" text-anchor="middle" font-weight="bold" fill="#000">*</text>
<text x="106.88" y="357.40" font-size="15" text-anchor="middle" font-weight="bold" fill="#000">*</text>
<text x="113.52" y="357.40" font-size="15" text-anchor="middle" font-weight="bold" fill="#000">*</text>
<text x="120.17" y="357.40" font-size="15" text-anchor="middle" font-weight="bold" fill="#000">*</text>
<line x1="129.30" y1="357.90" x2="175.70" y2="357.90" stroke="#111" stroke-width="1.7"/>
<text x="149.38" y="357.40" font-size="15" text-anchor="middle" font-weight="bold" fill="#000">*</text>
<text x="156.03" y="357.40" font-size="15" text-anchor="middle" font-weight="bold" fill="#000">*</text>
<line x1="130.00" y1="374.30" x2="151.60" y2="374.30" stroke="#111" stroke-width="1.7"/>
<text x="140.60" y="374.40" font-size="15" text-anchor="middle" font-weight="bold" fill="#000">*</text>
<circle cx="94.30" cy="453.80" r="1.6" fill="#000"/>
<circle cx="101.30" cy="453.40" r="1.6" fill="#000"/>
<circle cx="90.80" cy="461.90" r="1.6" fill="#000"/>
<circle cx="98.00" cy="460.60" r="1.6" fill="#000"/>
<circle cx="105.20" cy="461.70" r="1.6" fill="#000"/>
<circle cx="94.50" cy="457.50" r="1.6" fill="#000"/>
<circle cx="124.40" cy="381.40" r="1.6" fill="#000"/>
<circle cx="122.40" cy="389.30" r="1.6" fill="#000"/>
<circle cx="126.30" cy="389.60" r="1.6" fill="#000"/>
<circle cx="124.30" cy="391.20" r="1.6" fill="#000"/>
<circle cx="124.40" cy="395.70" r="1.6" fill="#000"/>
<circle cx="125.60" cy="404.50" r="1.6" fill="#000"/>
<circle cx="123.40" cy="406.00" r="1.6" fill="#000"/>
<circle cx="125.40" cy="409.30" r="1.6" fill="#000"/>
<circle cx="125.40" cy="410.50" r="1.6" fill="#000"/>
<circle cx="122.20" cy="416.90" r="1.6" fill="#000"/>
<circle cx="124.60" cy="417.50" r="1.6" fill="#000"/>
<circle cx="126.90" cy="418.10" r="1.6" fill="#000"/>
<circle cx="125.40" cy="421.70" r="1.6" fill="#000"/>
<circle cx="123.40" cy="424.30" r="1.6" fill="#000"/>
<circle cx="125.40" cy="426.10" r="1.6" fill="#000"/>
<circle cx="119.00" cy="438.80" r="1.6" fill="#000"/>
<circle cx="121.40" cy="437.00" r="1.6" fill="#000"/>
<circle cx="128.10" cy="435.90" r="1.6" fill="#000"/>
<circle cx="129.80" cy="437.00" r="1.6" fill="#000"/>
<circle cx="123.70" cy="440.30" r="1.6" fill="#000"/>
<circle cx="125.70" cy="440.50" r="1.6" fill="#000"/>
<circle cx="127.50" cy="441.40" r="1.6" fill="#000"/>
<circle cx="119.00" cy="444.90" r="1.6" fill="#000"/>
<circle cx="121.40" cy="445.20" r="1.6" fill="#000"/>
<circle cx="129.50" cy="445.50" r="1.6" fill="#000"/>
<circle cx="125.70" cy="447.30" r="1.6" fill="#000"/>
<circle cx="127.80" cy="447.30" r="1.6" fill="#000"/>
<circle cx="117.30" cy="448.10" r="1.6" fill="#000"/>
<circle cx="131.90" cy="449.60" r="1.6" fill="#000"/>
<circle cx="119.30" cy="450.20" r="1.6" fill="#000"/>
<circle cx="121.90" cy="450.80" r="1.6" fill="#000"/>
<circle cx="124.30" cy="450.50" r="1.6" fill="#000"/>
<circle cx="128.90" cy="450.50" r="1.6" fill="#000"/>
<circle cx="117.30" cy="452.50" r="1.6" fill="#000"/>
<circle cx="119.30" cy="452.80" r="1.6" fill="#000"/>
<circle cx="123.70" cy="453.10" r="1.6" fill="#000"/>
<circle cx="125.70" cy="452.50" r="1.6" fill="#000"/>
<circle cx="129.80" cy="453.70" r="1.6" fill="#000"/>
<circle cx="119.30" cy="455.40" r="1.6" fill="#000"/>
<circle cx="127.50" cy="456.60" r="1.6" fill="#000"/>
<circle cx="123.10" cy="454.30" r="1.6" fill="#000"/>
<circle cx="147.30" cy="438.90" r="1.6" fill="#000"/>
<circle cx="154.60" cy="439.00" r="1.6" fill="#000"/>
<circle cx="143.60" cy="443.10" r="1.6" fill="#000"/>
<circle cx="151.00" cy="444.10" r="1.6" fill="#000"/>
<circle cx="151.00" cy="448.50" r="1.6" fill="#000"/>
<circle cx="158.10" cy="449.10" r="1.6" fill="#000"/>
<circle cx="143.60" cy="450.90" r="1.6" fill="#000"/>
<circle cx="173.20" cy="440.30" r="1.6" fill="#000"/>
<circle cx="175.80" cy="440.20" r="1.6" fill="#000"/>
<circle cx="178.70" cy="441.10" r="1.6" fill="#000"/>
<circle cx="181.60" cy="440.50" r="1.6" fill="#000"/>
<circle cx="184.50" cy="439.20" r="1.6" fill="#000"/>
<circle cx="170.30" cy="442.90" r="1.6" fill="#000"/>
<circle cx="175.80" cy="444.10" r="1.6" fill="#000"/>
<circle cx="181.60" cy="444.60" r="1.6" fill="#000"/>
<circle cx="184.50" cy="444.10" r="1.6" fill="#000"/>
<circle cx="169.90" cy="450.90" r="1.6" fill="#000"/>
<circle cx="172.80" cy="452.40" r="1.6" fill="#000"/>
<circle cx="175.80" cy="453.50" r="1.6" fill="#000"/>
<circle cx="178.70" cy="453.10" r="1.6" fill="#000"/>
<circle cx="181.60" cy="453.80" r="1.6" fill="#000"/>
<circle cx="184.50" cy="451.30" r="1.6" fill="#000"/>
<circle cx="177.20" cy="458.20" r="1.6" fill="#000"/>
<circle cx="170.50" cy="447.00" r="1.6" fill="#000"/>
<circle cx="173.50" cy="447.50" r="1.6" fill="#000"/>
<circle cx="177.00" cy="448.00" r="1.6" fill="#000"/>
<circle cx="180.50" cy="447.80" r="1.6" fill="#000"/>
<circle cx="184.00" cy="447.00" r="1.6" fill="#000"/>
<circle cx="203.90" cy="436.40" r="1.6" fill="#000"/>
<circle cx="203.90" cy="440.80" r="1.6" fill="#000"/>
<circle cx="200.30" cy="443.20" r="1.6" fill="#000"/>
<circle cx="203.90" cy="446.10" r="1.6" fill="#000"/>
<circle cx="200.40" cy="448.10" r="1.6" fill="#000"/>
<circle cx="207.40" cy="448.30" r="1.6" fill="#000"/>
<circle cx="203.90" cy="450.30" r="1.6" fill="#000"/>
<circle cx="200.30" cy="452.70" r="1.6" fill="#000"/>
<circle cx="207.40" cy="453.20" r="1.6" fill="#000"/>
<circle cx="196.60" cy="456.00" r="1.6" fill="#000"/>
<circle cx="203.90" cy="455.30" r="1.6" fill="#000"/>
<circle cx="211.00" cy="456.00" r="1.6" fill="#000"/>
<line x1="89.20" y1="457.70" x2="107.20" y2="457.70" stroke="#ee2a24" stroke-width="2.0"/>
<line x1="116.00" y1="432.90" x2="133.50" y2="432.90" stroke="#ee2a24" stroke-width="2.0"/>
<line x1="142.20" y1="444.90" x2="160.00" y2="444.90" stroke="#ee2a24" stroke-width="2.0"/>
<line x1="168.80" y1="447.30" x2="186.10" y2="447.30" stroke="#ee2a24" stroke-width="2.0"/>
<line x1="195.00" y1="449.10" x2="213.00" y2="449.10" stroke="#ee2a24" stroke-width="2.0"/>
<text x="273.20" y="268.30" font-size="16.5" text-anchor="start" font-weight="bold" fill="#000" stroke="#000" stroke-width="0.3">c</text>
<line x1="331.60" y1="269.25" x2="331.60" y2="381.30" stroke="#111" stroke-width="1.2"/>
<line x1="331.00" y1="380.70" x2="431.20" y2="380.70" stroke="#111" stroke-width="1.2"/>
<line x1="326.60" y1="380.70" x2="331.60" y2="380.70" stroke="#111" stroke-width="1.2"/>
<text transform="translate(325.30 383.50) scale(1.0 1.2)" font-size="7.8" text-anchor="end" font-weight="bold" fill="#000">0</text>
<line x1="326.60" y1="343.75" x2="331.60" y2="343.75" stroke="#111" stroke-width="1.2"/>
<text transform="translate(325.30 346.55) scale(1.0 1.2)" font-size="7.8" text-anchor="end" font-weight="bold" fill="#000">100</text>
<line x1="326.60" y1="306.80" x2="331.60" y2="306.80" stroke="#111" stroke-width="1.2"/>
<text transform="translate(325.30 309.60) scale(1.0 1.2)" font-size="7.8" text-anchor="end" font-weight="bold" fill="#000">200</text>
<line x1="326.60" y1="269.85" x2="331.60" y2="269.85" stroke="#111" stroke-width="1.2"/>
<text transform="translate(325.30 272.65) scale(1.0 1.2)" font-size="7.8" text-anchor="end" font-weight="bold" fill="#000">300</text>
<line x1="351.90" y1="380.70" x2="351.90" y2="384.80" stroke="#111" stroke-width="1.2"/>
<text x="351.90" y="394.60" font-size="9.0" text-anchor="middle" font-weight="bold" fill="#000">G1</text>
<line x1="381.40" y1="380.70" x2="381.40" y2="384.80" stroke="#111" stroke-width="1.2"/>
<text x="381.40" y="394.60" font-size="9.0" text-anchor="middle" font-weight="bold" fill="#000">G2</text>
<line x1="411.30" y1="380.70" x2="411.30" y2="384.80" stroke="#111" stroke-width="1.2"/>
<text x="411.30" y="394.60" font-size="9.0" text-anchor="middle" font-weight="bold" fill="#000">G3</text>
<text x="381.40" y="410.00" font-size="10.6" text-anchor="middle" font-weight="bold" fill="#000">Inflammation Grade</text>
<text transform="translate(306.60 325.20) rotate(-90)" font-size="9.25" text-anchor="middle" font-weight="bold" fill="#000">Numbers of CD169+ cells/HPF</text>
<line x1="344.00" y1="266.30" x2="415.50" y2="266.30" stroke="#111" stroke-width="1.7"/>
<text x="370.22" y="266.80" font-size="15" text-anchor="middle" font-weight="bold" fill="#000">*</text>
<text x="376.87" y="266.80" font-size="15" text-anchor="middle" font-weight="bold" fill="#000">*</text>
<text x="383.52" y="266.80" font-size="15" text-anchor="middle" font-weight="bold" fill="#000">*</text>
<text x="390.17" y="266.80" font-size="15" text-anchor="middle" font-weight="bold" fill="#000">*</text>
<line x1="381.70" y1="282.40" x2="412.00" y2="282.40" stroke="#111" stroke-width="1.7"/>
<text x="390.75" y="282.60" font-size="15" text-anchor="middle" font-weight="bold" fill="#000">*</text>
<text x="397.40" y="282.60" font-size="15" text-anchor="middle" font-weight="bold" fill="#000">*</text>
<text x="404.05" y="282.60" font-size="15" text-anchor="middle" font-weight="bold" fill="#000">*</text>
<line x1="349.00" y1="319.90" x2="381.70" y2="319.90" stroke="#111" stroke-width="1.7"/>
<text x="362.07" y="319.70" font-size="15" text-anchor="middle" font-weight="bold" fill="#000">*</text>
<text x="368.72" y="319.70" font-size="15" text-anchor="middle" font-weight="bold" fill="#000">*</text>
<circle cx="343.50" cy="362.50" r="1.9" fill="rgb(147,203,224)"/>
<circle cx="345.50" cy="360.00" r="1.9" fill="rgb(147,203,224)"/>
<circle cx="346.00" cy="364.50" r="1.9" fill="rgb(147,203,224)"/>
<circle cx="348.50" cy="358.50" r="1.9" fill="rgb(147,203,224)"/>
<circle cx="348.00" cy="362.00" r="1.9" fill="rgb(147,203,224)"/>
<circle cx="349.00" cy="366.50" r="1.9" fill="rgb(147,203,224)"/>
<circle cx="351.50" cy="359.00" r="1.9" fill="rgb(147,203,224)"/>
<circle cx="351.50" cy="362.50" r="1.9" fill="rgb(147,203,224)"/>
<circle cx="352.00" cy="367.50" r="1.9" fill="rgb(147,203,224)"/>
<circle cx="354.50" cy="358.00" r="1.9" fill="rgb(147,203,224)"/>
<circle cx="354.50" cy="361.50" r="1.9" fill="rgb(147,203,224)"/>
<circle cx="355.00" cy="365.00" r="1.9" fill="rgb(147,203,224)"/>
<circle cx="357.50" cy="359.50" r="1.9" fill="rgb(147,203,224)"/>
<circle cx="357.50" cy="363.00" r="1.9" fill="rgb(147,203,224)"/>
<circle cx="358.00" cy="366.00" r="1.9" fill="rgb(147,203,224)"/>
<circle cx="360.00" cy="361.50" r="1.9" fill="rgb(147,203,224)"/>
<circle cx="360.30" cy="364.50" r="1.9" fill="rgb(147,203,224)"/>
<circle cx="352.00" cy="368.50" r="1.9" fill="rgb(147,203,224)"/>
<circle cx="347.00" cy="367.50" r="1.9" fill="rgb(147,203,224)"/>
<circle cx="344.00" cy="365.50" r="1.9" fill="rgb(147,203,224)"/>
<path d="M381.60,328.00 L381.68,328.38 L381.77,328.75 L381.88,329.12 L382.01,329.50 L382.16,329.88 L382.32,330.25 L382.50,330.62 L382.70,331.00 L382.93,331.38 L383.21,331.75 L383.51,332.12 L383.82,332.50 L384.13,332.88 L384.42,333.25 L384.68,333.62 L384.90,334.00 L385.08,334.35 L385.24,334.70 L385.37,335.05 L385.49,335.40 L385.58,335.75 L385.65,336.10 L385.69,336.45 L385.70,336.80 L385.69,337.14 L385.65,337.48 L385.58,337.81 L385.49,338.15 L385.37,338.49 L385.24,338.82 L385.08,339.16 L384.90,339.50 L384.68,339.88 L384.40,340.25 L384.09,340.62 L383.77,341.00 L383.45,341.38 L383.15,341.75 L382.89,342.12 L382.70,342.50 L382.55,342.75 L382.40,343.00 L382.28,343.25 L382.19,343.50 L382.15,343.75 L382.16,344.00 L382.24,344.25 L382.40,344.50 L382.65,344.81 L382.99,345.12 L383.40,345.44 L383.86,345.75 L384.36,346.06 L384.88,346.38 L385.40,346.69 L385.90,347.00 L386.42,347.44 L387.00,347.88 L387.61,348.31 L388.22,348.75 L388.81,349.19 L389.35,349.62 L389.82,350.06 L390.20,350.50 L390.48,350.81 L390.68,351.12 L390.82,351.44 L390.91,351.75 L390.96,352.06 L390.98,352.38 L390.99,352.69 L391.00,353.00 L390.98,353.50 L390.92,354.00 L390.83,354.50 L390.72,355.00 L390.61,355.50 L390.51,356.00 L390.43,356.50 L390.40,357.00 L390.42,357.44 L390.49,357.88 L390.59,358.31 L390.71,358.75 L390.81,359.19 L390.89,359.62 L390.93,360.06 L390.90,360.50 L390.83,360.88 L390.72,361.25 L390.59,361.62 L390.43,362.00 L390.23,362.38 L390.00,362.75 L389.72,363.12 L389.40,363.50 L389.01,363.88 L388.55,364.25 L388.03,364.62 L387.48,365.00 L386.92,365.38 L386.37,365.75 L385.86,366.12 L385.40,366.50 L384.98,366.75 L384.57,367.00 L384.18,367.25 L383.81,367.50 L383.46,367.75 L383.14,368.00 L382.85,368.25 L382.60,368.50 L382.39,368.75 L382.22,369.00 L382.08,369.25 L381.97,369.50 L381.89,369.75 L381.82,370.00 L381.76,370.25 L381.70,370.50 L381.10,370.50 L381.04,370.25 L380.98,370.00 L380.91,369.75 L380.82,369.50 L380.72,369.25 L380.58,369.00 L380.41,368.75 L380.20,368.50 L379.95,368.25 L379.66,368.00 L379.34,367.75 L378.99,367.50 L378.62,367.25 L378.23,367.00 L377.82,366.75 L377.40,366.50 L376.94,366.12 L376.43,365.75 L375.88,365.38 L375.32,365.00 L374.77,364.62 L374.25,364.25 L373.79,363.88 L373.40,363.50 L373.08,363.12 L372.80,362.75 L372.57,362.38 L372.37,362.00 L372.21,361.62 L372.08,361.25 L371.97,360.88 L371.90,360.50 L371.87,360.06 L371.91,359.62 L371.99,359.19 L372.09,358.75 L372.21,358.31 L372.31,357.88 L372.38,357.44 L372.40,357.00 L372.37,356.50 L372.29,356.00 L372.19,355.50 L372.08,355.00 L371.97,354.50 L371.88,354.00 L371.82,353.50 L371.80,353.00 L371.81,352.69 L371.82,352.38 L371.84,352.06 L371.89,351.75 L371.98,351.44 L372.12,351.12 L372.32,350.81 L372.60,350.50 L372.98,350.06 L373.45,349.62 L373.99,349.19 L374.58,348.75 L375.19,348.31 L375.80,347.88 L376.38,347.44 L376.90,347.00 L377.40,346.69 L377.92,346.38 L378.44,346.06 L378.94,345.75 L379.40,345.44 L379.81,345.12 L380.15,344.81 L380.40,344.50 L380.56,344.25 L380.64,344.00 L380.65,343.75 L380.61,343.50 L380.52,343.25 L380.40,343.00 L380.25,342.75 L380.10,342.50 L379.91,342.12 L379.65,341.75 L379.35,341.38 L379.03,341.00 L378.71,340.62 L378.40,340.25 L378.12,339.88 L377.90,339.50 L377.72,339.16 L377.56,338.82 L377.43,338.49 L377.31,338.15 L377.22,337.81 L377.15,337.48 L377.11,337.14 L377.10,336.80 L377.11,336.45 L377.15,336.10 L377.22,335.75 L377.31,335.40 L377.43,335.05 L377.56,334.70 L377.72,334.35 L377.90,334.00 L378.12,333.62 L378.38,333.25 L378.67,332.88 L378.98,332.50 L379.29,332.12 L379.59,331.75 L379.87,331.38 L380.10,331.00 L380.30,330.62 L380.48,330.25 L380.64,329.88 L380.79,329.50 L380.92,329.12 L381.03,328.75 L381.12,328.38 L381.20,328.00 Z" fill="none" stroke="rgb(93,145,205)" stroke-width="1.6" stroke-linejoin="round"/>
<circle cx="377.50" cy="337.00" r="1.6" fill="rgb(93,145,205)"/>
<circle cx="385.30" cy="337.00" r="1.6" fill="rgb(93,145,205)"/>
<circle cx="381.40" cy="339.00" r="1.6" fill="rgb(93,145,205)"/>
<circle cx="372.20" cy="351.00" r="1.6" fill="rgb(93,145,205)"/>
<circle cx="390.60" cy="351.00" r="1.6" fill="rgb(93,145,205)"/>
<circle cx="377.50" cy="349.50" r="1.6" fill="rgb(93,145,205)"/>
<circle cx="381.40" cy="352.00" r="1.6" fill="rgb(93,145,205)"/>
<circle cx="385.50" cy="354.00" r="1.6" fill="rgb(93,145,205)"/>
<circle cx="377.50" cy="355.00" r="1.6" fill="rgb(93,145,205)"/>
<circle cx="381.40" cy="358.00" r="1.6" fill="rgb(93,145,205)"/>
<circle cx="385.50" cy="357.50" r="1.6" fill="rgb(93,145,205)"/>
<circle cx="372.20" cy="359.50" r="1.6" fill="rgb(93,145,205)"/>
<circle cx="390.60" cy="360.00" r="1.6" fill="rgb(93,145,205)"/>
<circle cx="377.50" cy="361.50" r="1.6" fill="rgb(93,145,205)"/>
<circle cx="385.50" cy="362.00" r="1.6" fill="rgb(93,145,205)"/>
<circle cx="381.40" cy="365.00" r="1.6" fill="rgb(93,145,205)"/>
<line x1="372.50" y1="355.50" x2="390.50" y2="355.50" stroke="rgb(93,145,205)" stroke-width="0.9" stroke-dasharray="2,1.5"/>
<path d="M411.60,288.10 L411.63,288.71 L411.67,289.33 L411.72,289.94 L411.78,290.55 L411.84,291.16 L411.91,291.77 L412.00,292.39 L412.10,293.00 L412.20,293.62 L412.30,294.25 L412.40,294.88 L412.51,295.50 L412.65,296.12 L412.82,296.75 L413.04,297.38 L413.30,298.00 L413.63,298.75 L414.03,299.50 L414.48,300.25 L414.96,301.00 L415.45,301.75 L415.93,302.50 L416.39,303.25 L416.80,304.00 L417.19,304.62 L417.57,305.25 L417.95,305.88 L418.31,306.50 L418.65,307.12 L418.96,307.75 L419.25,308.38 L419.50,309.00 L419.72,309.41 L419.91,309.82 L420.07,310.24 L420.21,310.65 L420.32,311.06 L420.40,311.48 L420.46,311.89 L420.50,312.30 L420.50,312.76 L420.46,313.23 L420.38,313.69 L420.28,314.15 L420.17,314.61 L420.07,315.07 L419.97,315.54 L419.90,316.00 L419.85,316.50 L419.80,317.00 L419.75,317.50 L419.71,318.00 L419.68,318.50 L419.65,319.00 L419.62,319.50 L419.60,320.00 L419.59,320.88 L419.59,321.75 L419.59,322.62 L419.60,323.50 L419.61,324.38 L419.61,325.25 L419.61,326.12 L419.60,327.00 L419.58,327.88 L419.55,328.75 L419.52,329.62 L419.48,330.50 L419.44,331.38 L419.40,332.25 L419.35,333.12 L419.30,334.00 L419.25,334.75 L419.21,335.50 L419.17,336.25 L419.12,337.00 L419.07,337.75 L419.00,338.50 L418.91,339.25 L418.80,340.00 L418.65,340.50 L418.48,341.00 L418.28,341.50 L418.06,342.00 L417.85,342.50 L417.64,343.00 L417.46,343.50 L417.30,344.00 L417.16,344.38 L417.02,344.75 L416.88,345.12 L416.76,345.50 L416.67,345.88 L416.60,346.25 L416.58,346.62 L416.60,347.00 L416.68,347.50 L416.82,348.00 L417.00,348.50 L417.21,349.00 L417.44,349.50 L417.67,350.00 L417.90,350.50 L418.10,351.00 L418.31,351.51 L418.55,352.02 L418.81,352.54 L419.06,353.05 L419.28,353.56 L419.46,354.08 L419.57,354.59 L419.60,355.10 L419.55,355.59 L419.43,356.08 L419.26,356.56 L419.04,357.05 L418.78,357.54 L418.48,358.02 L418.15,358.51 L417.80,359.00 L417.39,359.50 L416.90,360.00 L416.36,360.50 L415.79,361.00 L415.23,361.50 L414.69,362.00 L414.20,362.50 L413.80,363.00 L413.47,363.41 L413.18,363.82 L412.93,364.24 L412.71,364.65 L412.53,365.06 L412.37,365.48 L412.23,365.89 L412.10,366.30 L412.00,366.89 L411.95,367.48 L411.92,368.06 L411.91,368.65 L411.92,369.24 L411.92,369.82 L411.92,370.41 L411.90,371.00 L411.87,371.59 L411.82,372.18 L411.78,372.76 L411.74,373.35 L411.69,373.94 L411.66,374.52 L411.62,375.11 L411.60,375.70 L411.00,375.70 L410.98,375.11 L410.94,374.52 L410.91,373.94 L410.86,373.35 L410.82,372.76 L410.78,372.18 L410.73,371.59 L410.70,371.00 L410.68,370.41 L410.68,369.82 L410.68,369.24 L410.69,368.65 L410.68,368.06 L410.65,367.48 L410.60,366.89 L410.50,366.30 L410.38,365.89 L410.23,365.48 L410.07,365.06 L409.89,364.65 L409.67,364.24 L409.42,363.82 L409.13,363.41 L408.80,363.00 L408.40,362.50 L407.91,362.00 L407.37,361.50 L406.81,361.00 L406.24,360.50 L405.70,360.00 L405.21,359.50 L404.80,359.00 L404.45,358.51 L404.12,358.02 L403.82,357.54 L403.56,357.05 L403.34,356.56 L403.17,356.08 L403.05,355.59 L403.00,355.10 L403.03,354.59 L403.14,354.08 L403.32,353.56 L403.54,353.05 L403.79,352.54 L404.05,352.02 L404.29,351.51 L404.50,351.00 L404.70,350.50 L404.93,350.00 L405.16,349.50 L405.39,349.00 L405.60,348.50 L405.78,348.00 L405.92,347.50 L406.00,347.00 L406.02,346.62 L406.00,346.25 L405.93,345.88 L405.84,345.50 L405.72,345.12 L405.58,344.75 L405.44,344.38 L405.30,344.00 L405.14,343.50 L404.96,343.00 L404.75,342.50 L404.54,342.00 L404.32,341.50 L404.12,341.00 L403.95,340.50 L403.80,340.00 L403.69,339.25 L403.60,338.50 L403.53,337.75 L403.48,337.00 L403.43,336.25 L403.39,335.50 L403.35,334.75 L403.30,334.00 L403.25,333.12 L403.20,332.25 L403.16,331.38 L403.12,330.50 L403.08,329.62 L403.05,328.75 L403.02,327.88 L403.00,327.00 L402.99,326.12 L402.99,325.25 L402.99,324.38 L403.00,323.50 L403.01,322.62 L403.01,321.75 L403.01,320.88 L403.00,320.00 L402.98,319.50 L402.95,319.00 L402.92,318.50 L402.89,318.00 L402.85,317.50 L402.80,317.00 L402.75,316.50 L402.70,316.00 L402.63,315.54 L402.53,315.07 L402.43,314.61 L402.32,314.15 L402.22,313.69 L402.14,313.23 L402.10,312.76 L402.10,312.30 L402.14,311.89 L402.20,311.48 L402.28,311.06 L402.39,310.65 L402.53,310.24 L402.69,309.82 L402.88,309.41 L403.10,309.00 L403.35,308.38 L403.64,307.75 L403.95,307.12 L404.29,306.50 L404.65,305.88 L405.03,305.25 L405.41,304.62 L405.80,304.00 L406.21,303.25 L406.67,302.50 L407.15,301.75 L407.64,301.00 L408.12,300.25 L408.57,299.50 L408.97,298.75 L409.30,298.00 L409.56,297.38 L409.78,296.75 L409.95,296.12 L410.09,295.50 L410.20,294.88 L410.30,294.25 L410.40,293.62 L410.50,293.00 L410.60,292.39 L410.69,291.77 L410.76,291.16 L410.82,290.55 L410.88,289.94 L410.93,289.33 L410.97,288.71 L411.00,288.10 Z" fill="none" stroke="rgb(52,84,172)" stroke-width="1.75" stroke-linejoin="round"/>
<circle cx="411.30" cy="306.10" r="1.7" fill="rgb(52,84,172)"/>
<circle cx="411.30" cy="312.30" r="1.7" fill="rgb(52,84,172)"/>
<circle cx="402.90" cy="312.70" r="1.7" fill="rgb(52,84,172)"/>
<circle cx="419.60" cy="313.80" r="1.7" fill="rgb(52,84,172)"/>
<circle cx="411.30" cy="317.70" r="1.7" fill="rgb(52,84,172)"/>
<circle cx="411.30" cy="324.50" r="1.7" fill="rgb(52,84,172)"/>
<circle cx="411.30" cy="328.60" r="1.7" fill="rgb(52,84,172)"/>
<circle cx="402.90" cy="326.00" r="1.7" fill="rgb(52,84,172)"/>
<circle cx="407.10" cy="335.20" r="1.7" fill="rgb(52,84,172)"/>
<circle cx="415.30" cy="335.40" r="1.7" fill="rgb(52,84,172)"/>
<circle cx="402.90" cy="341.00" r="1.7" fill="rgb(52,84,172)"/>
<circle cx="411.30" cy="342.50" r="1.7" fill="rgb(52,84,172)"/>
<circle cx="411.30" cy="352.80" r="1.7" fill="rgb(52,84,172)"/>
<circle cx="419.60" cy="354.70" r="1.7" fill="rgb(52,84,172)"/>
<circle cx="402.90" cy="357.90" r="1.7" fill="rgb(52,84,172)"/>
<line x1="403.50" y1="328.40" x2="419.00" y2="328.40" stroke="rgb(52,84,172)" stroke-width="1.0" stroke-dasharray="2.2,1.6"/>
<line x1="403.50" y1="313.60" x2="419.00" y2="313.60" stroke="rgb(140,160,215)" stroke-width="0.7" stroke-dasharray="1,1.2"/>
<line x1="403.50" y1="342.50" x2="418.00" y2="342.50" stroke="rgb(140,160,215)" stroke-width="0.7" stroke-dasharray="1,1.2"/>
<text x="465.20" y="269.10" font-size="16.5" text-anchor="start" font-weight="bold" fill="#000" stroke="#000" stroke-width="0.3">d</text>
<text x="585.00" y="262.60" font-size="9.8" text-anchor="middle" font-weight="bold" fill="#000" style="white-space:pre">r=0.8501  p&lt;0.0001</text>
<line x1="515.80" y1="276.80" x2="515.80" y2="382.00" stroke="#111" stroke-width="1.1"/>
<line x1="515.20" y1="381.40" x2="654.60" y2="381.40" stroke="#111" stroke-width="1.1"/>
<line x1="512.00" y1="381.40" x2="515.80" y2="381.40" stroke="#111" stroke-width="1.1"/>
<text transform="translate(510.30 384.10) scale(1.0 1.1)" font-size="7.3" text-anchor="end" font-weight="bold" fill="#000">0</text>
<line x1="512.00" y1="360.60" x2="515.80" y2="360.60" stroke="#111" stroke-width="1.1"/>
<text transform="translate(510.30 363.30) scale(1.0 1.1)" font-size="7.3" text-anchor="end" font-weight="bold" fill="#000">50</text>
<line x1="512.00" y1="339.80" x2="515.80" y2="339.80" stroke="#111" stroke-width="1.1"/>
<text transform="translate(510.30 342.50) scale(1.0 1.1)" font-size="7.3" text-anchor="end" font-weight="bold" fill="#000">100</text>
<line x1="512.00" y1="319.00" x2="515.80" y2="319.00" stroke="#111" stroke-width="1.1"/>
<text transform="translate(510.30 321.70) scale(1.0 1.1)" font-size="7.3" text-anchor="end" font-weight="bold" fill="#000">150</text>
<line x1="512.00" y1="298.20" x2="515.80" y2="298.20" stroke="#111" stroke-width="1.1"/>
<text transform="translate(510.30 300.90) scale(1.0 1.1)" font-size="7.3" text-anchor="end" font-weight="bold" fill="#000">200</text>
<line x1="512.00" y1="277.40" x2="515.80" y2="277.40" stroke="#111" stroke-width="1.1"/>
<text transform="translate(510.30 280.10) scale(1.0 1.1)" font-size="7.3" text-anchor="end" font-weight="bold" fill="#000">250</text>
<line x1="515.80" y1="381.40" x2="515.80" y2="385.20" stroke="#111" stroke-width="1.1"/>
<text transform="translate(515.80 393.40) scale(1.0 1.1)" font-size="7.3" text-anchor="middle" font-weight="bold" fill="#000">0</text>
<line x1="550.30" y1="381.40" x2="550.30" y2="385.20" stroke="#111" stroke-width="1.1"/>
<text transform="translate(550.30 393.40) scale(1.0 1.1)" font-size="7.3" text-anchor="middle" font-weight="bold" fill="#000">1</text>
<line x1="585.10" y1="381.40" x2="585.10" y2="385.20" stroke="#111" stroke-width="1.1"/>
<text transform="translate(585.10 393.40) scale(1.0 1.1)" font-size="7.3" text-anchor="middle" font-weight="bold" fill="#000">2</text>
<line x1="619.80" y1="381.40" x2="619.80" y2="385.20" stroke="#111" stroke-width="1.1"/>
<text transform="translate(619.80 393.40) scale(1.0 1.1)" font-size="7.3" text-anchor="middle" font-weight="bold" fill="#000">3</text>
<text x="585.00" y="408.50" font-size="9.9" text-anchor="middle" font-weight="bold" fill="#000">Inflammation Grade</text>
<text transform="translate(492.00 329.00) rotate(-90)" font-size="8.55" text-anchor="middle" font-weight="bold" fill="#000">Numbers of CD169+ cells/HPF</text>
<circle cx="550.30" cy="357.50" r="1.9" fill="#000"/>
<circle cx="550.30" cy="359.00" r="1.9" fill="#000"/>
<circle cx="550.30" cy="360.50" r="1.9" fill="#000"/>
<circle cx="550.30" cy="362.00" r="1.9" fill="#000"/>
<circle cx="550.30" cy="363.50" r="1.9" fill="#000"/>
<circle cx="550.30" cy="365.00" r="1.9" fill="#000"/>
<circle cx="550.30" cy="366.60" r="1.9" fill="#000"/>
<circle cx="550.30" cy="358.20" r="1.9" fill="#000"/>
<circle cx="550.30" cy="361.20" r="1.9" fill="#000"/>
<circle cx="550.30" cy="364.20" r="1.9" fill="#000"/>
<circle cx="585.10" cy="330.10" r="1.9" fill="#000"/>
<circle cx="585.10" cy="333.80" r="1.9" fill="#000"/>
<circle cx="585.10" cy="346.90" r="1.9" fill="#000"/>
<circle cx="585.10" cy="349.90" r="1.9" fill="#000"/>
<circle cx="585.10" cy="352.50" r="1.9" fill="#000"/>
<circle cx="585.10" cy="355.70" r="1.9" fill="#000"/>
<circle cx="585.10" cy="358.60" r="1.9" fill="#000"/>
<circle cx="585.10" cy="361.20" r="1.9" fill="#000"/>
<circle cx="619.80" cy="297.00" r="1.9" fill="#000"/>
<circle cx="619.80" cy="304.60" r="1.9" fill="#000"/>
<circle cx="619.80" cy="306.40" r="1.9" fill="#000"/>
<circle cx="619.80" cy="309.70" r="1.9" fill="#000"/>
<circle cx="619.80" cy="318.50" r="1.9" fill="#000"/>
<circle cx="619.80" cy="320.70" r="1.9" fill="#000"/>
<circle cx="619.80" cy="322.80" r="1.9" fill="#000"/>
<circle cx="619.80" cy="329.70" r="1.9" fill="#000"/>
<circle cx="619.80" cy="337.40" r="1.9" fill="#000"/>
<circle cx="619.80" cy="349.90" r="1.9" fill="#000"/>
<circle cx="619.80" cy="352.00" r="1.9" fill="#000"/>
<circle cx="619.80" cy="355.70" r="1.9" fill="#000"/>
<line x1="550.30" y1="363.70" x2="619.80" y2="326.80" stroke="#ee2a24" stroke-width="1.6"/>
<text x="272.00" y="444.60" font-size="16.5" text-anchor="start" font-weight="bold" fill="#000" stroke="#000" stroke-width="0.3">e</text>
<line x1="329.00" y1="442.20" x2="329.00" y2="553.40" stroke="#111" stroke-width="1.2"/>
<line x1="328.40" y1="552.80" x2="439.50" y2="552.80" stroke="#111" stroke-width="1.2"/>
<line x1="324.40" y1="552.80" x2="329.00" y2="552.80" stroke="#111" stroke-width="1.2"/>
<text transform="translate(323.20 555.40) scale(1.0 1.15)" font-size="7.4" text-anchor="end" font-weight="bold" fill="#000">-100</text>
<line x1="324.40" y1="525.60" x2="329.00" y2="525.60" stroke="#111" stroke-width="1.2"/>
<text transform="translate(323.20 528.20) scale(1.0 1.15)" font-size="7.4" text-anchor="end" font-weight="bold" fill="#000">0</text>
<line x1="324.40" y1="498.00" x2="329.00" y2="498.00" stroke="#111" stroke-width="1.2"/>
<text transform="translate(323.20 500.60) scale(1.0 1.15)" font-size="7.4" text-anchor="end" font-weight="bold" fill="#000">100</text>
<line x1="324.40" y1="470.40" x2="329.00" y2="470.40" stroke="#111" stroke-width="1.2"/>
<text transform="translate(323.20 473.00) scale(1.0 1.15)" font-size="7.4" text-anchor="end" font-weight="bold" fill="#000">200</text>
<line x1="324.40" y1="442.80" x2="329.00" y2="442.80" stroke="#111" stroke-width="1.2"/>
<text transform="translate(323.20 445.40) scale(1.0 1.15)" font-size="7.4" text-anchor="end" font-weight="bold" fill="#000">300</text>
<line x1="346.40" y1="552.80" x2="346.40" y2="557.00" stroke="#111" stroke-width="1.2"/>
<text x="346.40" y="566.40" font-size="9.0" text-anchor="middle" font-weight="bold" fill="#000">S1</text>
<line x1="371.60" y1="552.80" x2="371.60" y2="557.00" stroke="#111" stroke-width="1.2"/>
<text x="371.60" y="566.40" font-size="9.0" text-anchor="middle" font-weight="bold" fill="#000">S2</text>
<line x1="397.00" y1="552.80" x2="397.00" y2="557.00" stroke="#111" stroke-width="1.2"/>
<text x="397.00" y="566.40" font-size="9.0" text-anchor="middle" font-weight="bold" fill="#000">S3</text>
<line x1="422.20" y1="552.80" x2="422.20" y2="557.00" stroke="#111" stroke-width="1.2"/>
<text x="422.20" y="566.40" font-size="9.0" text-anchor="middle" font-weight="bold" fill="#000">S4</text>
<text x="384.20" y="580.60" font-size="10.4" text-anchor="middle" font-weight="bold" fill="#000">Fibrosis Stage</text>
<text transform="translate(301.20 497.50) rotate(-90)" font-size="9.15" text-anchor="middle" font-weight="bold" fill="#000">Numbers of CD169+ cells/HPF</text>
<line x1="330.00" y1="525.30" x2="439.00" y2="525.30" stroke="#111" stroke-width="1.0" stroke-dasharray="1.3,1.9"/>
<line x1="346.10" y1="493.00" x2="346.10" y2="510.00" stroke="rgb(237,176,92)" stroke-width="1.8"/>
<path d="M346.1,489.1 L348.7,491.7 L346.1,494.3 L343.5,491.7 Z" fill="rgb(237,176,92)" stroke="rgb(237,176,92)" stroke-width="0.6" stroke-linejoin="round"/>
<circle cx="338.60" cy="510.20" r="1.95" fill="rgb(237,176,92)"/>
<circle cx="341.00" cy="509.60" r="1.95" fill="rgb(237,176,92)"/>
<circle cx="343.50" cy="510.00" r="1.95" fill="rgb(237,176,92)"/>
<circle cx="346.00" cy="509.50" r="1.95" fill="rgb(237,176,92)"/>
<circle cx="348.30" cy="510.60" r="1.95" fill="rgb(237,176,92)"/>
<circle cx="350.60" cy="511.50" r="1.95" fill="rgb(237,176,92)"/>
<circle cx="353.00" cy="512.50" r="1.95" fill="rgb(237,176,92)"/>
<circle cx="339.00" cy="513.00" r="1.95" fill="rgb(237,176,92)"/>
<circle cx="341.50" cy="513.50" r="1.95" fill="rgb(237,176,92)"/>
<circle cx="344.00" cy="513.20" r="1.95" fill="rgb(237,176,92)"/>
<circle cx="346.50" cy="513.40" r="1.95" fill="rgb(237,176,92)"/>
<circle cx="349.00" cy="513.60" r="1.95" fill="rgb(237,176,92)"/>
<circle cx="351.50" cy="514.00" r="1.95" fill="rgb(237,176,92)"/>
<circle cx="353.70" cy="514.40" r="1.95" fill="rgb(237,176,92)"/>
<circle cx="340.00" cy="515.00" r="1.95" fill="rgb(237,176,92)"/>
<circle cx="343.00" cy="515.20" r="1.95" fill="rgb(237,176,92)"/>
<circle cx="346.00" cy="515.40" r="1.95" fill="rgb(237,176,92)"/>
<circle cx="349.00" cy="515.20" r="1.95" fill="rgb(237,176,92)"/>
<circle cx="352.00" cy="515.00" r="1.95" fill="rgb(237,176,92)"/>
<path d="M372.10,462.50 L372.14,462.94 L372.19,463.38 L372.25,463.81 L372.32,464.25 L372.39,464.69 L372.46,465.12 L372.53,465.56 L372.60,466.00 L372.66,466.50 L372.72,467.00 L372.78,467.50 L372.84,468.00 L372.90,468.50 L372.96,469.00 L373.03,469.50 L373.10,470.00 L373.18,470.38 L373.26,470.75 L373.35,471.12 L373.44,471.50 L373.54,471.88 L373.63,472.25 L373.72,472.62 L373.80,473.00 L373.88,473.38 L373.96,473.75 L374.04,474.12 L374.12,474.50 L374.19,474.88 L374.27,475.25 L374.34,475.62 L374.40,476.00 L374.46,476.50 L374.52,477.00 L374.57,477.50 L374.62,478.00 L374.67,478.50 L374.71,479.00 L374.76,479.50 L374.80,480.00 L374.85,480.50 L374.90,481.00 L374.95,481.50 L374.99,482.00 L375.04,482.50 L375.07,483.00 L375.09,483.50 L375.10,484.00 L375.09,484.50 L375.07,485.00 L375.04,485.50 L375.01,486.00 L374.96,486.50 L374.91,487.00 L374.86,487.50 L374.80,488.00 L374.74,488.50 L374.67,489.00 L374.60,489.50 L374.52,490.00 L374.44,490.50 L374.36,491.00 L374.28,491.50 L374.20,492.00 L374.11,492.38 L374.00,492.75 L373.87,493.12 L373.76,493.50 L373.66,493.88 L373.59,494.25 L373.56,494.62 L373.60,495.00 L373.69,495.38 L373.83,495.75 L374.01,496.12 L374.23,496.50 L374.47,496.88 L374.73,497.25 L375.01,497.62 L375.30,498.00 L375.62,498.38 L375.99,498.75 L376.38,499.12 L376.79,499.50 L377.21,499.88 L377.60,500.25 L377.97,500.62 L378.30,501.00 L378.59,501.38 L378.87,501.75 L379.13,502.12 L379.38,502.50 L379.59,502.88 L379.79,503.25 L379.96,503.62 L380.10,504.00 L380.20,504.38 L380.27,504.75 L380.31,505.12 L380.33,505.50 L380.33,505.88 L380.32,506.25 L380.31,506.62 L380.30,507.00 L380.29,507.38 L380.27,507.75 L380.25,508.12 L380.22,508.50 L380.18,508.88 L380.13,509.25 L380.07,509.62 L380.00,510.00 L379.93,510.38 L379.85,510.75 L379.78,511.12 L379.69,511.50 L379.58,511.88 L379.45,512.25 L379.29,512.62 L379.10,513.00 L378.87,513.38 L378.59,513.75 L378.29,514.12 L377.97,514.50 L377.63,514.88 L377.28,515.25 L376.94,515.62 L376.60,516.00 L376.25,516.31 L375.88,516.62 L375.50,516.94 L375.11,517.25 L374.74,517.56 L374.39,517.88 L374.07,518.19 L373.80,518.50 L373.57,518.75 L373.38,519.00 L373.22,519.25 L373.09,519.50 L372.97,519.75 L372.87,520.00 L372.78,520.25 L372.70,520.50 L372.63,520.94 L372.59,521.38 L372.56,521.81 L372.55,522.25 L372.54,522.69 L372.54,523.12 L372.52,523.56 L372.50,524.00 L372.47,524.50 L372.43,525.00 L372.38,525.50 L372.34,526.00 L372.29,526.50 L372.26,527.00 L372.22,527.50 L372.20,528.00 L371.40,528.00 L371.38,527.50 L371.34,527.00 L371.31,526.50 L371.26,526.00 L371.22,525.50 L371.18,525.00 L371.13,524.50 L371.10,524.00 L371.08,523.56 L371.06,523.12 L371.06,522.69 L371.05,522.25 L371.04,521.81 L371.01,521.38 L370.97,520.94 L370.90,520.50 L370.82,520.25 L370.73,520.00 L370.63,519.75 L370.51,519.50 L370.38,519.25 L370.22,519.00 L370.03,518.75 L369.80,518.50 L369.53,518.19 L369.21,517.88 L368.86,517.56 L368.49,517.25 L368.10,516.94 L367.72,516.62 L367.35,516.31 L367.00,516.00 L366.66,515.62 L366.32,515.25 L365.97,514.88 L365.63,514.50 L365.31,514.12 L365.01,513.75 L364.73,513.38 L364.50,513.00 L364.31,512.62 L364.15,512.25 L364.02,511.88 L363.91,511.50 L363.82,511.12 L363.75,510.75 L363.67,510.38 L363.60,510.00 L363.53,509.62 L363.47,509.25 L363.42,508.88 L363.38,508.50 L363.35,508.12 L363.33,507.75 L363.31,507.38 L363.30,507.00 L363.29,506.62 L363.28,506.25 L363.27,505.88 L363.27,505.50 L363.29,505.12 L363.33,504.75 L363.40,504.38 L363.50,504.00 L363.64,503.62 L363.81,503.25 L364.01,502.88 L364.23,502.50 L364.47,502.12 L364.73,501.75 L365.01,501.38 L365.30,501.00 L365.63,500.62 L366.00,500.25 L366.39,499.88 L366.81,499.50 L367.22,499.12 L367.61,498.75 L367.98,498.38 L368.30,498.00 L368.59,497.62 L368.87,497.25 L369.13,496.88 L369.38,496.50 L369.59,496.12 L369.77,495.75 L369.91,495.38 L370.00,495.00 L370.04,494.62 L370.01,494.25 L369.94,493.88 L369.84,493.50 L369.73,493.12 L369.60,492.75 L369.49,492.38 L369.40,492.00 L369.32,491.50 L369.24,491.00 L369.16,490.50 L369.08,490.00 L369.00,489.50 L368.93,489.00 L368.86,488.50 L368.80,488.00 L368.74,487.50 L368.69,487.00 L368.64,486.50 L368.59,486.00 L368.56,485.50 L368.53,485.00 L368.51,484.50 L368.50,484.00 L368.51,483.50 L368.53,483.00 L368.56,482.50 L368.61,482.00 L368.65,481.50 L368.70,481.00 L368.75,480.50 L368.80,480.00 L368.84,479.50 L368.89,479.00 L368.93,478.50 L368.98,478.00 L369.03,477.50 L369.08,477.00 L369.14,476.50 L369.20,476.00 L369.26,475.62 L369.33,475.25 L369.41,474.88 L369.48,474.50 L369.56,474.12 L369.64,473.75 L369.72,473.38 L369.80,473.00 L369.88,472.62 L369.97,472.25 L370.06,471.88 L370.16,471.50 L370.25,471.12 L370.34,470.75 L370.42,470.38 L370.50,470.00 L370.57,469.50 L370.64,469.00 L370.70,468.50 L370.76,468.00 L370.82,467.50 L370.88,467.00 L370.94,466.50 L371.00,466.00 L371.07,465.56 L371.14,465.12 L371.21,464.69 L371.28,464.25 L371.35,463.81 L371.41,463.38 L371.46,462.94 L371.50,462.50 Z" fill="none" stroke="rgb(236,112,62)" stroke-width="1.6" stroke-linejoin="round"/>
<circle cx="367.90" cy="475.40" r="1.7" fill="rgb(236,112,62)"/>
<circle cx="375.20" cy="475.40" r="1.7" fill="rgb(236,112,62)"/>
<circle cx="371.80" cy="478.50" r="1.7" fill="rgb(236,112,62)"/>
<circle cx="367.50" cy="484.30" r="1.7" fill="rgb(236,112,62)"/>
<circle cx="375.70" cy="483.90" r="1.7" fill="rgb(236,112,62)"/>
<circle cx="371.80" cy="486.10" r="1.7" fill="rgb(236,112,62)"/>
<circle cx="375.70" cy="491.80" r="1.7" fill="rgb(236,112,62)"/>
<circle cx="371.80" cy="494.50" r="1.7" fill="rgb(236,112,62)"/>
<circle cx="371.80" cy="502.50" r="1.7" fill="rgb(236,112,62)"/>
<circle cx="364.50" cy="505.50" r="1.7" fill="rgb(236,112,62)"/>
<circle cx="368.00" cy="505.00" r="1.7" fill="rgb(236,112,62)"/>
<circle cx="371.80" cy="506.50" r="1.7" fill="rgb(236,112,62)"/>
<circle cx="375.50" cy="505.00" r="1.7" fill="rgb(236,112,62)"/>
<circle cx="379.00" cy="505.50" r="1.7" fill="rgb(236,112,62)"/>
<circle cx="366.00" cy="508.50" r="1.7" fill="rgb(236,112,62)"/>
<circle cx="369.50" cy="508.50" r="1.7" fill="rgb(236,112,62)"/>
<circle cx="373.50" cy="509.00" r="1.7" fill="rgb(236,112,62)"/>
<circle cx="377.50" cy="508.50" r="1.7" fill="rgb(236,112,62)"/>
<circle cx="364.80" cy="511.00" r="1.7" fill="rgb(236,112,62)"/>
<circle cx="368.00" cy="511.50" r="1.7" fill="rgb(236,112,62)"/>
<circle cx="371.50" cy="512.00" r="1.7" fill="rgb(236,112,62)"/>
<circle cx="375.50" cy="511.50" r="1.7" fill="rgb(236,112,62)"/>
<circle cx="378.50" cy="511.00" r="1.7" fill="rgb(236,112,62)"/>
<circle cx="368.00" cy="514.50" r="1.7" fill="rgb(236,112,62)"/>
<circle cx="371.80" cy="515.50" r="1.7" fill="rgb(236,112,62)"/>
<circle cx="375.50" cy="514.50" r="1.7" fill="rgb(236,112,62)"/>
<line x1="368.50" y1="477.30" x2="375.00" y2="477.30" stroke="rgb(236,112,62)" stroke-width="0.8" stroke-dasharray="1.2,1"/>
<line x1="368.50" y1="493.60" x2="375.00" y2="493.60" stroke="rgb(236,112,62)" stroke-width="0.8" stroke-dasharray="1.2,1"/>
<path d="M397.40,448.20 L397.42,448.68 L397.45,449.15 L397.49,449.62 L397.53,450.10 L397.57,450.57 L397.62,451.05 L397.66,451.52 L397.70,452.00 L397.74,452.50 L397.77,453.00 L397.80,453.50 L397.83,454.00 L397.87,454.50 L397.90,455.00 L397.95,455.50 L398.00,456.00 L398.05,456.43 L398.09,456.85 L398.12,457.27 L398.17,457.70 L398.23,458.12 L398.32,458.55 L398.44,458.97 L398.60,459.40 L398.81,459.85 L399.07,460.30 L399.36,460.75 L399.68,461.20 L400.01,461.65 L400.35,462.10 L400.68,462.55 L401.00,463.00 L401.32,463.50 L401.65,464.00 L401.98,464.50 L402.32,465.00 L402.65,465.50 L402.96,466.00 L403.24,466.50 L403.50,467.00 L403.73,467.38 L403.93,467.75 L404.12,468.12 L404.29,468.50 L404.44,468.88 L404.57,469.25 L404.69,469.62 L404.80,470.00 L404.89,470.34 L404.97,470.68 L405.03,471.01 L405.07,471.35 L405.10,471.69 L405.11,472.02 L405.11,472.36 L405.10,472.70 L405.08,473.05 L405.05,473.40 L405.00,473.75 L404.94,474.10 L404.87,474.45 L404.77,474.80 L404.65,475.15 L404.50,475.50 L404.32,475.88 L404.10,476.25 L403.85,476.62 L403.58,477.00 L403.30,477.38 L403.03,477.75 L402.75,478.12 L402.50,478.50 L402.25,478.81 L401.99,479.12 L401.72,479.44 L401.46,479.75 L401.21,480.06 L400.98,480.38 L400.77,480.69 L400.60,481.00 L400.46,481.25 L400.34,481.50 L400.25,481.75 L400.18,482.00 L400.12,482.25 L400.08,482.50 L400.04,482.75 L400.00,483.00 L399.97,483.50 L399.95,484.00 L399.94,484.50 L399.94,485.00 L399.95,485.50 L399.96,486.00 L399.98,486.50 L400.00,487.00 L400.02,487.62 L400.04,488.25 L400.06,488.88 L400.09,489.50 L400.13,490.12 L400.18,490.75 L400.23,491.38 L400.30,492.00 L400.38,492.62 L400.49,493.25 L400.60,493.88 L400.72,494.50 L400.84,495.12 L400.97,495.75 L401.09,496.38 L401.20,497.00 L401.31,497.73 L401.44,498.45 L401.56,499.18 L401.68,499.90 L401.79,500.62 L401.89,501.35 L401.96,502.07 L402.00,502.80 L402.01,503.32 L402.00,503.85 L401.96,504.38 L401.91,504.90 L401.85,505.43 L401.77,505.95 L401.69,506.48 L401.60,507.00 L401.51,507.50 L401.40,508.00 L401.29,508.50 L401.16,509.00 L401.03,509.50 L400.89,510.00 L400.75,510.50 L400.60,511.00 L400.44,511.50 L400.28,512.00 L400.10,512.50 L399.92,513.00 L399.74,513.50 L399.55,514.00 L399.37,514.50 L399.20,515.00 L399.03,515.58 L398.84,516.15 L398.66,516.73 L398.48,517.30 L398.30,517.88 L398.15,518.45 L398.01,519.02 L397.90,519.60 L397.82,520.15 L397.77,520.70 L397.75,521.25 L397.74,521.80 L397.73,522.35 L397.73,522.90 L397.72,523.45 L397.70,524.00 L397.67,524.91 L397.62,525.83 L397.58,526.74 L397.54,527.65 L397.49,528.56 L397.46,529.47 L397.42,530.39 L397.40,531.30 L396.60,531.30 L396.58,530.39 L396.54,529.47 L396.51,528.56 L396.46,527.65 L396.42,526.74 L396.38,525.83 L396.33,524.91 L396.30,524.00 L396.28,523.45 L396.27,522.90 L396.27,522.35 L396.26,521.80 L396.25,521.25 L396.23,520.70 L396.18,520.15 L396.10,519.60 L395.99,519.02 L395.85,518.45 L395.70,517.88 L395.52,517.30 L395.34,516.73 L395.16,516.15 L394.97,515.58 L394.80,515.00 L394.63,514.50 L394.45,514.00 L394.26,513.50 L394.08,513.00 L393.90,512.50 L393.72,512.00 L393.56,511.50 L393.40,511.00 L393.25,510.50 L393.11,510.00 L392.97,509.50 L392.84,509.00 L392.71,508.50 L392.60,508.00 L392.49,507.50 L392.40,507.00 L392.31,506.48 L392.23,505.95 L392.15,505.43 L392.09,504.90 L392.04,504.38 L392.00,503.85 L391.99,503.32 L392.00,502.80 L392.04,502.07 L392.11,501.35 L392.21,500.62 L392.32,499.90 L392.44,499.18 L392.56,498.45 L392.69,497.73 L392.80,497.00 L392.91,496.38 L393.03,495.75 L393.16,495.12 L393.28,494.50 L393.40,493.88 L393.51,493.25 L393.62,492.62 L393.70,492.00 L393.77,491.38 L393.82,490.75 L393.87,490.12 L393.91,489.50 L393.94,488.88 L393.96,488.25 L393.98,487.62 L394.00,487.00 L394.02,486.50 L394.04,486.00 L394.05,485.50 L394.06,485.00 L394.06,484.50 L394.05,484.00 L394.03,483.50 L394.00,483.00 L393.96,482.75 L393.92,482.50 L393.88,482.25 L393.82,482.00 L393.75,481.75 L393.66,481.50 L393.54,481.25 L393.40,481.00 L393.23,480.69 L393.02,480.38 L392.79,480.06 L392.54,479.75 L392.28,479.44 L392.01,479.12 L391.75,478.81 L391.50,478.50 L391.25,478.12 L390.97,477.75 L390.70,477.38 L390.42,477.00 L390.15,476.62 L389.90,476.25 L389.68,475.88 L389.50,475.50 L389.35,475.15 L389.23,474.80 L389.13,474.45 L389.06,474.10 L389.00,473.75 L388.95,473.40 L388.92,473.05 L388.90,472.70 L388.89,472.36 L388.89,472.02 L388.90,471.69 L388.93,471.35 L388.97,471.01 L389.03,470.68 L389.11,470.34 L389.20,470.00 L389.31,469.62 L389.43,469.25 L389.56,468.88 L389.71,468.50 L389.88,468.12 L390.07,467.75 L390.27,467.38 L390.50,467.00 L390.76,466.50 L391.04,466.00 L391.35,465.50 L391.68,465.00 L392.02,464.50 L392.35,464.00 L392.68,463.50 L393.00,463.00 L393.32,462.55 L393.65,462.10 L393.99,461.65 L394.32,461.20 L394.64,460.75 L394.93,460.30 L395.19,459.85 L395.40,459.40 L395.56,458.97 L395.68,458.55 L395.77,458.12 L395.83,457.70 L395.88,457.27 L395.91,456.85 L395.95,456.43 L396.00,456.00 L396.05,455.50 L396.10,455.00 L396.13,454.50 L396.17,454.00 L396.20,453.50 L396.23,453.00 L396.26,452.50 L396.30,452.00 L396.34,451.52 L396.38,451.05 L396.43,450.57 L396.47,450.10 L396.51,449.62 L396.55,449.15 L396.58,448.68 L396.60,448.20 Z" fill="none" stroke="rgb(224,50,38)" stroke-width="1.6" stroke-linejoin="round"/>
<circle cx="396.80" cy="469.50" r="1.75" fill="rgb(224,50,38)"/>
<circle cx="393.60" cy="474.70" r="1.75" fill="rgb(224,50,38)"/>
<circle cx="400.50" cy="474.70" r="1.75" fill="rgb(224,50,38)"/>
<circle cx="396.80" cy="491.40" r="1.75" fill="rgb(224,50,38)"/>
<circle cx="396.80" cy="503.40" r="1.75" fill="rgb(224,50,38)"/>
<circle cx="396.80" cy="509.60" r="1.75" fill="rgb(224,50,38)"/>
<line x1="394.00" y1="483.00" x2="400.00" y2="483.00" stroke="rgb(224,50,38)" stroke-width="0.8" stroke-dasharray="1.2,1.2"/>
<path d="M422.70,487.30 L422.72,487.51 L422.75,487.73 L422.78,487.94 L422.81,488.15 L422.85,488.36 L422.90,488.57 L422.95,488.79 L423.00,489.00 L423.05,489.21 L423.08,489.43 L423.11,489.64 L423.14,489.85 L423.20,490.06 L423.29,490.27 L423.42,490.49 L423.60,490.70 L423.84,490.93 L424.14,491.15 L424.48,491.38 L424.85,491.60 L425.24,491.82 L425.63,492.05 L426.03,492.27 L426.40,492.50 L426.78,492.75 L427.18,493.00 L427.59,493.25 L427.99,493.50 L428.39,493.75 L428.76,494.00 L429.10,494.25 L429.40,494.50 L429.66,494.71 L429.90,494.93 L430.12,495.14 L430.31,495.35 L430.46,495.56 L430.58,495.77 L430.66,495.99 L430.70,496.20 L430.69,496.40 L430.63,496.60 L430.53,496.80 L430.39,497.00 L430.23,497.20 L430.04,497.40 L429.83,497.60 L429.60,497.80 L429.33,498.05 L428.99,498.30 L428.61,498.55 L428.21,498.80 L427.83,499.05 L427.48,499.30 L427.20,499.55 L427.00,499.80 L426.90,500.07 L426.87,500.35 L426.90,500.62 L426.96,500.90 L427.05,501.18 L427.15,501.45 L427.24,501.73 L427.30,502.00 L427.35,502.35 L427.42,502.70 L427.49,503.05 L427.56,503.40 L427.63,503.75 L427.67,504.10 L427.70,504.45 L427.70,504.80 L427.67,505.14 L427.62,505.48 L427.56,505.81 L427.47,506.15 L427.38,506.49 L427.26,506.82 L427.14,507.16 L427.00,507.50 L426.85,507.81 L426.67,508.12 L426.48,508.44 L426.27,508.75 L426.06,509.06 L425.84,509.38 L425.62,509.69 L425.40,510.00 L425.17,510.27 L424.91,510.55 L424.65,510.83 L424.38,511.10 L424.12,511.38 L423.88,511.65 L423.67,511.93 L423.50,512.20 L423.37,512.43 L423.27,512.65 L423.20,512.88 L423.14,513.10 L423.10,513.33 L423.07,513.55 L423.04,513.77 L423.00,514.00 L422.96,514.34 L422.92,514.67 L422.89,515.01 L422.87,515.35 L422.85,515.69 L422.83,516.03 L422.81,516.36 L422.80,516.70 L422.00,516.70 L421.99,516.36 L421.97,516.03 L421.95,515.69 L421.93,515.35 L421.91,515.01 L421.88,514.67 L421.84,514.34 L421.80,514.00 L421.76,513.77 L421.73,513.55 L421.70,513.33 L421.66,513.10 L421.60,512.88 L421.53,512.65 L421.43,512.43 L421.30,512.20 L421.13,511.93 L420.92,511.65 L420.68,511.38 L420.42,511.10 L420.15,510.83 L419.89,510.55 L419.63,510.27 L419.40,510.00 L419.18,509.69 L418.96,509.38 L418.74,509.06 L418.52,508.75 L418.32,508.44 L418.13,508.12 L417.95,507.81 L417.80,507.50 L417.66,507.16 L417.54,506.82 L417.42,506.49 L417.32,506.15 L417.24,505.81 L417.18,505.48 L417.13,505.14 L417.10,504.80 L417.10,504.45 L417.12,504.10 L417.17,503.75 L417.24,503.40 L417.31,503.05 L417.38,502.70 L417.45,502.35 L417.50,502.00 L417.56,501.73 L417.65,501.45 L417.75,501.18 L417.84,500.90 L417.90,500.62 L417.93,500.35 L417.90,500.07 L417.80,499.80 L417.60,499.55 L417.32,499.30 L416.97,499.05 L416.59,498.80 L416.19,498.55 L415.81,498.30 L415.47,498.05 L415.20,497.80 L414.97,497.60 L414.76,497.40 L414.57,497.20 L414.41,497.00 L414.27,496.80 L414.17,496.60 L414.11,496.40 L414.10,496.20 L414.14,495.99 L414.22,495.77 L414.34,495.56 L414.49,495.35 L414.68,495.14 L414.90,494.93 L415.14,494.71 L415.40,494.50 L415.70,494.25 L416.04,494.00 L416.41,493.75 L416.81,493.50 L417.21,493.25 L417.62,493.00 L418.02,492.75 L418.40,492.50 L418.77,492.27 L419.17,492.05 L419.56,491.82 L419.95,491.60 L420.32,491.38 L420.66,491.15 L420.96,490.93 L421.20,490.70 L421.38,490.49 L421.51,490.27 L421.60,490.06 L421.66,489.85 L421.69,489.64 L421.72,489.43 L421.75,489.21 L421.80,489.00 L421.85,488.79 L421.90,488.57 L421.95,488.36 L421.99,488.15 L422.02,487.94 L422.05,487.73 L422.08,487.51 L422.10,487.30 Z" fill="none" stroke="rgb(170,24,46)" stroke-width="1.5" stroke-linejoin="round"/>
<circle cx="418.70" cy="496.00" r="1.75" fill="rgb(170,24,46)"/>
<circle cx="425.90" cy="495.90" r="1.75" fill="rgb(170,24,46)"/>
<circle cx="422.30" cy="503.60" r="1.75" fill="rgb(170,24,46)"/>
<circle cx="422.30" cy="508.20" r="1.75" fill="rgb(170,24,46)"/>
<text x="465.60" y="445.60" font-size="16.5" text-anchor="start" font-weight="bold" fill="#000" stroke="#000" stroke-width="0.3">f</text>
<text x="584.80" y="445.50" font-size="9.8" text-anchor="middle" font-weight="bold" fill="#000" style="white-space:pre">r=0.5358  p=0.0004</text>
<line x1="518.90" y1="459.60" x2="518.90" y2="564.30" stroke="#111" stroke-width="1.1"/>
<line x1="518.30" y1="563.70" x2="650.70" y2="563.70" stroke="#111" stroke-width="1.1"/>
<line x1="515.10" y1="563.70" x2="518.90" y2="563.70" stroke="#111" stroke-width="1.1"/>
<text transform="translate(513.40 566.40) scale(1.0 1.1)" font-size="7.3" text-anchor="end" font-weight="bold" fill="#000">0</text>
<line x1="515.10" y1="543.00" x2="518.90" y2="543.00" stroke="#111" stroke-width="1.1"/>
<text transform="translate(513.40 545.70) scale(1.0 1.1)" font-size="7.3" text-anchor="end" font-weight="bold" fill="#000">50</text>
<line x1="515.10" y1="522.30" x2="518.90" y2="522.30" stroke="#111" stroke-width="1.1"/>
<text transform="translate(513.40 525.00) scale(1.0 1.1)" font-size="7.3" text-anchor="end" font-weight="bold" fill="#000">100</text>
<line x1="515.10" y1="501.60" x2="518.90" y2="501.60" stroke="#111" stroke-width="1.1"/>
<text transform="translate(513.40 504.30) scale(1.0 1.1)" font-size="7.3" text-anchor="end" font-weight="bold" fill="#000">150</text>
<line x1="515.10" y1="480.90" x2="518.90" y2="480.90" stroke="#111" stroke-width="1.1"/>
<text transform="translate(513.40 483.60) scale(1.0 1.1)" font-size="7.3" text-anchor="end" font-weight="bold" fill="#000">200</text>
<line x1="515.10" y1="460.20" x2="518.90" y2="460.20" stroke="#111" stroke-width="1.1"/>
<text transform="translate(513.40 462.90) scale(1.0 1.1)" font-size="7.3" text-anchor="end" font-weight="bold" fill="#000">250</text>
<line x1="518.90" y1="563.70" x2="518.90" y2="567.50" stroke="#111" stroke-width="1.1"/>
<text transform="translate(518.90 575.70) scale(1.0 1.1)" font-size="7.3" text-anchor="middle" font-weight="bold" fill="#000">0</text>
<line x1="545.30" y1="563.70" x2="545.30" y2="567.50" stroke="#111" stroke-width="1.1"/>
<text transform="translate(545.30 575.70) scale(1.0 1.1)" font-size="7.3" text-anchor="middle" font-weight="bold" fill="#000">1</text>
<line x1="571.60" y1="563.70" x2="571.60" y2="567.50" stroke="#111" stroke-width="1.1"/>
<text transform="translate(571.60 575.70) scale(1.0 1.1)" font-size="7.3" text-anchor="middle" font-weight="bold" fill="#000">2</text>
<line x1="598.00" y1="563.70" x2="598.00" y2="567.50" stroke="#111" stroke-width="1.1"/>
<text transform="translate(598.00 575.70) scale(1.0 1.1)" font-size="7.3" text-anchor="middle" font-weight="bold" fill="#000">3</text>
<line x1="624.20" y1="563.70" x2="624.20" y2="567.50" stroke="#111" stroke-width="1.1"/>
<text transform="translate(624.20 575.70) scale(1.0 1.1)" font-size="7.3" text-anchor="middle" font-weight="bold" fill="#000">4</text>
<text x="584.80" y="590.00" font-size="10.0" text-anchor="middle" font-weight="bold" fill="#000">Fibrosis Stage</text>
<text transform="translate(495.00 512.00) rotate(-90)" font-size="9.0" text-anchor="middle" font-weight="bold" fill="#000">Numbers of CD169+ cells/HPF</text>
<circle cx="545.30" cy="513.50" r="1.9" fill="#000"/>
<circle cx="545.30" cy="540.50" r="1.9" fill="#000"/>
<circle cx="545.30" cy="542.50" r="1.9" fill="#000"/>
<circle cx="545.30" cy="544.20" r="1.9" fill="#000"/>
<circle cx="545.30" cy="545.80" r="1.9" fill="#000"/>
<circle cx="545.30" cy="547.20" r="1.9" fill="#000"/>
<circle cx="571.60" cy="488.70" r="1.9" fill="#000"/>
<circle cx="571.60" cy="492.50" r="1.9" fill="#000"/>
<circle cx="571.60" cy="500.70" r="1.9" fill="#000"/>
<circle cx="571.60" cy="503.30" r="1.9" fill="#000"/>
<circle cx="571.60" cy="505.80" r="1.9" fill="#000"/>
<circle cx="571.60" cy="513.10" r="1.9" fill="#000"/>
<circle cx="571.60" cy="516.70" r="1.9" fill="#000"/>
<circle cx="571.60" cy="529.10" r="1.9" fill="#000"/>
<circle cx="571.60" cy="531.50" r="1.9" fill="#000"/>
<circle cx="571.60" cy="534.00" r="1.9" fill="#000"/>
<circle cx="571.60" cy="536.30" r="1.9" fill="#000"/>
<circle cx="571.60" cy="538.70" r="1.9" fill="#000"/>
<circle cx="571.60" cy="541.00" r="1.9" fill="#000"/>
<circle cx="571.60" cy="543.50" r="1.9" fill="#000"/>
<circle cx="571.60" cy="546.00" r="1.9" fill="#000"/>
<circle cx="571.60" cy="548.60" r="1.9" fill="#000"/>
<circle cx="598.00" cy="479.90" r="1.9" fill="#000"/>
<circle cx="598.00" cy="487.50" r="1.9" fill="#000"/>
<circle cx="598.00" cy="512.60" r="1.9" fill="#000"/>
<circle cx="598.00" cy="530.60" r="1.9" fill="#000"/>
<circle cx="598.00" cy="540.80" r="1.9" fill="#000"/>
<circle cx="624.20" cy="518.90" r="1.9" fill="#000"/>
<circle cx="624.20" cy="520.80" r="1.9" fill="#000"/>
<circle cx="624.20" cy="530.60" r="1.9" fill="#000"/>
<circle cx="624.20" cy="538.20" r="1.9" fill="#000"/>
<line x1="545.30" y1="536.10" x2="624.20" y2="511.60" stroke="#ee2a24" stroke-width="1.6"/>
<text x="2.70" y="623.20" font-size="17.0" text-anchor="start" font-weight="bold" fill="#000" stroke="#000" stroke-width="0.3">g</text>
<text x="123.60" y="631.00" font-size="9.2" text-anchor="middle" font-weight="bold" fill="#000" style="white-space:pre">r=0.7422  p&lt;0.0001</text>
<line x1="50.80" y1="643.40" x2="50.80" y2="739.50" stroke="#111" stroke-width="1.1"/>
<line x1="50.20" y1="738.90" x2="194.55" y2="738.90" stroke="#111" stroke-width="1.1"/>
<line x1="47.00" y1="738.90" x2="50.80" y2="738.90" stroke="#111" stroke-width="1.1"/>
<text transform="translate(46.20 741.60) scale(1.0 1.1)" font-size="7.35" text-anchor="end" font-weight="bold" fill="#000">0</text>
<line x1="47.00" y1="707.27" x2="50.80" y2="707.27" stroke="#111" stroke-width="1.1"/>
<text transform="translate(46.20 709.97) scale(1.0 1.1)" font-size="7.35" text-anchor="end" font-weight="bold" fill="#000">500</text>
<line x1="47.00" y1="675.63" x2="50.80" y2="675.63" stroke="#111" stroke-width="1.1"/>
<text transform="translate(46.20 678.33) scale(1.0 1.1)" font-size="7.35" text-anchor="end" font-weight="bold" fill="#000">1000</text>
<line x1="47.00" y1="644.00" x2="50.80" y2="644.00" stroke="#111" stroke-width="1.1"/>
<text transform="translate(46.20 646.70) scale(1.0 1.1)" font-size="7.35" text-anchor="end" font-weight="bold" fill="#000">1500</text>
<line x1="50.80" y1="738.90" x2="50.80" y2="742.70" stroke="#111" stroke-width="1.1"/>
<text transform="translate(50.80 750.90) scale(1.0 1.1)" font-size="7.35" text-anchor="middle" font-weight="bold" fill="#000">0</text>
<line x1="79.55" y1="738.90" x2="79.55" y2="742.70" stroke="#111" stroke-width="1.1"/>
<text transform="translate(79.55 750.90) scale(1.0 1.1)" font-size="7.35" text-anchor="middle" font-weight="bold" fill="#000">50</text>
<line x1="108.30" y1="738.90" x2="108.30" y2="742.70" stroke="#111" stroke-width="1.1"/>
<text transform="translate(108.30 750.90) scale(1.0 1.1)" font-size="7.35" text-anchor="middle" font-weight="bold" fill="#000">100</text>
<line x1="137.05" y1="738.90" x2="137.05" y2="742.70" stroke="#111" stroke-width="1.1"/>
<text transform="translate(137.05 750.90) scale(1.0 1.1)" font-size="7.35" text-anchor="middle" font-weight="bold" fill="#000">150</text>
<line x1="165.80" y1="738.90" x2="165.80" y2="742.70" stroke="#111" stroke-width="1.1"/>
<text transform="translate(165.80 750.90) scale(1.0 1.1)" font-size="7.35" text-anchor="middle" font-weight="bold" fill="#000">200</text>
<line x1="194.55" y1="738.90" x2="194.55" y2="742.70" stroke="#111" stroke-width="1.1"/>
<text transform="translate(194.55 750.90) scale(1.0 1.1)" font-size="7.35" text-anchor="middle" font-weight="bold" fill="#000">250</text>
<text transform="translate(25.00 691.70) rotate(-90)" font-size="8.9" text-anchor="middle" font-weight="bold" fill="#000">ALT (U/L)</text>
<text x="122.90" y="765.00" font-size="9.2" text-anchor="middle" font-weight="bold" fill="#000">Numbers of CD169+ cells/HPF</text>
<circle cx="167.20" cy="654.30" r="1.95" fill="#000"/>
<circle cx="156.30" cy="672.80" r="1.95" fill="#000"/>
<circle cx="155.20" cy="698.40" r="1.95" fill="#000"/>
<circle cx="149.10" cy="713.50" r="1.95" fill="#000"/>
<circle cx="157.00" cy="723.30" r="1.95" fill="#000"/>
<circle cx="135.50" cy="720.30" r="1.95" fill="#000"/>
<circle cx="137.80" cy="725.50" r="1.95" fill="#000"/>
<circle cx="132.10" cy="724.40" r="1.95" fill="#000"/>
<circle cx="120.80" cy="699.30" r="1.95" fill="#000"/>
<circle cx="121.90" cy="723.00" r="1.95" fill="#000"/>
<circle cx="116.30" cy="721.50" r="1.95" fill="#000"/>
<circle cx="112.40" cy="705.90" r="1.95" fill="#000"/>
<circle cx="97.00" cy="707.40" r="1.95" fill="#000"/>
<circle cx="83.50" cy="712.90" r="1.95" fill="#000"/>
<circle cx="85.70" cy="720.60" r="1.95" fill="#000"/>
<circle cx="98.20" cy="726.90" r="1.95" fill="#000"/>
<circle cx="94.30" cy="728.90" r="1.95" fill="#000"/>
<circle cx="93.00" cy="733.20" r="1.95" fill="#000"/>
<circle cx="81.70" cy="732.30" r="1.95" fill="#000"/>
<circle cx="111.10" cy="737.80" r="1.95" fill="#000"/>
<circle cx="97.00" cy="738.40" r="1.95" fill="#000"/>
<circle cx="91.40" cy="738.40" r="1.95" fill="#000"/>
<circle cx="85.70" cy="736.90" r="1.95" fill="#000"/>
<circle cx="83.50" cy="735.50" r="1.95" fill="#000"/>
<circle cx="72.00" cy="737.72" r="1.95" fill="#000"/>
<circle cx="74.22" cy="737.44" r="1.95" fill="#000"/>
<circle cx="76.44" cy="738.24" r="1.95" fill="#000"/>
<circle cx="78.67" cy="737.32" r="1.95" fill="#000"/>
<circle cx="80.89" cy="738.06" r="1.95" fill="#000"/>
<circle cx="83.11" cy="737.79" r="1.95" fill="#000"/>
<circle cx="85.33" cy="737.29" r="1.95" fill="#000"/>
<circle cx="87.56" cy="738.01" r="1.95" fill="#000"/>
<circle cx="89.78" cy="737.26" r="1.95" fill="#000"/>
<circle cx="92.00" cy="737.89" r="1.95" fill="#000"/>
<line x1="81.20" y1="737.30" x2="167.20" y2="692.50" stroke="#ee2a24" stroke-width="1.6"/>
<text x="235.60" y="624.20" font-size="17.0" text-anchor="start" font-weight="bold" fill="#000" stroke="#000" stroke-width="0.3">h</text>
<text x="355.30" y="631.00" font-size="9.2" text-anchor="middle" font-weight="bold" fill="#000" style="white-space:pre">r=0.7054  p&lt;0.0001</text>
<line x1="283.10" y1="643.40" x2="283.10" y2="739.50" stroke="#111" stroke-width="1.1"/>
<line x1="282.50" y1="738.90" x2="426.85" y2="738.90" stroke="#111" stroke-width="1.1"/>
<line x1="279.30" y1="738.90" x2="283.10" y2="738.90" stroke="#111" stroke-width="1.1"/>
<text transform="translate(278.50 741.60) scale(1.0 1.1)" font-size="7.35" text-anchor="end" font-weight="bold" fill="#000">0</text>
<line x1="279.30" y1="707.27" x2="283.10" y2="707.27" stroke="#111" stroke-width="1.1"/>
<text transform="translate(278.50 709.97) scale(1.0 1.1)" font-size="7.35" text-anchor="end" font-weight="bold" fill="#000">500</text>
<line x1="279.30" y1="675.63" x2="283.10" y2="675.63" stroke="#111" stroke-width="1.1"/>
<text transform="translate(278.50 678.33) scale(1.0 1.1)" font-size="7.35" text-anchor="end" font-weight="bold" fill="#000">1000</text>
<line x1="279.30" y1="644.00" x2="283.10" y2="644.00" stroke="#111" stroke-width="1.1"/>
<text transform="translate(278.50 646.70) scale(1.0 1.1)" font-size="7.35" text-anchor="end" font-weight="bold" fill="#000">1500</text>
<line x1="283.10" y1="738.90" x2="283.10" y2="742.70" stroke="#111" stroke-width="1.1"/>
<text transform="translate(283.10 750.90) scale(1.0 1.1)" font-size="7.35" text-anchor="middle" font-weight="bold" fill="#000">0</text>
<line x1="311.85" y1="738.90" x2="311.85" y2="742.70" stroke="#111" stroke-width="1.1"/>
<text transform="translate(311.85 750.90) scale(1.0 1.1)" font-size="7.35" text-anchor="middle" font-weight="bold" fill="#000">50</text>
<line x1="340.60" y1="738.90" x2="340.60" y2="742.70" stroke="#111" stroke-width="1.1"/>
<text transform="translate(340.60 750.90) scale(1.0 1.1)" font-size="7.35" text-anchor="middle" font-weight="bold" fill="#000">100</text>
<line x1="369.35" y1="738.90" x2="369.35" y2="742.70" stroke="#111" stroke-width="1.1"/>
<text transform="translate(369.35 750.90) scale(1.0 1.1)" font-size="7.35" text-anchor="middle" font-weight="bold" fill="#000">150</text>
<line x1="398.10" y1="738.90" x2="398.10" y2="742.70" stroke="#111" stroke-width="1.1"/>
<text transform="translate(398.10 750.90) scale(1.0 1.1)" font-size="7.35" text-anchor="middle" font-weight="bold" fill="#000">200</text>
<line x1="426.85" y1="738.90" x2="426.85" y2="742.70" stroke="#111" stroke-width="1.1"/>
<text transform="translate(426.85 750.90) scale(1.0 1.1)" font-size="7.35" text-anchor="middle" font-weight="bold" fill="#000">250</text>
<text transform="translate(257.50 692.20) rotate(-90)" font-size="8.9" text-anchor="middle" font-weight="bold" fill="#000">AST (U/L)</text>
<text x="355.00" y="765.00" font-size="9.2" text-anchor="middle" font-weight="bold" fill="#000">Numbers of CD169+ cells/HPF</text>
<circle cx="345.00" cy="671.70" r="1.95" fill="#000"/>
<circle cx="399.30" cy="682.50" r="1.95" fill="#000"/>
<circle cx="330.50" cy="697.50" r="1.95" fill="#000"/>
<circle cx="388.70" cy="700.60" r="1.95" fill="#000"/>
<circle cx="353.10" cy="710.80" r="1.95" fill="#000"/>
<circle cx="318.00" cy="715.80" r="1.95" fill="#000"/>
<circle cx="329.10" cy="718.50" r="1.95" fill="#000"/>
<circle cx="381.40" cy="721.90" r="1.95" fill="#000"/>
<circle cx="387.10" cy="722.40" r="1.95" fill="#000"/>
<circle cx="389.30" cy="726.40" r="1.95" fill="#000"/>
<circle cx="364.00" cy="723.50" r="1.95" fill="#000"/>
<circle cx="348.60" cy="728.30" r="1.95" fill="#000"/>
<circle cx="354.00" cy="730.10" r="1.95" fill="#000"/>
<circle cx="354.50" cy="729.40" r="1.95" fill="#000"/>
<circle cx="315.80" cy="727.10" r="1.95" fill="#000"/>
<circle cx="326.90" cy="731.90" r="1.95" fill="#000"/>
<circle cx="368.10" cy="733.90" r="1.95" fill="#000"/>
<circle cx="369.90" cy="733.00" r="1.95" fill="#000"/>
<circle cx="314.70" cy="734.60" r="1.95" fill="#000"/>
<circle cx="343.40" cy="737.80" r="1.95" fill="#000"/>
<circle cx="324.40" cy="737.30" r="1.95" fill="#000"/>
<circle cx="329.60" cy="738.20" r="1.95" fill="#000"/>
<circle cx="304.50" cy="737.31" r="1.95" fill="#000"/>
<circle cx="306.56" cy="737.35" r="1.95" fill="#000"/>
<circle cx="308.61" cy="737.88" r="1.95" fill="#000"/>
<circle cx="310.67" cy="738.52" r="1.95" fill="#000"/>
<circle cx="312.72" cy="737.40" r="1.95" fill="#000"/>
<circle cx="314.78" cy="737.56" r="1.95" fill="#000"/>
<circle cx="316.83" cy="738.20" r="1.95" fill="#000"/>
<circle cx="318.89" cy="738.72" r="1.95" fill="#000"/>
<circle cx="320.94" cy="738.12" r="1.95" fill="#000"/>
<circle cx="323.00" cy="737.83" r="1.95" fill="#000"/>
<line x1="306.30" y1="736.90" x2="399.50" y2="707.90" stroke="#ee2a24" stroke-width="1.6"/>
<text x="469.40" y="624.00" font-size="17.0" text-anchor="start" font-weight="bold" fill="#000" stroke="#000" stroke-width="0.3">i</text>
<text x="585.30" y="631.00" font-size="9.2" text-anchor="middle" font-weight="bold" fill="#000" style="white-space:pre">r=0.6208  p&lt;0.0001</text>
<line x1="513.10" y1="643.40" x2="513.10" y2="739.50" stroke="#111" stroke-width="1.1"/>
<line x1="512.50" y1="738.90" x2="656.85" y2="738.90" stroke="#111" stroke-width="1.1"/>
<line x1="509.30" y1="738.90" x2="513.10" y2="738.90" stroke="#111" stroke-width="1.1"/>
<text transform="translate(508.50 741.60) scale(1.0 1.1)" font-size="7.35" text-anchor="end" font-weight="bold" fill="#000">0</text>
<line x1="509.30" y1="707.27" x2="513.10" y2="707.27" stroke="#111" stroke-width="1.1"/>
<text transform="translate(508.50 709.97) scale(1.0 1.1)" font-size="7.35" text-anchor="end" font-weight="bold" fill="#000">100</text>
<line x1="509.30" y1="675.63" x2="513.10" y2="675.63" stroke="#111" stroke-width="1.1"/>
<text transform="translate(508.50 678.33) scale(1.0 1.1)" font-size="7.35" text-anchor="end" font-weight="bold" fill="#000">200</text>
<line x1="509.30" y1="644.00" x2="513.10" y2="644.00" stroke="#111" stroke-width="1.1"/>
<text transform="translate(508.50 646.70) scale(1.0 1.1)" font-size="7.35" text-anchor="end" font-weight="bold" fill="#000">300</text>
<line x1="513.10" y1="738.90" x2="513.10" y2="742.70" stroke="#111" stroke-width="1.1"/>
<text transform="translate(513.10 750.90) scale(1.0 1.1)" font-size="7.35" text-anchor="middle" font-weight="bold" fill="#000">0</text>
<line x1="541.85" y1="738.90" x2="541.85" y2="742.70" stroke="#111" stroke-width="1.1"/>
<text transform="translate(541.85 750.90) scale(1.0 1.1)" font-size="7.35" text-anchor="middle" font-weight="bold" fill="#000">50</text>
<line x1="570.60" y1="738.90" x2="570.60" y2="742.70" stroke="#111" stroke-width="1.1"/>
<text transform="translate(570.60 750.90) scale(1.0 1.1)" font-size="7.35" text-anchor="middle" font-weight="bold" fill="#000">100</text>
<line x1="599.35" y1="738.90" x2="599.35" y2="742.70" stroke="#111" stroke-width="1.1"/>
<text transform="translate(599.35 750.90) scale(1.0 1.1)" font-size="7.35" text-anchor="middle" font-weight="bold" fill="#000">150</text>
<line x1="628.10" y1="738.90" x2="628.10" y2="742.70" stroke="#111" stroke-width="1.1"/>
<text transform="translate(628.10 750.90) scale(1.0 1.1)" font-size="7.35" text-anchor="middle" font-weight="bold" fill="#000">200</text>
<line x1="656.85" y1="738.90" x2="656.85" y2="742.70" stroke="#111" stroke-width="1.1"/>
<text transform="translate(656.85 750.90) scale(1.0 1.1)" font-size="7.35" text-anchor="middle" font-weight="bold" fill="#000">250</text>
<text transform="translate(491.50 692.00) rotate(-90)" font-size="8.9" text-anchor="middle" font-weight="bold" fill="#000">ALP (U/L)</text>
<text x="585.30" y="765.00" font-size="9.2" text-anchor="middle" font-weight="bold" fill="#000">Numbers of CD169+ cells/HPF</text>
<circle cx="584.90" cy="650.60" r="1.95" fill="#000"/>
<circle cx="629.30" cy="675.80" r="1.95" fill="#000"/>
<circle cx="598.10" cy="680.70" r="1.95" fill="#000"/>
<circle cx="617.30" cy="680.70" r="1.95" fill="#000"/>
<circle cx="618.90" cy="682.30" r="1.95" fill="#000"/>
<circle cx="619.60" cy="694.50" r="1.95" fill="#000"/>
<circle cx="583.40" cy="695.90" r="1.95" fill="#000"/>
<circle cx="600.10" cy="700.90" r="1.95" fill="#000"/>
<circle cx="578.60" cy="701.10" r="1.95" fill="#000"/>
<circle cx="594.20" cy="705.60" r="1.95" fill="#000"/>
<circle cx="573.60" cy="709.00" r="1.95" fill="#000"/>
<circle cx="575.20" cy="710.80" r="1.95" fill="#000"/>
<circle cx="584.00" cy="712.60" r="1.95" fill="#000"/>
<circle cx="611.40" cy="720.30" r="1.95" fill="#000"/>
<circle cx="545.60" cy="700.20" r="1.95" fill="#000"/>
<circle cx="546.00" cy="707.20" r="1.95" fill="#000"/>
<circle cx="545.80" cy="710.20" r="1.95" fill="#000"/>
<circle cx="534.70" cy="707.90" r="1.95" fill="#000"/>
<circle cx="559.40" cy="711.70" r="1.95" fill="#000"/>
<circle cx="560.50" cy="715.80" r="1.95" fill="#000"/>
<circle cx="555.30" cy="715.40" r="1.95" fill="#000"/>
<circle cx="547.80" cy="718.80" r="1.95" fill="#000"/>
<circle cx="555.50" cy="720.30" r="1.95" fill="#000"/>
<circle cx="559.10" cy="722.60" r="1.95" fill="#000"/>
<circle cx="554.40" cy="724.20" r="1.95" fill="#000"/>
<circle cx="549.20" cy="725.10" r="1.95" fill="#000"/>
<circle cx="541.90" cy="725.30" r="1.95" fill="#000"/>
<circle cx="536.30" cy="719.70" r="1.95" fill="#000"/>
<circle cx="538.50" cy="720.30" r="1.95" fill="#000"/>
<circle cx="540.80" cy="721.50" r="1.95" fill="#000"/>
<circle cx="543.00" cy="719.20" r="1.95" fill="#000"/>
<circle cx="544.20" cy="720.60" r="1.95" fill="#000"/>
<circle cx="539.70" cy="722.60" r="1.95" fill="#000"/>
<circle cx="537.40" cy="721.50" r="1.95" fill="#000"/>
<circle cx="542.00" cy="722.60" r="1.95" fill="#000"/>
<line x1="534.70" y1="722.60" x2="629.50" y2="682.50" stroke="#ee2a24" stroke-width="1.6"/>
<text x="2.00" y="797.50" font-size="17.0" text-anchor="start" font-weight="bold" fill="#000" stroke="#000" stroke-width="0.3">j</text>
<text x="118.20" y="803.60" font-size="9.2" text-anchor="middle" font-weight="bold" fill="#000" style="white-space:pre">r=0.7040  p&lt;0.0001</text>
<line x1="47.20" y1="815.80" x2="47.20" y2="911.80" stroke="#111" stroke-width="1.1"/>
<line x1="46.60" y1="911.20" x2="190.20" y2="911.20" stroke="#111" stroke-width="1.1"/>
<line x1="43.40" y1="911.20" x2="47.20" y2="911.20" stroke="#111" stroke-width="1.1"/>
<text transform="translate(42.60 913.90) scale(1.0 1.1)" font-size="7.35" text-anchor="end" font-weight="bold" fill="#000">0</text>
<line x1="43.40" y1="892.24" x2="47.20" y2="892.24" stroke="#111" stroke-width="1.1"/>
<text transform="translate(42.60 894.94) scale(1.0 1.1)" font-size="7.35" text-anchor="end" font-weight="bold" fill="#000">100</text>
<line x1="43.40" y1="873.28" x2="47.20" y2="873.28" stroke="#111" stroke-width="1.1"/>
<text transform="translate(42.60 875.98) scale(1.0 1.1)" font-size="7.35" text-anchor="end" font-weight="bold" fill="#000">200</text>
<line x1="43.40" y1="854.32" x2="47.20" y2="854.32" stroke="#111" stroke-width="1.1"/>
<text transform="translate(42.60 857.02) scale(1.0 1.1)" font-size="7.35" text-anchor="end" font-weight="bold" fill="#000">300</text>
<line x1="43.40" y1="835.36" x2="47.20" y2="835.36" stroke="#111" stroke-width="1.1"/>
<text transform="translate(42.60 838.06) scale(1.0 1.1)" font-size="7.35" text-anchor="end" font-weight="bold" fill="#000">400</text>
<line x1="43.40" y1="816.40" x2="47.20" y2="816.40" stroke="#111" stroke-width="1.1"/>
<text transform="translate(42.60 819.10) scale(1.0 1.1)" font-size="7.35" text-anchor="end" font-weight="bold" fill="#000">500</text>
<line x1="47.20" y1="911.20" x2="47.20" y2="915.00" stroke="#111" stroke-width="1.1"/>
<text transform="translate(47.20 923.20) scale(1.0 1.1)" font-size="7.35" text-anchor="middle" font-weight="bold" fill="#000">0</text>
<line x1="75.80" y1="911.20" x2="75.80" y2="915.00" stroke="#111" stroke-width="1.1"/>
<text transform="translate(75.80 923.20) scale(1.0 1.1)" font-size="7.35" text-anchor="middle" font-weight="bold" fill="#000">50</text>
<line x1="104.40" y1="911.20" x2="104.40" y2="915.00" stroke="#111" stroke-width="1.1"/>
<text transform="translate(104.40 923.20) scale(1.0 1.1)" font-size="7.35" text-anchor="middle" font-weight="bold" fill="#000">100</text>
<line x1="133.00" y1="911.20" x2="133.00" y2="915.00" stroke="#111" stroke-width="1.1"/>
<text transform="translate(133.00 923.20) scale(1.0 1.1)" font-size="7.35" text-anchor="middle" font-weight="bold" fill="#000">150</text>
<line x1="161.60" y1="911.20" x2="161.60" y2="915.00" stroke="#111" stroke-width="1.1"/>
<text transform="translate(161.60 923.20) scale(1.0 1.1)" font-size="7.35" text-anchor="middle" font-weight="bold" fill="#000">200</text>
<line x1="190.20" y1="911.20" x2="190.20" y2="915.00" stroke="#111" stroke-width="1.1"/>
<text transform="translate(190.20 923.20) scale(1.0 1.1)" font-size="7.35" text-anchor="middle" font-weight="bold" fill="#000">250</text>
<text transform="translate(25.00 862.50) rotate(-90)" font-size="8.9" text-anchor="middle" font-weight="bold" fill="#000">γ-GT (U/L)</text>
<text x="118.70" y="937.30" font-size="9.2" text-anchor="middle" font-weight="bold" fill="#000">Numbers of CD169+ cells/HPF</text>
<circle cx="133.60" cy="839.00" r="1.95" fill="#000"/>
<circle cx="163.10" cy="844.60" r="1.95" fill="#000"/>
<circle cx="131.60" cy="851.20" r="1.95" fill="#000"/>
<circle cx="116.70" cy="867.00" r="1.95" fill="#000"/>
<circle cx="112.20" cy="869.50" r="1.95" fill="#000"/>
<circle cx="152.20" cy="863.00" r="1.95" fill="#000"/>
<circle cx="150.60" cy="870.60" r="1.95" fill="#000"/>
<circle cx="117.60" cy="884.20" r="1.95" fill="#000"/>
<circle cx="152.90" cy="891.90" r="1.95" fill="#000"/>
<circle cx="92.90" cy="886.00" r="1.95" fill="#000"/>
<circle cx="79.30" cy="891.00" r="1.95" fill="#000"/>
<circle cx="78.90" cy="894.20" r="1.95" fill="#000"/>
<circle cx="88.80" cy="897.60" r="1.95" fill="#000"/>
<circle cx="94.00" cy="901.00" r="1.95" fill="#000"/>
<circle cx="108.50" cy="902.80" r="1.95" fill="#000"/>
<circle cx="118.00" cy="900.70" r="1.95" fill="#000"/>
<circle cx="128.00" cy="901.20" r="1.95" fill="#000"/>
<circle cx="145.00" cy="900.50" r="1.95" fill="#000"/>
<circle cx="81.80" cy="903.70" r="1.95" fill="#000"/>
<circle cx="79.30" cy="904.60" r="1.95" fill="#000"/>
<circle cx="89.10" cy="903.70" r="1.95" fill="#000"/>
<circle cx="107.00" cy="908.40" r="1.95" fill="#000"/>
<circle cx="87.30" cy="908.70" r="1.95" fill="#000"/>
<circle cx="92.90" cy="909.60" r="1.95" fill="#000"/>
<circle cx="82.70" cy="909.10" r="1.95" fill="#000"/>
<circle cx="68.00" cy="906.20" r="1.95" fill="#000"/>
<circle cx="70.30" cy="907.30" r="1.95" fill="#000"/>
<circle cx="72.50" cy="907.80" r="1.95" fill="#000"/>
<circle cx="74.50" cy="909.50" r="1.95" fill="#000"/>
<circle cx="76.50" cy="910.20" r="1.95" fill="#000"/>
<circle cx="73.00" cy="910.50" r="1.95" fill="#000"/>
<circle cx="70.50" cy="910.00" r="1.95" fill="#000"/>
<line x1="69.20" y1="911.20" x2="163.10" y2="862.00" stroke="#ee2a24" stroke-width="1.6"/>
<text x="236.50" y="797.70" font-size="17.0" text-anchor="start" font-weight="bold" fill="#000" stroke="#000" stroke-width="0.3">k</text>
<text x="353.30" y="803.60" font-size="9.2" text-anchor="middle" font-weight="bold" fill="#000" style="white-space:pre">r=0.5899  p&lt;0.0001</text>
<line x1="281.10" y1="815.80" x2="281.10" y2="911.80" stroke="#111" stroke-width="1.1"/>
<line x1="280.50" y1="911.20" x2="424.60" y2="911.20" stroke="#111" stroke-width="1.1"/>
<line x1="277.30" y1="911.20" x2="281.10" y2="911.20" stroke="#111" stroke-width="1.1"/>
<text transform="translate(276.50 913.90) scale(1.0 1.1)" font-size="7.35" text-anchor="end" font-weight="bold" fill="#000">0</text>
<line x1="277.30" y1="887.50" x2="281.10" y2="887.50" stroke="#111" stroke-width="1.1"/>
<text transform="translate(276.50 890.20) scale(1.0 1.1)" font-size="7.35" text-anchor="end" font-weight="bold" fill="#000">100</text>
<line x1="277.30" y1="863.80" x2="281.10" y2="863.80" stroke="#111" stroke-width="1.1"/>
<text transform="translate(276.50 866.50) scale(1.0 1.1)" font-size="7.35" text-anchor="end" font-weight="bold" fill="#000">200</text>
<line x1="277.30" y1="840.10" x2="281.10" y2="840.10" stroke="#111" stroke-width="1.1"/>
<text transform="translate(276.50 842.80) scale(1.0 1.1)" font-size="7.35" text-anchor="end" font-weight="bold" fill="#000">300</text>
<line x1="277.30" y1="816.40" x2="281.10" y2="816.40" stroke="#111" stroke-width="1.1"/>
<text transform="translate(276.50 819.10) scale(1.0 1.1)" font-size="7.35" text-anchor="end" font-weight="bold" fill="#000">400</text>
<line x1="281.10" y1="911.20" x2="281.10" y2="915.00" stroke="#111" stroke-width="1.1"/>
<text transform="translate(281.10 923.20) scale(1.0 1.1)" font-size="7.35" text-anchor="middle" font-weight="bold" fill="#000">0</text>
<line x1="309.80" y1="911.20" x2="309.80" y2="915.00" stroke="#111" stroke-width="1.1"/>
<text transform="translate(309.80 923.20) scale(1.0 1.1)" font-size="7.35" text-anchor="middle" font-weight="bold" fill="#000">50</text>
<line x1="338.50" y1="911.20" x2="338.50" y2="915.00" stroke="#111" stroke-width="1.1"/>
<text transform="translate(338.50 923.20) scale(1.0 1.1)" font-size="7.35" text-anchor="middle" font-weight="bold" fill="#000">100</text>
<line x1="367.20" y1="911.20" x2="367.20" y2="915.00" stroke="#111" stroke-width="1.1"/>
<text transform="translate(367.20 923.20) scale(1.0 1.1)" font-size="7.35" text-anchor="middle" font-weight="bold" fill="#000">150</text>
<line x1="395.90" y1="911.20" x2="395.90" y2="915.00" stroke="#111" stroke-width="1.1"/>
<text transform="translate(395.90 923.20) scale(1.0 1.1)" font-size="7.35" text-anchor="middle" font-weight="bold" fill="#000">200</text>
<line x1="424.60" y1="911.20" x2="424.60" y2="915.00" stroke="#111" stroke-width="1.1"/>
<text transform="translate(424.60 923.20) scale(1.0 1.1)" font-size="7.35" text-anchor="middle" font-weight="bold" fill="#000">250</text>
<text transform="translate(259.00 862.50) rotate(-90)" font-size="8.9" text-anchor="middle" font-weight="bold" fill="#000">TBIL (µmol/L)</text>
<text x="353.80" y="937.30" font-size="9.2" text-anchor="middle" font-weight="bold" fill="#000">Numbers of CD169+ cells/HPF</text>
<circle cx="397.30" cy="833.30" r="1.95" fill="#000"/>
<circle cx="343.00" cy="840.10" r="1.95" fill="#000"/>
<circle cx="387.10" cy="841.20" r="1.95" fill="#000"/>
<circle cx="386.70" cy="870.60" r="1.95" fill="#000"/>
<circle cx="351.10" cy="888.10" r="1.95" fill="#000"/>
<circle cx="346.60" cy="901.90" r="1.95" fill="#000"/>
<circle cx="366.10" cy="902.80" r="1.95" fill="#000"/>
<circle cx="352.30" cy="906.20" r="1.95" fill="#000"/>
<circle cx="362.40" cy="907.80" r="1.95" fill="#000"/>
<circle cx="368.10" cy="906.60" r="1.95" fill="#000"/>
<circle cx="379.40" cy="908.40" r="1.95" fill="#000"/>
<circle cx="385.10" cy="904.80" r="1.95" fill="#000"/>
<circle cx="341.20" cy="909.60" r="1.95" fill="#000"/>
<circle cx="313.30" cy="903.50" r="1.95" fill="#000"/>
<circle cx="311.00" cy="906.20" r="1.95" fill="#000"/>
<circle cx="315.50" cy="907.30" r="1.95" fill="#000"/>
<circle cx="310.00" cy="909.20" r="1.95" fill="#000"/>
<circle cx="313.30" cy="909.50" r="1.95" fill="#000"/>
<circle cx="316.70" cy="909.50" r="1.95" fill="#000"/>
<circle cx="305.50" cy="908.60" r="1.95" fill="#000"/>
<circle cx="303.20" cy="909.90" r="1.95" fill="#000"/>
<circle cx="307.70" cy="909.90" r="1.95" fill="#000"/>
<circle cx="324.60" cy="906.20" r="1.95" fill="#000"/>
<circle cx="328.00" cy="907.30" r="1.95" fill="#000"/>
<circle cx="323.50" cy="908.60" r="1.95" fill="#000"/>
<circle cx="326.80" cy="909.90" r="1.95" fill="#000"/>
<circle cx="325.70" cy="910.30" r="1.95" fill="#000"/>
<circle cx="320.50" cy="910.20" r="1.95" fill="#000"/>
<line x1="307.70" y1="911.20" x2="397.50" y2="874.50" stroke="#ee2a24" stroke-width="1.6"/>
<text x="470.40" y="796.80" font-size="17.0" text-anchor="start" font-weight="bold" fill="#000" stroke="#000" stroke-width="0.3">l</text>
<text x="586.00" y="803.60" font-size="9.2" text-anchor="middle" font-weight="bold" fill="#000" style="white-space:pre">r=0.6156  p&lt;0.0001</text>
<line x1="514.00" y1="816.20" x2="514.00" y2="911.80" stroke="#111" stroke-width="1.1"/>
<line x1="513.40" y1="911.20" x2="657.50" y2="911.20" stroke="#111" stroke-width="1.1"/>
<line x1="510.20" y1="911.20" x2="514.00" y2="911.20" stroke="#111" stroke-width="1.1"/>
<text transform="translate(509.40 913.90) scale(1.0 1.1)" font-size="7.35" text-anchor="end" font-weight="bold" fill="#000">0</text>
<line x1="510.20" y1="887.60" x2="514.00" y2="887.60" stroke="#111" stroke-width="1.1"/>
<text transform="translate(509.40 890.30) scale(1.0 1.1)" font-size="7.35" text-anchor="end" font-weight="bold" fill="#000">10</text>
<line x1="510.20" y1="864.00" x2="514.00" y2="864.00" stroke="#111" stroke-width="1.1"/>
<text transform="translate(509.40 866.70) scale(1.0 1.1)" font-size="7.35" text-anchor="end" font-weight="bold" fill="#000">20</text>
<line x1="510.20" y1="840.40" x2="514.00" y2="840.40" stroke="#111" stroke-width="1.1"/>
<text transform="translate(509.40 843.10) scale(1.0 1.1)" font-size="7.35" text-anchor="end" font-weight="bold" fill="#000">30</text>
<line x1="510.20" y1="816.80" x2="514.00" y2="816.80" stroke="#111" stroke-width="1.1"/>
<text transform="translate(509.40 819.50) scale(1.0 1.1)" font-size="7.35" text-anchor="end" font-weight="bold" fill="#000">40</text>
<line x1="514.00" y1="911.20" x2="514.00" y2="915.00" stroke="#111" stroke-width="1.1"/>
<text transform="translate(514.00 923.20) scale(1.0 1.1)" font-size="7.35" text-anchor="middle" font-weight="bold" fill="#000">0</text>
<line x1="542.70" y1="911.20" x2="542.70" y2="915.00" stroke="#111" stroke-width="1.1"/>
<text transform="translate(542.70 923.20) scale(1.0 1.1)" font-size="7.35" text-anchor="middle" font-weight="bold" fill="#000">50</text>
<line x1="571.40" y1="911.20" x2="571.40" y2="915.00" stroke="#111" stroke-width="1.1"/>
<text transform="translate(571.40 923.20) scale(1.0 1.1)" font-size="7.35" text-anchor="middle" font-weight="bold" fill="#000">100</text>
<line x1="600.10" y1="911.20" x2="600.10" y2="915.00" stroke="#111" stroke-width="1.1"/>
<text transform="translate(600.10 923.20) scale(1.0 1.1)" font-size="7.35" text-anchor="middle" font-weight="bold" fill="#000">150</text>
<line x1="628.80" y1="911.20" x2="628.80" y2="915.00" stroke="#111" stroke-width="1.1"/>
<text transform="translate(628.80 923.20) scale(1.0 1.1)" font-size="7.35" text-anchor="middle" font-weight="bold" fill="#000">200</text>
<line x1="657.50" y1="911.20" x2="657.50" y2="915.00" stroke="#111" stroke-width="1.1"/>
<text transform="translate(657.50 923.20) scale(1.0 1.1)" font-size="7.35" text-anchor="middle" font-weight="bold" fill="#000">250</text>
<text transform="translate(497.50 862.80) rotate(-90)" font-size="8.9" text-anchor="middle" font-weight="bold" fill="#000">IgG (g/L)</text>
<text x="586.00" y="937.30" font-size="9.2" text-anchor="middle" font-weight="bold" fill="#000">Numbers of CD169+ cells/HPF</text>
<circle cx="619.30" cy="838.50" r="1.95" fill="#000"/>
<circle cx="611.80" cy="855.00" r="1.95" fill="#000"/>
<circle cx="629.50" cy="865.00" r="1.95" fill="#000"/>
<circle cx="617.50" cy="862.00" r="1.95" fill="#000"/>
<circle cx="619.70" cy="867.90" r="1.95" fill="#000"/>
<circle cx="600.50" cy="859.10" r="1.95" fill="#000"/>
<circle cx="584.90" cy="863.60" r="1.95" fill="#000"/>
<circle cx="583.50" cy="868.40" r="1.95" fill="#000"/>
<circle cx="584.20" cy="873.40" r="1.95" fill="#000"/>
<circle cx="594.80" cy="870.00" r="1.95" fill="#000"/>
<circle cx="598.20" cy="875.90" r="1.95" fill="#000"/>
<circle cx="575.60" cy="872.70" r="1.95" fill="#000"/>
<circle cx="573.60" cy="877.90" r="1.95" fill="#000"/>
<circle cx="578.80" cy="882.20" r="1.95" fill="#000"/>
<circle cx="546.00" cy="866.80" r="1.95" fill="#000"/>
<circle cx="557.00" cy="868.20" r="1.95" fill="#000"/>
<circle cx="560.90" cy="871.80" r="1.95" fill="#000"/>
<circle cx="542.30" cy="872.20" r="1.95" fill="#000"/>
<circle cx="544.60" cy="871.10" r="1.95" fill="#000"/>
<circle cx="543.50" cy="874.00" r="1.95" fill="#000"/>
<circle cx="541.20" cy="875.60" r="1.95" fill="#000"/>
<circle cx="539.00" cy="876.80" r="1.95" fill="#000"/>
<circle cx="537.80" cy="879.00" r="1.95" fill="#000"/>
<circle cx="536.70" cy="881.30" r="1.95" fill="#000"/>
<circle cx="549.10" cy="875.60" r="1.95" fill="#000"/>
<circle cx="546.80" cy="874.50" r="1.95" fill="#000"/>
<circle cx="554.80" cy="880.20" r="1.95" fill="#000"/>
<circle cx="559.30" cy="882.40" r="1.95" fill="#000"/>
<circle cx="560.00" cy="880.20" r="1.95" fill="#000"/>
<circle cx="553.70" cy="882.90" r="1.95" fill="#000"/>
<circle cx="546.80" cy="883.50" r="1.95" fill="#000"/>
<circle cx="548.40" cy="885.10" r="1.95" fill="#000"/>
<circle cx="543.50" cy="884.70" r="1.95" fill="#000"/>
<circle cx="541.20" cy="886.50" r="1.95" fill="#000"/>
<circle cx="539.00" cy="888.10" r="1.95" fill="#000"/>
<circle cx="540.10" cy="889.70" r="1.95" fill="#000"/>
<circle cx="542.60" cy="891.00" r="1.95" fill="#000"/>
<circle cx="535.10" cy="887.60" r="1.95" fill="#000"/>
<circle cx="555.50" cy="888.10" r="1.95" fill="#000"/>
<circle cx="549.60" cy="888.10" r="1.95" fill="#000"/>
<line x1="535.10" y1="883.10" x2="629.50" y2="857.50" stroke="#ee2a24" stroke-width="1.6"/>
<text x="2.80" y="965.60" font-size="17.8" text-anchor="start" font-weight="bold" fill="#000" stroke="#000" stroke-width="0.3">m</text>
<text transform="translate(70.60 984.20) scale(1.08 1.02)" font-size="11.2" text-anchor="middle" font-weight="bold" fill="#3343dd">DAPI</text>
<text transform="translate(205.70 984.20) scale(1.08 1.02)" font-size="11.2" text-anchor="middle" font-weight="bold" fill="#3aae45">CD169</text>
<text transform="translate(343.20 984.20) scale(1.08 1.02)" font-size="11.2" text-anchor="middle" font-weight="bold" fill="#e8262a">CD68</text>
<text transform="translate(482.30 984.20) scale(1.08 1.02)" font-size="11.2" text-anchor="middle" font-weight="bold" fill="#e6cf32">MERGE</text>
<text transform="translate(622.00 984.20) scale(1.08 1.02)" font-size="11.2" text-anchor="middle" font-weight="bold" fill="#111">ENLARGED</text>
<g clip-path="url(#c36)"><rect x="11.0" y="991.2" width="127.6" height="127.4" fill="#010106"/>
<g filter="url(#b0_3)"><ellipse cx="87.6" cy="1057.4" rx="63.8" ry="33.1" fill="rgb(30,30,150)" fill-opacity="0.38" filter="url(#b8)"/><ellipse cx="125.8" cy="1086.8" rx="19.1" ry="38.2" fill="rgb(30,30,150)" fill-opacity="0.3" filter="url(#b6)"/><path transform="scale(.5)" d="M248 1990h0m7 22h0m-10-4h0m-4-8h0m-24 10h0m-85-7h0m-25-2h0m-40-3h0m-5 7h0m-12-12h0m-3 14h0m-13 16h0m51 7h0m8-10h0m50 18h0m1 1h0m11-8h0m4 2h0m4 4h0m9 0h0m15-14h0m0 9h0m36 7h0m5 1h0m0-17h0m0-2h0m4-1h0m5 20h0m0-13h0m1 9h0m2-4h0m2-2h0m11-12h0m5 19h0m0-13h0m4 6h0m1-14h0m2 10h0m8 18h0m0 18h0m0-3h0m-1-7h0m-9-6h0m-1 14h0m-1-6h0m-5-14h0m-2 17h0m-1 3h0m0-7h0m-2 3h0m0 3h0m0 4h0m0-18h0m0 2h0m-1 4h0m-2-6h0m-1 10h0m0 4h0m0-5h0m-3-2h0m-3 3h0m-3 3h0m-1-5h0m-2-9h0m-1 6h0m0 8h0m-1-16h0m-4 5h0m0-6h0m-1 12h0m-2 3h0m-1 3h0m0-14h0m-8 15h0m0-14h0m-3 18h0m-1-10h0m-3 9h0m0-1h0m-2-18h0m-3-4h0m-2 21h0m-11 1h0m-3-13h0m-1-4h0m-1-5h0m-2 10h0m0 13h0m-10-4h0m-5-8h0m-1 3h0m-4 8h0m-9-2h0m-12 0h0m-1 3h0m-4-9h0m-2 7h0m-7 1h0m-8 0h0m-2-15h0m-90 14h0m11 23h0m10-4h0m0 0h0m8 0h0m0 3h0m6-2h0m2-4h0m4 3h0m5-2h0m1-1h0m2 2h0m0 4h0m1 4h0m0-1h0m0-15h0m1 15h0m2-11h0m5 10h0m1-8h0m0-4h0m2 8h0m1 6h0m4-22h0m1 2h0m3 14h0m1-2h0m1 6h0m1-16h0m3 0h0m0 8h0m1-5h0m1 3h0m0-10h0m1 22h0m4-21h0m1 3h0m1 17h0m4-3h0m3-3h0m1 7h0m5-21h0m1 12h0m0 8h0m1-15h0m0 7h0m5-3h0m6-5h0m1 10h0m0-12h0m2 1h0m1 18h0m2-8h0m1-1h0m0-6h0m1 6h0m0-3h0m4 3h0m2-6h0m1-5h0m0 1h0m1 2h0m1 16h0m2 0h0m0-1h0m2 0h0m1-13h0m2 1h0m1 14h0m1-4h0m0-2h0m2-3h0m1-11h0m2 20h0m0-21h0m2 2h0m2 13h0m0-13h0m0 15h0m0-12h0m1 11h0m5-15h0m1 3h0m5 16h0m0-8h0m1-3h0m0-6h0m0-1h0m1-2h0m2 9h0m0 5h0m4-9h0m1 7h0m2 5h0m7-9h0m0-2h0m1 1h0m0-1h0m0 0h0m1 14h0m1-17h0m1 18h0m3-14h0m1 10h0m2-4h0m1-8h0m2 12h0m1-13h0m1 2h0m0 1h0m4-9h0m0 0h0m2 5h0m3 14h0m0-13h0m0-1h0m2-1h0m3 16h0m3-16h0m1 15h0m1-15h0m1 3h0m3 4h0m0 2h0m1-12h0m1 6h0m0 8h0m1-5h0m1 1h0m2 1h0m1 8h0m0-6h0m1-3h0m1 5h0m6 8h0m4-14h0m1 1h0m1 8h0m0 1h0m5-11h0m1 2h0m0 7h0m1 1h0m0-12h0m1 8h0m0 5h0m0-3h0m1-7h0m0 13h0m2 7h0m-1 10h0m0-9h0m-1 11h0m-4 3h0m0 3h0m-2-20h0m-1-2h0m-5 5h0m-3 7h0m-2-6h0m0 7h0m-2-5h0m-2-3h0m-1-4h0m0 13h0m-1-9h0m0-5h0m0 10h0m-2-11h0m0 5h0m-2 1h0m-1 1h0m-2 0h0m-1 3h0m-5 2h0m-5 8h0m0 1h0m-1-21h0m-3 5h0m-2 14h0m0-19h0m0 3h0m-1 6h0m-1-7h0m-1 12h0m0-11h0m-1 19h0m0-18h0m-2 0h0m-1 11h0m-2 6h0m-2-5h0m0-5h0m-1-5h0m0 13h0m-1-2h0m-1-10h0m0 8h0m-2-9h0m0 17h0m-2-2h0m-1-16h0m0 14h0m-3-9h0m0 4h0m-3-6h0m-3 11h0m-3 2h0m-2-3h0m-2-3h0m0-7h0m-4 0h0m0-4h0m-4 8h0m-1 11h0m-1-6h0m0 0h0m-2-8h0m-1 11h0m-1-18h0m0-3h0m-2 18h0m-2 3h0m0-21h0m-1 12h0m-2 3h0m-3-4h0m-1-11h0m-1 9h0m0 4h0m-1-3h0m-2 10h0m-2-11h0m-1 11h0m0-2h0m-2-8h0m-1 2h0m-5-8h0m-1 15h0m0-3h0m-2-13h0m-2 7h0m-1-2h0m-2 14h0m0-7h0m0 4h0m-1 1h0m-1-10h0m-2-7h0m0-1h0m-1 4h0m-2 1h0m-1 9h0m-6-6h0m-2 4h0m-2-12h0m-4 19h0m-2-2h0m-2 4h0m-2-2h0m-1 2h0m-1-14h0m-1 7h0m-1-14h0m-2 21h0m-4-13h0m-2-8h0m-1 19h0m-3-13h0m0 1h0m-1 7h0m0-11h0m-2 3h0m-1 1h0m-3-6h0m-4-3h0m-1 22h0m-4 0h0m-2-13h0m-1-5h0m-3 20h0m-3-4h0m0-19h0m-2 9h0m-2-2h0m0-6h0m-1 6h0m-1 3h0m-1 12h0m-1-22h0m-1 12h0m0 7h0m-1 2h0m0 0h0m-1 1h0m-1-20h0m-4-2h0m-2 20h0m0-18h0m-5 6h0m-1 8h0m-1-9h0m0 1h0m-2 14h0m-1-14h0m-1 1h0m-1-6h0m0 7h0m-3 0h0m-1 5h0m0 0h0m-1-4h0m0-3h0m-1-7h0m-3 0h0m-2 19h0m-3-5h0m-5 6h0m3 19h0m1-2h0m1 2h0m2-17h0m1 3h0m0 7h0m1 9h0m1-13h0m2 15h0m3-4h0m2-10h0m1 13h0m1-2h0m3 5h0m1-9h0m1 2h0m0-9h0m1-2h0m3 18h0m0-6h0m1-5h0m0 10h0m2-5h0m3-9h0m1 5h0m0 7h0m1-5h0m6-6h0m2 15h0m1-24h0m3 4h0m1 1h0m2 10h0m0 6h0m0-7h0m1-6h0m2 11h0m2-8h0m1-6h0m1 7h0m0-8h0m3-2h0m4-2h0m0 11h0m0-5h0m2 16h0m0-4h0m1-3h0m2-9h0m4-5h0m1 2h0m0 8h0m4-7h0m0-4h0m1 14h0m3 8h0m0-5h0m2-1h0m0-1h0m2-2h0m0-10h0m0 2h0m1 9h0m0 3h0m3-3h0m2 5h0m1-1h0m1-5h0m1-9h0m1 17h0m2-19h0m2 15h0m1-6h0m1 10h0m4-18h0m1-2h0m2 11h0m1 0h0m2 3h0m1 3h0m1-5h0m2 10h0m1-2h0m4-3h0m1-9h0m2 11h0m1 3h0m0-22h0m1 23h0m0-5h0m0-9h0m1 11h0m1-2h0m0-11h0m2 6h0m0-14h0m2 9h0m0-5h0m3-1h0m0 3h0m1 10h0m1-9h0m1-3h0m3-3h0m1 3h0m2 4h0m1-6h0m1 18h0m1-15h0m1 16h0m1-14h0m4-6h0m3 5h0m4-2h0m1-4h0m2 6h0m1 10h0m0-15h0m2 7h0m1-7h0m6 11h0m0 7h0m1 0h0m1-7h0m2 2h0m1 1h0m0 9h0m0-7h0m0-13h0m1 6h0m1 10h0m1-19h0m2-1h0m3 20h0m1-7h0m1-2h0m1 6h0m3-7h0m0 9h0m2-7h0m1 4h0m1 5h0m0-8h0m2-2h0m0-9h0m0-1h0m1 3h0m1 20h0m0-11h0m1-7h0m0-3h0m3 17h0m0-13h0m3 4h0m2-8h0m0 6h0m5 2h0m5-9h0m1 12h0m1 5h0m6 3h0m1-18h0m1-1h0m0 2h0m1 7h0m0 10h0m6-3h0m0-17h0m1 9h0m1 12h0m0-7h0m1 6h0m0-1h0m2-14h0m0 9h0m0-10h0m2 5h0m1-10h0m0 9h0m1 6h0m0-11h0m0 16h0m1-16h0m0 13h0m0-17h0m2 21h0m2 5h0m-8 16h0m-4-2h0m-2-10h0m-2 2h0m-1 12h0m-5-17h0m-2 9h0m-1-6h0m-1-6h0m-1 12h0m-2 3h0m-1-10h0m-1-5h0m-1 17h0m-1 2h0m0-8h0m-1-9h0m0 10h0m-1-2h0m-2-7h0m-2 12h0m-2-7h0m-3-1h0m-1-5h0m-1 20h0m-1-10h0m0-1h0m-5 9h0m-3-13h0m-1-5h0m0 17h0m-1-11h0m0-6h0m0 9h0m-2 1h0m0 3h0m-2-12h0m-5-3h0m0 10h0m-1-7h0m-3 2h0m0 2h0m-1 0h0m-4-6h0m-1 2h0m-9 14h0m-2-2h0m-1-1h0m-3-2h0m0 8h0m0 3h0m0-22h0m-8 10h0m-5 9h0m0-19h0m-1 18h0m-1-20h0m-1 15h0m-1 0h0m-3-3h0m-2-11h0m-3 8h0m0 4h0m-2-7h0m-3 6h0m0 3h0m0 3h0m-4-11h0m0 0h0m-2 8h0m-1-1h0m-1-9h0m-2 11h0m0-4h0m-1-1h0m-5 7h0m0-2h0m-1-1h0m-1 3h0m-2-6h0m-4-5h0m-1 11h0m-1 0h0m-3-6h0m-1-4h0m-1-4h0m-1 4h0m-1 11h0m0-2h0m-3 4h0m-1-6h0m0 4h0m-3-9h0m-4-6h0m-2 4h0m-1 3h0m-1-5h0m0-4h0m-2 14h0m0-15h0m-1-1h0m-1 7h0m-1-1h0m0-3h0m-4 14h0m-1-10h0m0 14h0m-4-14h0m-1-5h0m-2 2h0m-1 13h0m-5-5h0m-3-12h0m-1 11h0m-1 0h0m-4 10h0m0-10h0m-3 2h0m-2-3h0m0 0h0m-5 7h0m0 2h0m-1-17h0m-3 6h0m0 15h0m-11-5h0m-2-17h0m-4 5h0m-9 4h0m-4 11h0m-4-18h0m0-2h0m16 37h0m2 0h0m3 7h0m3-13h0m0 13h0m1-21h0m10 5h0m4 14h0m3-11h0m17 1h0m1 1h0m3 13h0m12-23h0m3 13h0m5 9h0m6 1h0m4-13h0m1-5h0m3 9h0m0 0h0m3 5h0m1 0h0m12-19h0m5 17h0m3-9h0m2-7h0m3 0h0m22 17h0m32 1h0m5-17h0m3 0h0m0 14h0m0-16h0m1 1h0m2 4h0m0 9h0m2-9h0m0 17h0m3-16h0m1 14h0m8-10h0m0 4h0m1-6h0m0 6h0m3 8h0m3-6h0m5-6h0m3 13h0m2-21h0m1 12h0m1-11h0m13 10h0m2-7h0m4 8h0m0 7h0m3 1h0m3 15h0m-9-1h0m-1-9h0m-1 3h0m-4 14h0m-1 0h0m-13-5h0m-3 3h0m-4-16h0m-2 2h0m0 1h0m-2-1h0m0 0h0m0 4h0m-1-5h0m-6 17h0m-5-13h0m0 5h0m-4-2h0m-1 5h0m-1-8h0m-4 16h0m-4-4h0m-1-8h0m-1-3h0m-75 12h0m-29-18h0m-19 0h0m-16 0h0m-40 10h0m12 13h0m15 20h0m10-3h0m1-16h0m88 19h0m0-5h0m25-2h0m20-13h0m18 12h0m0-3h0m4-7h0m0 18h0m9-5h0m1-12h0m1 19h0m8-8h0m5-9h0m5 12h0m12 6h0m3-21h0m1-2h0m3 3h0m-8 20h0m-31 1h0m-4-1h0m-4 4h0m-125 0h0" stroke="rgb(62,62,245)" stroke-width="3.6" stroke-linecap="round" fill="none" stroke-opacity="0.85"/><path transform="scale(.5)" d="M262 1996h0m-6 18h0m-226 3h0m129 20h0m9-6h0m7 7h0m15-8h0m19 2h0m17-1h0m2-2h0m1 6h0m4 1h0m9-5h0m22-13h0m6 31h0m-1 10h0m-5 2h0m-2-19h0m-3 11h0m-8-3h0m-8 0h0m-1-7h0m-6 20h0m0-10h0m-1 6h0m-1-6h0m-4-7h0m-1 4h0m-6 6h0m-5-8h0m-30 16h0m-3-3h0m-11-1h0m-1 4h0m-7-2h0m0-1h0m-3-15h0m-2 2h0m-3 13h0m-2-7h0m-15-2h0m-4 8h0m-14-11h0m-1-7h0m-78 44h0m10-2h0m16 4h0m16-5h0m2-2h0m0-5h0m3 0h0m2 0h0m4-7h0m1 4h0m1 3h0m2 2h0m1 3h0m4 5h0m5-11h0m1 11h0m0-4h0m1-18h0m0 24h0m0-20h0m1 12h0m2-11h0m1 14h0m1-9h0m0-4h0m2 16h0m5-9h0m1-11h0m3 9h0m2 11h0m4-13h0m7-3h0m2-2h0m4-2h0m0 3h0m3 16h0m8-1h0m7-18h0m7 2h0m3 3h0m13 13h0m9-8h0m11-11h0m2 9h0m0-9h0m0 8h0m1 0h0m15 10h0m2-4h0m1-3h0m3 9h0m1-12h0m2 10h0m0-6h0m6-8h0m1 10h0m1 3h0m1-11h0m6-2h0m1 4h0m8 6h0m1-6h0m2 6h0m3 3h0m1-12h0m2 0h0m4 33h0m-2 0h0m0-5h0m-6 6h0m-4-4h0m-7-2h0m-4 3h0m-1-4h0m-1 0h0m-1 5h0m-6 10h0m-5-11h0m-2-9h0m-5 7h0m-6-8h0m-2-1h0m-7 0h0m-1 9h0m0-10h0m-3 16h0m-1-15h0m-10 9h0m-5-4h0m-1 13h0m-6-14h0m-17 8h0m-3-2h0m-1 10h0m-5-17h0m-8 16h0m-4-12h0m0 11h0m-1-11h0m-1 5h0m-6 8h0m-2-22h0m-2 22h0m-2-6h0m-7 5h0m-1-1h0m-2-1h0m-4-14h0m-2 17h0m-5-8h0m-7 2h0m0 3h0m-1 1h0m-8-13h0m-4 5h0m-2 0h0m-1 12h0m-10-3h0m0 3h0m-1-13h0m-2 10h0m-4 1h0m-6 1h0m-2-22h0m-5 12h0m-1 6h0m0-17h0m-2 18h0m-1-9h0m-1-5h0m-1 4h0m-2-8h0m-6 6h0m0 12h0m-3-18h0m-1 16h0m-18 16h0m9 7h0m3 0h0m0 1h0m1-10h0m10-4h0m8-2h0m6 10h0m1 12h0m1-7h0m2-16h0m1 11h0m4-1h0m7-6h0m1 2h0m4-6h0m1 12h0m2 8h0m6-2h0m7-4h0m0-14h0m0 19h0m3-12h0m3 1h0m4-4h0m8 9h0m3-7h0m1 1h0m2 11h0m7-15h0m1 1h0m1 9h0m8-10h0m4 9h0m8 8h0m2-21h0m1 9h0m16 10h0m24 3h0m1-22h0m4 6h0m0 7h0m5 1h0m4-7h0m0-4h0m2 0h0m5 0h0m5 6h0m8-8h0m2 9h0m1 2h0m1-6h0m0 11h0m3-8h0m4-5h0m1 2h0m1-3h0m3 5h0m1 16h0m0-17h0m3-1h0m2 8h0m2-1h0m1-4h0m1 8h0m2-6h0m1-7h0m0 3h0m5-2h0m4 17h0m1-20h0m5 20h0m3-22h0m0 17h0m0 11h0m-10-1h0m-2 4h0m-3 15h0m-4-17h0m0 5h0m-1-5h0m-2 2h0m-10-5h0m0 16h0m-5-4h0m-2 2h0m-2-14h0m-9 14h0m-2-15h0m0 9h0m-5 10h0m-1-8h0m0-1h0m-2-11h0m0 15h0m-2-2h0m-3 10h0m-1-8h0m-1-5h0m-1 7h0m0-7h0m-1-4h0m-2 13h0m-11-17h0m-8 15h0m-3 2h0m-1 3h0m0 0h0m-3-16h0m-2 9h0m-10-6h0m-3 14h0m0-22h0m-2 9h0m-4-8h0m-2 0h0m-1 7h0m-1-5h0m-4 6h0m-1 0h0m-3-2h0m-1-5h0m-7 19h0m-4 0h0m-1-20h0m-2 11h0m0 5h0m-3-14h0m-1 10h0m-4 2h0m-16-2h0m-1-1h0m-2-10h0m-2 9h0m-1-6h0m-1 0h0m-4-6h0m-6 3h0m-6 14h0m-21 2h0m-1 5h0m-4-17h0m-8 3h0m-1-10h0m0 6h0m-2-5h0m-6 10h0m-6 0h0m-2 3h0m0 5h0m0-17h0m-11 0h0m17 29h0m1-5h0m4 12h0m4 2h0m14 5h0m1-19h0m3 3h0m4 14h0m2-19h0m14 22h0m0-20h0m7 4h0m7 17h0m10-17h0m13 14h0m6-9h0m4 6h0m0-6h0m16 6h0m1-4h0m0 2h0m70-10h0m2 0h0m12-2h0m9-1h0m9 3h0m4 1h0m1 15h0m4-15h0m8-4h0m4 1h0m4-2h0m-7 24h0m-9 16h0m-4-7h0m-2-7h0m-6 3h0m-2 15h0m-18 2h0m-3-9h0m-4 3h0m-3-3h0m-1-13h0m-104 4h0m-25-1h0m-26 11h0m-36-5h0m8 27h0m71 7h0m109-15h0m19 3h0m2-1h0m3 5h0m1 2h0m5-13h0m6 5h0m3 15h0m7-2h0m1-9h0m4 10h0m0-3h0m2-14h0m2 18h0m0-14h0m-4 19h0m-1 0h0m-13 2h0m-20-2h0" stroke="rgb(95,95,255)" stroke-width="2.4" stroke-linecap="round" fill="none" stroke-opacity="0.9"/><path transform="scale(.5)" d="M83 1983h0m36 9h0m14-1h0m21-8h0m59 5h0m21-5h0m17 2h0m2-1h0m4 6h0m5-1h0m2 2h0m7-2h0m4 19h0m-19-3h0m0-8h0m-8 2h0m-2 13h0m-1-5h0m-13 2h0m-2-14h0m-4 20h0m-11-4h0m-16-16h0m-11 20h0m-10-18h0m-20 13h0m-33-16h0m-7 3h0m-27 18h0m-3-6h0m-47-10h0m-5 3h0m-1 35h0m24-4h0m3-3h0m0 4h0m23 3h0m1-3h0m0 0h0m7-6h0m10 1h0m22-5h0m10-3h0m2 14h0m2-7h0m5 2h0m6-6h0m30 12h0m3-20h0m8 21h0m26-7h0m1-4h0m4 2h0m3-7h0m33 14h0m1-9h0m4 2h0m-4 31h0m-3 4h0m-9-1h0m-7-10h0m-3-6h0m-13 12h0m-25-3h0m-15-2h0m-20 10h0m-8-7h0m0 3h0m-13-12h0m-24-4h0m-22 4h0m-10 9h0m-9-10h0m-12 4h0m-25 13h0m-4-22h0m-8 13h0m1 19h0m14 12h0m1-10h0m15 8h0m5-11h0m36 5h0m2-6h0m9 7h0m1-12h0m12 8h0m19 3h0m3 4h0m3-15h0m26 16h0m15-17h0m3 4h0m10 3h0m10 5h0m3-8h0m12-4h0m5 0h0m25 13h0m14 25h0m-8 5h0m-2 1h0m-3 1h0m-23-21h0m-17 0h0m-6 12h0m-12 1h0m-2-1h0m-2-6h0m-16 14h0m-46 0h0m-5-1h0m-24-11h0m-34-5h0m-4 9h0m-1 3h0m0-3h0m-2 3h0m-9-1h0m-10-12h0m-12 5h0m0-6h0m-3 1h0m-3 34h0m2 8h0m12-13h0m12-2h0m4 5h0m11 12h0m7-22h0m4 4h0m0-5h0m5 11h0m5 8h0m14-2h0m8-11h0m10 16h0m17-17h0m30 13h0m40-3h0m18 2h0m4-7h0m16-6h0m5 13h0m2 3h0m16 8h0m-5 6h0m-3-10h0m-28 13h0m-17-8h0m-28 14h0m-3-15h0m-28 15h0m-6-4h0m-4-13h0m-1 14h0m0-12h0m-1 5h0m-7-5h0m-7 3h0m-5 3h0m-2 6h0m-31-13h0m-3 20h0m-11-23h0m-9 21h0m-16-6h0m-2-5h0m0 11h0m-11-14h0m-18-5h0m-3 24h0m21 16h0m1-2h0m17-13h0m12 7h0m25-7h0m7 2h0m4 5h0m7-4h0m5-2h0m13-3h0m16 11h0m37-8h0m18 10h0m9 3h0m21 3h0m5-13h0m2-4h0m5 4h0m23 10h0m1 2h0m3 13h0m-21-7h0m-4 4h0m-4 5h0m-6 8h0m-24-14h0m-23 19h0m-8-6h0m-2-4h0m-6 4h0m-15-13h0m-2 18h0m-11-9h0m0 0h0m-7 0h0m-5 3h0m-11-10h0m-3-2h0m-26 11h0m-2-11h0m-1 1h0m-15 9h0m-15 5h0m-29-3h0m-7-15h0m-5 29h0m9 16h0m4-9h0m31-13h0m1 16h0m6-12h0m7 6h0m25 8h0m12-8h0m2 6h0m5-3h0m1-5h0m15-7h0m12 4h0m2 18h0m9-1h0m8-14h0m20 5h0m17-1h0m3 8h0m5-5h0m5-6h0m2 5h0m10-13h0m14 9h0m21 2h0m1 10h0m0 1h0m8-18h0m-9 19h0m-70 3h0m-24 0h0m-58 2h0" stroke="rgb(35,35,160)" stroke-width="3.2" stroke-linecap="round" fill="none" stroke-opacity="0.7"/><ellipse cx="96.7" cy="1055.4" rx="21.1" ry="8.7" fill="#000" fill-opacity="1.0" transform="rotate(-5 96.7 1055.4)" filter="url(#b0_8)"/><ellipse cx="36.1" cy="1072.0" rx="13.4" ry="14.3" fill="#000" fill-opacity="1.0" transform="rotate(15 36.1 1072.0)" filter="url(#b0_8)"/><ellipse cx="62.0" cy="1051.1" rx="3.2" ry="2.3" fill="none" stroke="rgb(80,80,255)" stroke-width="1.1"/></g>
</g>
<text x="137.20" y="1110.80" font-size="7.4" text-anchor="end" font-weight="normal" fill="#fff" stroke="#fff" stroke-width="0.25">50µm</text>
<line x1="121.00" y1="1114.20" x2="135.00" y2="1114.20" stroke="#fff" stroke-width="1.8"/>
<g clip-path="url(#c40)"><rect x="146.8" y="991.2" width="127.6" height="127.4" fill="#040a04"/>
<g filter="url(#b0_3)"><g filter="url(#s13)"><rect x="146.8" y="991.2" width="127.6" height="127.4" fill="#000"/></g><g filter="url(#s14)"><ellipse cx="217.0" cy="1061.3" rx="63.8" ry="31.9" fill="#000"/></g><path transform="scale(.5)" d="M344 1986l-1-2 -1-2 -1-2m25 5l-1-2 0-2 -1-3m2 9l-1-2 -1-2 -1-3m183 26l2-2 2-2 3-1m-31 15l2-2 2-1 3-1m-22 2l1-2 1-2 1-2m-4-14l1-2 1-3 0-3m-4 16l2-2 2-2 2-1m-23 19l1-2 1-2 1-2m-24-16l0-3 0-3 0-3m-10 16l1-2 0-2 0-3m-15 0l0-3 1-3 0-2m-10 7l1-2 1-2 1-2m-18 6l1-3 0-3 0-2m-51 26l-1-2 -1-1 -1-2m-9-1l-2-1 -2-1 -1-2m-7 7l-2-1 -1-1 -2-2m-3 7l-2-2 -1-2 -2-2m-5-8l-2-2 -1-1 -1-2m1 2l-1-2 -1-3 -1-2m8 47l-2-1 -2-1 -2-1m10-6l-1-2 -2-2 -1-2m25 3l-1-2 -1-2 -1-2m9 18l-2-2 -2-2 -1-1m5 0l-1-2 -1-1 -1-2m75 0l1-3 0-2 1-2m5 6l1-2 1-2 2-2m37 7l0-2 1-2 1-2m25 17l1-2 1-1 1-1m29 6l2-1 2-1 2-1m-35 12l2-2 2-2 1-2m-15 21l1-2 1-1 1-2m-7-2l2-2 2-2 2-2m-30 2l1-2 1-2 1-2m-17 1l1-3 1-2 1-2m-6 12l1-1 2-2 1-1m-24-2l1-3 1-3 0-3m-13 19l0-2 -1-3 -1-2m0-5l1-3 1-3 0-2m-51 12l-1-2 -1-1 -1-1m-3 3l-1-1 -2-2 -2-1m3 19l-1-2 -1-2 -1-2m-25 4l-1-1 -2-1 -2-2m-7 2l-2 0 -2 0 -2 0m4 1l-2-2 -1-2 -2-2m71 22l-1-1 -2-2 -2-2m11 6l-1-2 -1-2 -1-2m20 9l-1-2 -1-2 -1-2m5 10l-1-3 0-3 0-2m50 1l2-1 2-1 2-2m16-3l1-2 1-2 0-2m4 27l1-1 1-2 2-1m-3 2l2-1 1-1 2-2m3-14l2-1 2-1 2-1m8 9l2-1 2-1 2-1m-4 17l2-1 2-1 2-1m20-21l2 0 2-1 2-1m-3 32l2-1 2-2 1-1m-20 5l2 0 2 0 2-1m-10 15l3-1 3-1 2 0m-36-3l2-1 1-1 2-2m-19 8l2-1 2 0 2-1m-90 0l-2-2 -1-3 -1-2m-11-5l-3-1 -2-1 -2-1m-70 10l-3 0 -3 0 -3 0m76 34l-3 0 -2 0 -2 0m114-6l2 0 2 0 3 0m1-4l3 1 2 1 3 0m-1-4l2-1 2 0 2 0m-4-4l2 0 3-1 3 0m6 14l2 1 3 1 3 1m18-16l2-1 2-2 2-1m-11 43l2 1 1 1 2 1m-7-6l2 0 3 0 2 0m-14 1l2 1 2 1 3 1m-16-16l2 0 2 0 2-1m-17 16l1 2 2 2 2 2m-6-14l2 2 1 1 1 1m-36-11l2 0 2 0 3 0m-21 1l2 1 3 1 2 1m-13-1l2 1 1 1 2 1m-108-7l-3 0 -3 0 -3 0m-12 3l-2 0 -3-1 -2-1m1 8l-2 0 -2 0 -3 0m106 14l0 2 0 2 0 2m48-10l2 2 2 1 2 2m0 8l2 2 2 2 1 2m5-1l1 2 1 2 2 2m4-17l1 1 2 2 2 1m15 6l1 2 1 2 1 3m20-10l1 1 1 2 1 2m-24 21l2 2 2 2 2 2m-24-8l1 1 2 1 1 1m-48-15l1 2 0 2 0 3m-46 1l-1 2 -1 2 -2 2m-39 0l-1 1 -2 1 -1 1m-2-6l-1 2 -1 2 -1 3m-2-1l-2 1 -2 1 -3 1m-8-8l-2 2 -2 2 -2 2m-32-4l-2 1 -1 1 -2 2m7 24l-1 2 -1 2 -1 3m23-19l-1 2 -1 2 -1 2m4 6l-1 2 -1 2 -2 2m19-11l-2 1 -2 1 -2 1m26 2l-1 2 -1 2 -1 2m7-15l-1 2 -1 1 -2 1m97 2l0 3 0 2 0 2m23-17l2 1 2 1 2 1m17 6l1 2 1 2 1 1m28-16l2 1 2 1 1 1" stroke="rgb(55,185,45)" stroke-width="1.9" stroke-linecap="round" stroke-linejoin="round" fill="none" stroke-opacity="0.8"/><path transform="scale(.5)" d="M350 1985h0m28 6h0m12 1h0m5-6h0m24 0h0m3 6h0m14-7h0m2 0h0m5-2h0m4 8h0m74 8h0m-4 13h0m-5 1h0m-13 1h0m-2-7h0m-16-12h0m0 0h0m-13 11h0m0-14h0m-2 21h0m-17-5h0m-11-8h0m-2 15h0m-7-4h0m-7 1h0m0-16h0m-6 1h0m-2 4h0m-10 14h0m-10-13h0m-1 2h0m-5 4h0m-3-5h0m-4 12h0m-15-19h0m-4 16h0m-8-15h0m-3 12h0m-2-6h0m-10 10h0m-6 1h0m-10-15h0m-1-2h0m-20 23h0m4 7h0m0 2h0m12 5h0m13-18h0m4 5h0m15 13h0m8-2h0m8 8h0m28 0h0m1-24h0m5 3h0m33 3h0m10-3h0m22 11h0m0 9h0m2-22h0m1 3h0m2 10h0m2-4h0m0-4h0m26 17h0m7-7h0m9-4h0m17 1h0m4-9h0m2 8h0m8 13h0m-9 17h0m-4-13h0m-6 11h0m-16-15h0m-4 20h0m-2-1h0m-45 3h0m-12-1h0m-5-2h0m-8 0h0m-5-14h0m-6-5h0m-17 10h0m-18-8h0m-9 12h0m-18-4h0m-7-7h0m-4 18h0m-8-18h0m-4 8h0m-4 6h0m-21-14h0m2 36h0m1-6h0m22-8h0m7 22h0m4-18h0m2-6h0m19 4h0m19 12h0m2 2h0m2-5h0m27-6h0m1 10h0m0-8h0m22 0h0m16 1h0m2-2h0m14 5h0m10-5h0m9-2h0m14-2h0m19 6h0m5 8h0m2 1h0m2-18h0m3 13h0m7 13h0m-5 12h0m-18-7h0m-5 14h0m-30-22h0m-94 21h0m-25-12h0m-46 18h0m46 13h0m40-15h0m8 8h0m19 5h0m40 3h0m7-6h0m11 3h0m0-8h0m10 8h0m0-4h0m5 2h0m16-3h0m15 32h0m-18 1h0m-4-12h0m-2-1h0m-5 5h0m-8 5h0m-3 9h0m-4-11h0m-6-7h0m-3 2h0m-20 4h0m-40-6h0m-32 10h0m-49-8h0m-1 10h0m-8-18h0m-39 41h0m0-5h0m10 3h0m12 6h0m29-12h0m36 5h0m18-7h0m1-4h0m31 16h0m9-8h0m18-3h0m16 0h0m2 15h0m7-5h0m21 4h0m5-19h0m4 19h0m11-20h0m10 12h0m6-4h0m4 2h0m-6 16h0m-5 15h0m-6-1h0m-2-14h0m-6 14h0m-76-4h0m-4 1h0m-19 0h0m-12-5h0m-6 6h0m-50 5h0m-1-2h0m-5-5h0m-2-1h0m-4-7h0m-16-2h0m-17 10h0m-17 25h0m13-13h0m0 0h0m2 0h0m1 10h0m4 8h0m1-13h0m0-3h0m15 17h0m4-18h0m5 4h0m16 10h0m11 5h0m2-6h0m5 7h0m79-3h0m2-14h0m2-2h0m12 5h0m1 11h0m33-2h0m11-2h0m5 6h0m11-22h0m12 14h0m1 3h0m0-7h0m-52 14h0" stroke="rgb(70,210,55)" stroke-width="2.3" stroke-linecap="round" fill="none" stroke-opacity="0.8"/><ellipse cx="232.5" cy="1055.4" rx="21.1" ry="8.7" fill="#000" fill-opacity="1.0" transform="rotate(-5 232.5 1055.4)" filter="url(#b0_8)"/><ellipse cx="171.9" cy="1072.0" rx="13.4" ry="14.3" fill="#000" fill-opacity="1.0" transform="rotate(15 171.9 1072.0)" filter="url(#b0_8)"/><circle cx="218.3" cy="1073.4" r="2.6" fill="none" stroke="rgb(40,140,40)" stroke-width="0.9"/></g>
</g>
<text x="273.00" y="1110.80" font-size="7.4" text-anchor="end" font-weight="normal" fill="#fff" stroke="#fff" stroke-width="0.25">50µm</text>
<line x1="256.80" y1="1114.20" x2="270.80" y2="1114.20" stroke="#fff" stroke-width="1.8"/>
<g clip-path="url(#c42)"><rect x="282.3" y="991.2" width="127.6" height="127.4" fill="#060000"/>
<g filter="url(#b0_3)"><g filter="url(#s15)"><rect x="282.3" y="991.2" width="127.6" height="127.4" fill="#000"/></g><path transform="scale(.5)" d="M673 1987l-1-2 -1-1 -2-2m50 5l0-2 0-2 0-3m37 5l1-2 0-2 1-3m25 18l2-1 2-1 2-1m-93 12l1-3 1-2 0-2m-30 3l0-3 0-3 -1-3m-26 16l-1-2 -1-3 0-3m-21 15l-1-2 -1-1 -1-1m0-7l-1-2 -1-2 -1-2m-26 26l-1-1 -2-2 -2-2m60 10l-1-2 -1-2 -1-1m19 13l-2-2 -1-2 -1-2m7-8l-1-3 -1-2 -1-2m13 7l-1-2 -1-2 -1-2m35 1l-1-3 -1-2 0-2m42 22l2-2 2-2 2-2m6 7l2-2 1-1 3-1m-3-4l2-2 2-2 2-2m53 1l2-1 2-1 2-2m-41 39l2-1 3-1 2-1m-18-5l1-2 2-2 1-2m-23-1l1-1 2-2 2-2m-29 5l2-2 2-2 1-2m-10 12l1-3 1-2 2-2m-13 21l2-2 2-2 1-2m-58 8l-1-2 -1-2 -1-2m-23 1l-1-2 -1-2 -1-2m-39-7l-2-1 -2-1 -2-2m79 42l-1-2 -1-2 -1-3m19 3l0-2 0-2 0-2m5 7l0-3 0-2 -1-2m38 2l1-3 0-2 1-2m4 11l1-1 2-2 1-1m3 12l3-1 2 0 2 0m2 2l2-2 2-1 2-1m51 3l2 0 2 0 2-1m-1-5l2-1 2 0 3 0m-4-6l3-1 2-1 2-1m-1-1l2-1 2-1 2-2m-6 28l2-1 2-1 2-2m-7 4l3 0 2 0 2 0m-29 10l3-1 2-1 1-1m-17-12l1-1 1-2 1-2m-4 12l2-1 2-1 2-1m-71 2l1-2 1-2 1-2m-16 12l1-2 1-2 0-3m-24 12l-1-2 -1-3 0-2m-32 0l-2 0 -3-1 -2-1m-11-3l-2-1 -2-1 -3-1m-14 9l-2 0 -2 1 -2 0m-27 5l-2 0 -2 0 -3-1m78 26l-3 1 -3 0 -2 1m29 0l-2 1 -2 1 -2 1m30-19l-1-2 -2-2 -1-1m62 18l3 0 2 0 2 0m10-4l2 0 2 0 2 0m0 5l2 0 3 0 2 0m32 25l2 2 1 1 2 1m-13-15l2 1 2 1 3 1m-23-8l3 1 2 1 3 1m-20-6l2 1 1 1 2 1m-9-4l2 1 2 1 2 1m-11 4l3 0 2-1 3-1m-13-1l3 1 3 1 2 1m-9 10l1 1 2 2 2 1m-46 2l2 2 2 1 3 1m-67-27l-2 1 -2 1 -1 1m-8 8l-2 1 -2 1 -2 0m-29 2l-2 0 -2 0 -2 0m13 11l-2 1 -2 1 -1 1m8 11l-1 2 -2 2 -2 2m31 2l-1 2 -1 2 -1 2m40-27l0 2 -1 3 0 2m5 4l0 3 1 3 0 3m38-1l1 3 1 2 1 1m16-27l3 1 2 1 2 1m-5 4l2 1 2 2 1 2m12-4l2 0 2 0 2 1m0-10l1 1 1 2 2 2m13 8l3 1 2 1 2 0m11 8l2 1 2 0 2 0m3-10l2 2 1 1 2 2m-4 0l1 2 1 1 2 2m-29 18l2 1 1 1 1 1m-64-2l1 2 0 2 1 3m-16-7l1 3 1 2 1 2m-6-20l0 3 0 2 1 2m-4 3l0 2 0 2 -1 3m-2-15l1 2 1 3 1 2m-65-4l-2 2 -2 2 -2 2m-12-16l-3 1 -1 1 -1 1m-18 5l-2 1 -2 2 -1 1m3 9l-2 1 -3 1 -3 1m-22-22l-3 1 -3 0 -2 0m5 35l-2 2 -1 1 -2 1m41-15l-1 1 -2 2 -2 2m6 1l-1 2 -1 3 0 2m38-15l-1 2 -1 2 -1 2m21 13l-1 2 -1 1 -1 2m46-13l0 2 0 2 0 2m4-18l1 2 0 2 0 2m32 15l1 2 1 2 1 2m27-4l1 2 1 2 1 2m29-8l1 1 1 1 2 1m-3-22l2 2 2 1 2 2m-38 18l2 2 1 1 3 1m-15-2l2 1 3 1 2 1m-13-3l1 2 1 2 1 2m-24-7l1 2 1 2 1 3m-173-8l-2 2 -2 2 -2 2" stroke="rgb(215,35,20)" stroke-width="2.1" stroke-linecap="round" stroke-linejoin="round" fill="none" stroke-opacity="0.8"/><path transform="scale(.5)" d="M592 1985h0m25 2h0m18-5h0m18 1h0m69 8h0m37-8h0m3 3h0m5 0h0m42-3h0m6 19h0m-6 13h0m-1 0h0m-2-2h0m-2-11h0m-1 8h0m-1 2h0m-38-9h0m-1 0h0m-4-10h0m-6 2h0m-30 5h0m-5 14h0m-2-22h0m-8 23h0m-12-6h0m-3-16h0m-10 1h0m-3 2h0m-1 8h0m-16-3h0m-15 2h0m-6-6h0m-10 6h0m0-10h0m-2 22h0m-10-16h0m-2 2h0m-3 7h0m-9-4h0m-7-5h0m-7 2h0m-11 6h0m-15 23h0m6-14h0m8 3h0m6 16h0m2-17h0m17 15h0m3 3h0m7-6h0m1-6h0m1-1h0m6 4h0m1 5h0m15 1h0m2-16h0m0 9h0m8 10h0m18 2h0m2 2h0m3-4h0m6-14h0m1-1h0m10 16h0m27-9h0m1 8h0m1-5h0m5 5h0m5-9h0m7-1h0m10 2h0m6 0h0m2-1h0m27 1h0m0 6h0m11-3h0m4-4h0m3-6h0m9-1h0m3 15h0m2 5h0m7 3h0m0 16h0m-3-10h0m-3-3h0m-3-6h0m-4 4h0m-1 9h0m-13-9h0m-4-1h0m-7 14h0m-2-12h0m-6 18h0m-2-15h0m-1 6h0m-4-8h0m-9 4h0m-29-2h0m-2 4h0m-3-8h0m-2 17h0m-4-9h0m-14 11h0m-1-10h0m-1 3h0m-22-2h0m0-2h0m-2-4h0m-4-5h0m-22 0h0m-1-2h0m-6 6h0m-2 4h0m-13 3h0m-19-1h0m0 6h0m-2-6h0m-1 5h0m-15 4h0m-13-20h0m-12 2h0m13 41h0m13 1h0m0-15h0m40 13h0m12-19h0m2 1h0m11 4h0m0 8h0m0 0h0m3-8h0m13-5h0m6 0h0m6 4h0m7 8h0m10 5h0m0-2h0m4-9h0m1-1h0m4 10h0m13-16h0m20 21h0m4-12h0m10 6h0m12 2h0m2 3h0m1-9h0m1-6h0m2 0h0m1-1h0m1 1h0m18 0h0m9 10h0m2 7h0m2 1h0m0-18h0m3-1h0m5 10h0m1 14h0m-1 17h0m-2-1h0m-6-9h0m-8 0h0m-7-3h0m-24 9h0m-1 0h0m-12 4h0m-6-5h0m-9-5h0m-8 2h0m-5-13h0m-23 1h0m-21 15h0m-2-3h0m-9 6h0m-3-2h0m-24 3h0m-18-2h0m-27-3h0m-13 7h0m0-19h0m-4 14h0m0-7h0m-13 17h0m12 10h0m21-13h0m11 2h0m23 2h0m3 4h0m12 14h0m1-11h0m12 3h0m6 1h0m7-12h0m52 19h0m10-20h0m17 19h0m3-19h0m3 17h0m1-12h0m8 3h0m2 1h0m5 12h0m17-2h0m6-15h0m7 40h0m-11-4h0m-1-7h0m-11 4h0m-4 9h0m-2-12h0m-1-6h0m-6-3h0m-2 9h0m0-5h0m-9-3h0m0 4h0m-6-7h0m-6 18h0m-2-12h0m-1 10h0m-3 3h0m-10-3h0m-8-6h0m-5-6h0m-5 12h0m0 5h0m-45-9h0m-15-12h0m-3 5h0m-10 7h0m-29-9h0m-24 19h0m-4-17h0m-2 6h0m-4-6h0m-13 5h0m12 25h0m4 6h0m32-3h0m9-7h0m25-3h0m16 5h0m11 1h0m9 5h0m15-15h0m1 12h0m4-6h0m1 3h0m0 11h0m3-21h0m6 14h0m0-6h0m13 1h0m3-5h0m1 5h0m4-4h0m12-4h0m3 13h0m13-10h0m1 14h0m1-16h0m3 1h0m8 7h0m5-5h0m4 9h0m1 3h0m18 5h0m3 10h0m-3 14h0m-13-10h0m-4-2h0m-11-2h0m-2 16h0m-6-17h0m-14 13h0m-10-20h0m-12 22h0m-7-6h0m-3-14h0m-12 19h0m-26-5h0m-47-4h0m-2-6h0m-3-1h0m-19 17h0m0-1h0m-1-14h0m-5 13h0m-2-3h0m-4 7h0m-24-5h0m-11 1h0m0 14h0m3-1h0m2 6h0m1-2h0m11-11h0m2 17h0m22-8h0m13-2h0m12 1h0m1 9h0m4-11h0m72 4h0m9 3h0m4-13h0m22 17h0m0 0h0m3 3h0m7-16h0m13 13h0m10-13h0m15 7h0m9 9h0m13 0h0m-23 5h0m-159 1h0m-34-1h0m-25 2h0" stroke="rgb(235,45,30)" stroke-width="2.7" stroke-linecap="round" fill="none" stroke-opacity="0.85"/><ellipse cx="368.0" cy="1055.4" rx="21.1" ry="8.7" fill="#000" fill-opacity="1.0" transform="rotate(-5 368.0 1055.4)" filter="url(#b0_8)"/><ellipse cx="307.4" cy="1072.0" rx="13.4" ry="14.3" fill="#000" fill-opacity="1.0" transform="rotate(15 307.4 1072.0)" filter="url(#b0_8)"/></g>
</g>
<text x="408.50" y="1110.80" font-size="7.4" text-anchor="end" font-weight="normal" fill="#fff" stroke="#fff" stroke-width="0.25">50µm</text>
<line x1="392.30" y1="1114.20" x2="406.30" y2="1114.20" stroke="#fff" stroke-width="1.8"/>
<g clip-path="url(#c43)"><rect x="417.1" y="991.2" width="127.6" height="127.4" fill="#080604"/>
<g filter="url(#b0_3)"><ellipse cx="493.7" cy="1054.9" rx="63.8" ry="31.9" fill="rgb(30,30,160)" fill-opacity="0.5" filter="url(#b8)"/><path transform="scale(.5)" d="M918 1986h0m13 4h0m139 1h0m-6 24h0m-8-4h0m0 4h0m-90-12h0m-19-8h0m-38 15h0m20 28h0m41-8h0m3 4h0m9 1h0m9-2h0m1 4h0m7-3h0m5-5h0m17-6h0m12 11h0m2 3h0m2-4h0m1-4h0m2 2h0m2-1h0m0 0h0m2-2h0m0 9h0m1-11h0m1 0h0m0 13h0m1-5h0m1-11h0m2 0h0m2 3h0m0 7h0m1-6h0m1-4h0m0 15h0m0-17h0m10 10h0m1-1h0m2 5h0m4-17h0m4 21h0m2-18h0m1 9h0m3 8h0m0-10h0m7 12h0m0 4h0m-6 14h0m0 3h0m0-10h0m-2 6h0m-1-8h0m0 14h0m-3-9h0m-8-12h0m0 4h0m0 12h0m-2-9h0m0 7h0m-1-3h0m0 8h0m-1-2h0m-2-17h0m0 1h0m-4 19h0m-1-17h0m-1 7h0m0-2h0m0 11h0m0-6h0m-3-3h0m-1 0h0m-4 10h0m-1-16h0m0 11h0m-1-1h0m0-12h0m-1-3h0m0 12h0m0-13h0m-2 5h0m0 18h0m0-8h0m-2 4h0m-1-10h0m0 2h0m0 8h0m-2-1h0m-1-6h0m-2 12h0m-1-11h0m-1-5h0m-1 15h0m-4-21h0m-3 4h0m-5 16h0m-7 1h0m-1 1h0m-4-23h0m-2 16h0m-5 0h0m-3 5h0m-3 2h0m-2-12h0m-5-9h0m0 16h0m-14-6h0m-5 7h0m-2-5h0m-5 8h0m0-1h0m0-1h0m-2 0h0m-2-2h0m-4 1h0m0-9h0m-5 8h0m-4-19h0m0 23h0m-9-16h0m-7 7h0m-3-1h0m-70-3h0m-14-6h0m-3 23h0m27 18h0m2-1h0m0 2h0m9-8h0m4-12h0m1 21h0m1-2h0m1 1h0m4-2h0m4 3h0m1-13h0m1-5h0m1 8h0m1 0h0m1 5h0m1-8h0m5 12h0m3-17h0m4 3h0m0 12h0m1-3h0m3-15h0m1 20h0m3-18h0m0 20h0m6-23h0m3 13h0m7-8h0m0 8h0m3-10h0m1-1h0m1 1h0m3 13h0m1-8h0m2-7h0m4 15h0m0-16h0m0 8h0m1 8h0m2-14h0m1 5h0m1 3h0m0-4h0m4 12h0m1-9h0m2 6h0m0-16h0m2 11h0m0-6h0m2 2h0m0 3h0m1 2h0m1-5h0m0-1h0m2 11h0m0 3h0m0 3h0m1-21h0m3 0h0m5 17h0m1-10h0m2-6h0m2 15h0m1 3h0m1 0h0m0-6h0m2-4h0m1 6h0m0-14h0m3 4h0m1-1h0m2-2h0m1 18h0m1-19h0m0 5h0m2 16h0m0-3h0m3 0h0m5-20h0m1 14h0m1 4h0m1-16h0m6 6h0m1 5h0m1-8h0m1 17h0m0-10h0m1 9h0m0-10h0m1 6h0m1-7h0m2 7h0m1-1h0m0-1h0m1 3h0m0-8h0m0-3h0m1-7h0m1 13h0m2 9h0m0-6h0m1-14h0m1 14h0m0-17h0m0 3h0m1 9h0m0-3h0m1 5h0m0 2h0m0-5h0m5 3h0m0-7h0m2-1h0m2 17h0m0 0h0m1 1h0m0-8h0m1-9h0m0 2h0m0-1h0m1 8h0m1 3h0m1-14h0m2 2h0m0 11h0m2-15h0m1 8h0m2-5h0m2-6h0m0 5h0m1-4h0m0 4h0m1 17h0m0-11h0m0 2h0m0-12h0m1 2h0m0 17h0m0-19h0m1 12h0m2-7h0m2 1h0m0 10h0m1-8h0m1 14h0m0 0h0m0 0h0m2-5h0m0-7h0m1 4h0m3 6h0m1-9h0m1 3h0m1 2h0m1-1h0m1-6h0m1-9h0m1 4h0m1 14h0m2-1h0m3-17h0m2 16h0m2 30h0m-1-3h0m0-12h0m0 9h0m-2 0h0m0-8h0m-1-6h0m-2 5h0m0 1h0m-1 14h0m0-2h0m0-1h0m-4-20h0m0 12h0m-1-9h0m-3 21h0m0-20h0m0 9h0m-1 3h0m-1-2h0m0-5h0m-3-2h0m0 3h0m-1 3h0m0-4h0m-1-4h0m-1 18h0m-1-8h0m0 2h0m-1 2h0m0-3h0m0-12h0m-3 15h0m-4-18h0m-3 0h0m-1 6h0m-1 4h0m-1-11h0m0 9h0m-1 14h0m-1 1h0m0-8h0m-1-12h0m-1 15h0m0-17h0m0 15h0m-2-5h0m-1-1h0m-1 0h0m-1-3h0m0 15h0m0-1h0m-2-13h0m-3 4h0m0 10h0m-1-7h0m-3-12h0m-1 6h0m-1 13h0m-1-22h0m0 12h0m-1-3h0m0-5h0m-1 11h0m-1-4h0m-1 11h0m-2-10h0m-1 5h0m0-3h0m0-6h0m-2 13h0m0-18h0m-4 8h0m0-5h0m-2 10h0m0 3h0m0-8h0m-11 6h0m0-9h0m0 9h0m-1-13h0m-1 8h0m0-10h0m-1 19h0m0-12h0m-1 5h0m-1-2h0m0 4h0m-2-9h0m-4-1h0m0 13h0m-3-5h0m0-7h0m-2 3h0m-2-2h0m-1 8h0m-1 2h0m-1 4h0m0-11h0m-1 4h0m-4-6h0m0-10h0m-1 8h0m-2 14h0m0-20h0m-1 19h0m0-16h0m0 11h0m-2-14h0m-1 9h0m0 2h0m-1 5h0m-1-17h0m-3 22h0m-1-21h0m-3 18h0m-1-13h0m-2 12h0m-1-2h0m-2-4h0m0 9h0m-3 1h0m0-18h0m-1 7h0m-1-3h0m-1 10h0m0-1h0m-1-6h0m-2-2h0m0 11h0m-2-16h0m-1 19h0m-2-8h0m0-9h0m-1 5h0m-6-4h0m0 6h0m0-5h0m-3 6h0m0-15h0m0 19h0m-2 3h0m-2-1h0m0-6h0m0-3h0m-1-1h0m0-4h0m-3 4h0m0 0h0m-1-1h0m0-8h0m-1 14h0m0 0h0m-1-7h0m0-4h0m-1-2h0m0 12h0m-3-13h0m-3 16h0m0-16h0m-2 16h0m-1-15h0m0-1h0m-1 19h0m0 1h0m-1-18h0m-1 15h0m0 5h0m-3-20h0m-2 1h0m0 18h0m0-16h0m-1 1h0m0 0h0m-2-5h0m0 5h0m-2-3h0m-1 5h0m0-10h0m-1 2h0m-1 4h0m-1-4h0m-3 13h0m-1 2h0m0-10h0m-1 1h0m0-5h0m-1 21h0m-4-17h0m-1 5h0m0-4h0m-1 6h0m0-13h0m-7 9h0m-1 3h0m-2-3h0m-1-10h0m-5 23h0m-1-23h0m-1 3h0m-1 17h0m-1-8h0m0 7h0m0-10h0m-3 12h0m-1-9h0m0 1h0m-12 1h0m-2 8h0m-1-3h0m0 0h0m-8 1h0m4 10h0m2 14h0m3-8h0m0-5h0m1 7h0m2 4h0m1-2h0m0 2h0m0 5h0m3-6h0m0-15h0m1 10h0m5-5h0m0 4h0m1 1h0m0-5h0m0-4h0m1 14h0m1-9h0m2-6h0m3 0h0m0 8h0m0 14h0m1-8h0m0 8h0m1-16h0m0 12h0m0-5h0m2 6h0m5-7h0m0 5h0m0-18h0m2 6h0m1 16h0m2-17h0m0-3h0m1 9h0m5 6h0m1-6h0m1 4h0m1-9h0m3-2h0m4 4h0m2 5h0m0-11h0m1 4h0m0 16h0m0-16h0m1 1h0m1 8h0m1 2h0m0-15h0m2 14h0m0 0h0m1 3h0m3-17h0m1-2h0m2 9h0m1-7h0m2 7h0m3-5h0m2 14h0m1-9h0m2 3h0m0 0h0m2-6h0m0 9h0m1-16h0m0 3h0m0 17h0m0-13h0m2 13h0m2-15h0m5-4h0m0 22h0m1-12h0m0-7h0m2 16h0m3-8h0m1 12h0m0-4h0m3-14h0m0 13h0m4-2h0m0-4h0m1-12h0m0 6h0m1 11h0m1-4h0m1 10h0m0-15h0m1 7h0m2 0h0m0-7h0m0-7h0m3 2h0m1 12h0m1 6h0m3-4h0m0-6h0m5-5h0m1 8h0m1-8h0m1 1h0m2 12h0m1-8h0m1-3h0m2-2h0m1 9h0m1 1h0m1-17h0m0 0h0m2 5h0m2 7h0m1-8h0m1 2h0m1-3h0m2 18h0m0-17h0m4 12h0m1-16h0m0 19h0m0-3h0m2 8h0m1-20h0m1 4h0m4 13h0m2 2h0m0-1h0m2-12h0m3 7h0m3-4h0m1 4h0m3 2h0m3-10h0m0 12h0m1-11h0m0 11h0m2-15h0m2-2h0m0 3h0m1-3h0m1 15h0m0-11h0m1 11h0m0-19h0m0 3h0m0 20h0m1-15h0m0 4h0m1 2h0m0-13h0m1 15h0m1-8h0m0 9h0m1-9h0m0-3h0m1 0h0m1 14h0m0-19h0m1 19h0m0-15h0m3 19h0m1-22h0m1 19h0m1 1h0m0-20h0m1 22h0m0-16h0m0-4h0m2 12h0m0-12h0m1 16h0m0-14h0m3-1h0m0 9h0m0-6h0m2 5h0m1 3h0m1 5h0m1-1h0m0-6h0m1 2h0m1-2h0m1-5h0m2 5h0m1 8h0m1-10h0m0-1h0m1-3h0m0-1h0m1 2h0m3-5h0m0 5h0m2 3h0m2-6h0m1 3h0m1 13h0m0-14h0m0 13h0m1-11h0m0-2h0m0 15h0m1-12h0m1 11h0m0 2h0m0-16h0m1 7h0m1-2h0m1-3h0m0 13h0m2-8h0m0 3h0m0-6h0m1 10h0m0-8h0m2-12h0m1 6h0m0 9h0m0-3h0m1-9h0m2-1h0m1 8h0m1-9h0m0-1h0m0 7h0m2 5h0m-1 24h0m-2-6h0m-1 14h0m0-18h0m-4 1h0m-4 9h0m-2-1h0m-6-5h0m-6 8h0m0-10h0m0 0h0m-1-1h0m-3 10h0m-1-6h0m-2-4h0m-3 16h0m-2-11h0m-1 1h0m-1-5h0m-2 12h0m-1-5h0m-1 1h0m-1-8h0m0 5h0m-3 1h0m-1 2h0m-1 4h0m0 0h0m-1-13h0m-1 2h0m0-6h0m0 16h0m-3-9h0m-1 9h0m-1-15h0m-1 10h0m-2-10h0m-2 5h0m0 17h0m-3-6h0m-5 2h0m-1 2h0m-1-18h0m-1 6h0m0 9h0m-1-8h0m-2 8h0m-5-6h0m-3 4h0m-2 5h0m-3-21h0m-1 22h0m-2-8h0m-1-1h0m-2-5h0m-3 1h0m-2 5h0m-2-8h0m-2 15h0m-2-5h0m-1 1h0m0-5h0m-1 5h0m-1-5h0m-5-4h0m0 1h0m0 2h0m-1 11h0m-1-19h0m-3 20h0m0-20h0m0 4h0m0 3h0m-1 4h0m0 3h0m-1-7h0m-1-1h0m0-7h0m-1 16h0m-1 4h0m-1-14h0m0 2h0m-1 13h0m0-14h0m-1-7h0m-1 3h0m-1-3h0m-1 20h0m0-3h0m0-10h0m0-7h0m-1 17h0m0-6h0m0-12h0m0 11h0m-1 7h0m-1-2h0m0-17h0m-1 24h0m-1-17h0m-2 6h0m0 2h0m-1-6h0m-2-9h0m-2 4h0m-1-1h0m-1 14h0m0-5h0m0 9h0m-1-1h0m-2 2h0m-2 2h0m-2-22h0m-2 18h0m-1-2h0m0-10h0m-1-5h0m-2 7h0m0 4h0m-1 4h0m-1-8h0m0 4h0m0-11h0m-1 8h0m0 11h0m-2-8h0m-1-6h0m-3-7h0m0 15h0m-2-7h0m0 4h0m-3-1h0m-1 8h0m-1-19h0m-2 16h0m0-1h0m-1-4h0m-2 3h0m0 4h0m-1-15h0m-1 2h0m-1-3h0m-2-1h0m-1 11h0m0 7h0m0-4h0m0-15h0m-3 12h0m-2-5h0m0-6h0m-1 12h0m0-1h0m-2-7h0m-1 3h0m-3-9h0m0 8h0m-1 5h0m0-11h0m-1 13h0m0-12h0m-1 14h0m0-9h0m-2 4h0m0-7h0m0-1h0m-1 8h0m0 1h0m-1-11h0m-2 9h0m0-6h0m-1 7h0m-1 2h0m-5-9h0m-2 1h0m-4-4h0m-2 0h0m-2 4h0m-2 2h0m-3 4h0m-3-10h0m-2 11h0m-1 6h0m0 0h0m-1 1h0m-3 1h0m-5-18h0m-5 18h0m0 0h0m-3-18h0m-2 6h0m8 18h0m4-2h0m2 1h0m2-1h0m4 1h0m7 16h0m1 2h0m3-4h0m9-10h0m3 11h0m0-6h0m10 8h0m2-17h0m2 5h0m2 0h0m6 4h0m1 7h0m2-8h0m0-5h0m1 19h0m2-8h0m8 8h0m11-11h0m4 7h0m3-13h0m5-6h0m5 9h0m1-7h0m3 0h0m2 2h0m1 15h0m1-12h0m2-1h0m0 9h0m6-2h0m0-14h0m4 9h0m51-2h0m2 0h0m3 3h0m2 1h0m4-2h0m8 3h0m1-11h0m5 21h0m0-21h0m1 14h0m6 1h0m4 5h0m4 1h0m11-19h0m0 11h0m1 0h0m10 8h0m12-18h0m-4 30h0m-2 13h0m-2-10h0m-3 1h0m-1-2h0m-1-10h0m-1 10h0m-1-5h0m0 2h0m-1 1h0m-3 5h0m-1-11h0m-3 13h0m-2 3h0m-1-6h0m0-9h0m-1 8h0m0-4h0m-1 2h0m-1-7h0m-2 7h0m-4 2h0m-1 2h0m-2 8h0m-1-9h0m-1 7h0m-4 2h0m-3-3h0m-6-3h0m-1 1h0m-1-15h0m-1 6h0m-3 13h0m-7-11h0m-2 4h0m0 7h0m-6-12h0m0 7h0m-74-4h0m-45-1h0m-18-10h0m-37 45h0m53-14h0m10-5h0m18 4h0m31 3h0m19 0h0m47-1h0m7-7h0m5 5h0m3 12h0m3-16h0m7 12h0m1-9h0m1 9h0m0-2h0m5-9h0m3 10h0m4-9h0m0 1h0m4 13h0m2-19h0m4 18h0m3 3h0m0-9h0m1-2h0m1 0h0m3-9h0m1 14h0m4-3h0m2 6h0m5-2h0m1 2h0m-17 9h0m-23-2h0m-2 0h0" stroke="rgb(52,52,238)" stroke-width="3.4" stroke-linecap="round" fill="none" stroke-opacity="0.85"/><path transform="scale(.5)" d="M1041 1997h0m-48 3h0m-50 35h0m3 1h0m66 3h0m1-5h0m27-2h0m2 6h0m3 1h0m4-5h0m11-2h0m7-11h0m12 6h0m10 15h0m-3 4h0m-21 9h0m-2-4h0m0 4h0m-4-7h0m-4 3h0m-7 0h0m-1-1h0m0-7h0m-1 5h0m-1-2h0m-12-4h0m-2 19h0m-21 0h0m-2-2h0m-14-3h0m-21 4h0m-25-10h0m-11 12h0m-2 1h0m-3-17h0m-3-1h0m-72 39h0m21-11h0m2 0h0m7 3h0m1 6h0m2-9h0m11 5h0m7-7h0m3 16h0m10-16h0m7 4h0m11 6h0m5-12h0m1 6h0m2 8h0m24-13h0m4 13h0m1-10h0m2 5h0m1-2h0m3 11h0m4-14h0m2-1h0m5 9h0m3-1h0m1-6h0m13-2h0m10 7h0m4 1h0m1-14h0m1 12h0m7-5h0m7 13h0m4 0h0m1-3h0m4 5h0m5-10h0m0-8h0m2 8h0m1-13h0m2 14h0m0-10h0m4 10h0m2 7h0m7-2h0m8-19h0m4 21h0m4-4h0m0 28h0m-2-8h0m-3 5h0m0-8h0m-9-5h0m-1-1h0m-2-5h0m-2 22h0m-1-18h0m-3 7h0m-2-6h0m-1 6h0m-2 6h0m-3 5h0m-2-15h0m-2 13h0m-3-17h0m-1 18h0m-1-7h0m-3-5h0m0-4h0m-3 4h0m0-7h0m-2 12h0m-4-10h0m0 1h0m-2 16h0m-3-17h0m-1-2h0m0 21h0m-1-4h0m-1-19h0m-2 11h0m0-6h0m-1 8h0m-2-6h0m0 15h0m-9-21h0m-1 6h0m-10-3h0m-3 13h0m-10 7h0m-7-17h0m-13 11h0m-9-16h0m-11 15h0m-2-9h0m-2 15h0m-1 0h0m-3-15h0m-17-7h0m-1 8h0m-20 14h0m-1-4h0m-7-6h0m-1-8h0m0 6h0m-3-9h0m-4 20h0m-2-2h0m-7 1h0m-1-4h0m-3-6h0m-1 0h0m-2 12h0m0-20h0m-3 10h0m0 3h0m-11-1h0m-1-15h0m-4 11h0m-4-9h0m-4 14h0m-1-1h0m-3 5h0m0 17h0m4-13h0m2 1h0m8 6h0m1 14h0m5-13h0m4-6h0m6 8h0m1 9h0m6-5h0m0-13h0m7 17h0m2-17h0m2 9h0m2 1h0m4 11h0m3-12h0m4-1h0m3 5h0m2-1h0m14-6h0m8 15h0m3 0h0m0 2h0m1-3h0m3-14h0m2 6h0m7-5h0m0-7h0m3 5h0m5 17h0m2 0h0m5-11h0m1 9h0m9-16h0m6 11h0m15-4h0m2-7h0m19 15h0m2-6h0m3-2h0m0 7h0m9-15h0m1 11h0m3 7h0m5-21h0m5 2h0m6-3h0m5 2h0m6 20h0m1-12h0m2-3h0m4 12h0m4-6h0m4-3h0m3 5h0m11-5h0m3 0h0m-4 23h0m-8-1h0m-8 11h0m0-17h0m-4 8h0m-14 1h0m0-3h0m-2 11h0m-4-10h0m-1-5h0m-2 16h0m-3 2h0m-6-12h0m-1 9h0m0-3h0m-1 2h0m-1-15h0m-4 13h0m-4-7h0m-4-6h0m-7-1h0m0 8h0m-6 10h0m0-15h0m-14-1h0m-10 16h0m-1-16h0m-10 20h0m-2-13h0m-3-6h0m-2 3h0m-1 14h0m-3-19h0m-1 9h0m-7 1h0m-2-12h0m-6 8h0m-1-3h0m-5 6h0m-5-8h0m-4-3h0m0 8h0m-3-4h0m-8 6h0m-1 2h0m-7 5h0m0-3h0m-8-11h0m-30 4h0m0 0h0m-13 27h0m6 3h0m16-3h0m20-7h0m2 7h0m1-2h0m7 13h0m13-13h0m8 13h0m4-2h0m8 3h0m2-8h0m13-4h0m57 1h0m22-4h0m31 3h0m7 13h0m13-11h0m1 11h0m0 2h0m-1 21h0m-8-3h0m-2 1h0m-7-20h0m-17 0h0m-18 1h0m-7 4h0m-135 28h0m156 13h0m32-17h0m4 1h0m3 2h0m-54 16h0" stroke="rgb(90,90,255)" stroke-width="2.2" stroke-linecap="round" fill="none" stroke-opacity="0.9"/><path transform="scale(.5)" d="M1032 1990l2-2 2-1 3-2m13 30l2-1 3-1 3-2m-10 4l1-2 2-3 2-3m-7 4l2-2 2-2 2-2m-39 1l2-2 1-2 1-2m-72 15l0-3 0-2 0-2m-12-6l-1-2 -1-2 -1-2m-10-3l-1-2 -1-2 -2-3m-22 12l-1-3 -1-3 -1-3m-8 23l-2-2 -2-1 -3-1m-25 22l-2-2 -1-2 -2-2m11 16l-1-2 -2-3 -2-2m36-9l-3-2 -3-1 -3-1m28 3l-2-2 -2-2 -2-3m15 20l-1-3 -1-2 -1-3m7-11l0-3 0-2 -1-3m3 11l-1-3 -1-2 -1-3m74 9l2-2 2-2 1-3m37 11l1-2 2-2 1-2m7 15l3-2 3-1 2-1m18 17l2-2 3-2 2-2m-34 0l2-1 2-1 3-1m-46 12l1-3 1-3 1-2m-54 13l-1-2 -1-2 -1-2m-35 4l-2-2 -1-2 -1-2m-1 3l-2-3 -2-2 -1-3m-26 1l-2-1 -3-2 -2-1m-21 17l-2-2 -2-2 -2-2m-8-9l-3-1 -2-1 -2-1m42 32l-2-1 -2-1 -2-1m126 18l2-2 2-1 3-1m0-13l2-1 2-1 3 0m14-2l2-1 2-1 3-1m23 28l3 0 2 0 3 0m-30 1l2-1 2 0 3 0m-201 5l-3-1 -2 0 -3 0m20 28l-3 0 -3-1 -3 0m26-6l-3 0 -3-1 -2-1m27 12l-3-1 -3 0 -2 0m82 9l0 3 0 3 0 3m60-19l2 1 3 0 3 1m17-7l3 1 3 2 2 1m35 36l2 1 3 1 3 1m-65-24l3 1 2 1 2 1m-53 3l2 2 2 2 2 2m-30-6l0 3 0 3 0 3m-14 9l-1 2 -1 2 -1 2m-108-16l-2 2 -3 2 -3 2m40 19l-3 1 -2 1 -2 0m9-5l-3 1 -2 2 -1 1m13-11l-3 2 -2 1 -1 2m6-2l-2 2 -2 1 -2 2m14-11l-3 1 -3 2 -3 2m32-3l-2 2 -3 2 -2 2m31 13l-1 2 -1 2 -2 3m29-15l-1 3 -1 3 -1 2m60-23l3 1 3 1 2 1m1 3l2 3 1 2 2 3m35 29l2 1 2 1 2 1m-40-20l1 3 1 2 2 2m-25 8l0 2 0 3 1 3m-70-13l0 2 -1 2 -1 2m-2-11l-1 3 -1 2 -1 2m-59-14l-3 1 -2 1 -2 1m-16 6l-3 2 -3 2 -3 2m-5-3l-2 1 -3 2 -2 1m6 26l-2 1 -2 1 -3 1m47-19l-1 2 -2 3 -2 2m126-3l1 2 1 2 1 2m14 13l0 2 0 3 -1 3" stroke="rgb(225,150,50)" stroke-width="2.4" stroke-linecap="round" stroke-linejoin="round" fill="none" stroke-opacity="0.8"/><path transform="scale(.5)" d="M850 1991l-1-2 0-3 -1-2m46 2l0-2 -1-3 -1-2m122 12l2-3 2-3 1-2m48 26l2-2 2-2 2-2m-96-1l0-3 0-2 0-4m-7 19l1-3 1-2 1-3m-55 6l0-3 0-3 0-3m-23-8l-1-2 0-2 0-3m-10 28l-2-3 -2-2 -1-2m-43 20l-3-2 -3-1 -3-1m33 15l-2-1 -3-1 -2-1m39-4l-1-2 -2-3 -1-2m80 2l0-2 0-3 -1-3m23 5l1-3 0-2 0-4m35 3l1-2 2-2 1-2m52 21l3-1 2 0 3-1m-28 15l2-3 1-1 2-2m-82 22l0-3 1-4 0-2m25 21l2-3 1-2 2-2m19 33l2-1 3-1 3-1m-18 31l2 0 3 1 2 1m29 8l3 0 3-1 3-1m-56 17l2 2 2 3 1 2m-28-4l2 2 3 2 2 1m-10-1l1 2 2 2 2 1m-15-11l1 2 0 2 1 3m-20-3l-1 2 -1 3 -2 2m-84-14l-2 1 -2 2 -2 1m129 28l2 2 2 1 2 1m32-8l3 1 2 1 2 1m-44 19l2 2 2 2 3 2m-25-12l1 2 2 2 2 2m-41-11l-1 2 -1 3 -2 3m-86-7l-3 2 -2 1 -2 2m25 34l-2 2 -1 3 -1 3m21-17l-2 2 -2 3 -1 2m6-2l-2 3 -2 2 -2 3m160-10l1 2 1 2 2 2m31 3l2 1 1 2 3 2m-228-1l-1 2 -1 2 -1 3" stroke="rgb(220,200,60)" stroke-width="2" stroke-linecap="round" stroke-linejoin="round" fill="none" stroke-opacity="0.75"/><path transform="scale(.5)" d="M913 1989h0m26 2h0m7-5h0m7-1h0m6-1h0m84 1h0m37 22h0m-32-12h0m-19 6h0m-3 13h0m0-21h0m-3 3h0m-7 13h0m-10-6h0m-22 9h0m0-12h0m-7 14h0m-1-9h0m-5 4h0m-7-15h0m-4 13h0m-64-10h0m-8 8h0m-7-11h0m-19 12h0m-14 15h0m5-3h0m15 18h0m21-17h0m42 17h0m12-17h0m5 2h0m3 0h0m16 16h0m6-7h0m2 9h0m8 0h0m10-8h0m2-13h0m8 21h0m0 0h0m5-21h0m6 18h0m4-18h0m5 6h0m2 0h0m1 16h0m10-5h0m9-19h0m6 9h0m12-6h0m1 20h0m2-14h0m2 6h0m3-7h0m12 11h0m0 10h0m-4 0h0m-9 2h0m-11 3h0m-1-6h0m-15 15h0m-9-19h0m-1 4h0m-16 7h0m-4 7h0m-15-3h0m-4 1h0m-1 1h0m-7 0h0m-5 1h0m0 3h0m-14 1h0m-3-1h0m-1-11h0m-4 7h0m-1-1h0m-2 4h0m-2 3h0m-12-17h0m-1 16h0m-1-9h0m-6 10h0m-5-9h0m-4-7h0m-15-3h0m-4 17h0m-1 1h0m-2-19h0m-8 2h0m-1 6h0m-9-10h0m-2 14h0m-20-8h0m-3 7h0m0 27h0m11-2h0m9 0h0m7 6h0m13-6h0m0 2h0m7-16h0m3 9h0m2-8h0m16 19h0m2-11h0m5 4h0m4-5h0m15-8h0m3 16h0m2-15h0m21 5h0m3 5h0m6-3h0m4 4h0m5-11h0m14 6h0m12-6h0m1 10h0m0 1h0m2-3h0m1-5h0m3 4h0m20 2h0m0-5h0m3 13h0m2-18h0m4 18h0m2-7h0m3 0h0m2 10h0m0-15h0m0-3h0m10 13h0m1-13h0m2 11h0m6-10h0m-5 39h0m-3-16h0m-2 1h0m-6-3h0m-5 1h0m-3 11h0m-3-6h0m0-4h0m0 12h0m-3-9h0m-6 6h0m-2 10h0m-16-22h0m-4 4h0m-4 15h0m-3-5h0m-3-3h0m-9-7h0m-5 7h0m-1 12h0m-3-19h0m-2-5h0m-18 0h0m-11 18h0m-17 3h0m-5-8h0m-1 10h0m-6-21h0m-6-2h0m-12 14h0m-2 7h0m-11-10h0m-1-1h0m-3-6h0m-3 1h0m-8 12h0m-3-12h0m0-2h0m-8 0h0m0 0h0m-4-3h0m-1 11h0m-2 7h0m-1-12h0m-3 7h0m-3-12h0m-14 23h0m-1-3h0m-8 0h0m0 17h0m3-5h0m5 1h0m1 4h0m1-8h0m3 9h0m3-1h0m26 2h0m3-7h0m4 9h0m5-16h0m8 2h0m1 11h0m6-11h0m4 12h0m13-3h0m2-6h0m1 3h0m32 5h0m1-2h0m1-5h0m6 10h0m6 0h0m15-13h0m7 10h0m19-11h0m1 6h0m5 3h0m3 7h0m0-17h0m6 13h0m4 0h0m4-12h0m3 10h0m2 9h0m8-23h0m1 21h0m2-14h0m4-5h0m3 10h0m4-3h0m1 11h0m1-10h0m3 9h0m8-2h0m3-11h0m-10 21h0m-1 13h0m-5 2h0m-17 2h0m0-18h0m-3 7h0m-6-6h0m-1 17h0m-3-16h0m-4-2h0m-2 15h0m-5-1h0m-5 5h0m-1-16h0m-6-4h0m-1 21h0m-2-7h0m-1 2h0m0 6h0m-4-8h0m-8 9h0m-2-5h0m-10-11h0m-1-2h0m-3-3h0m-8 7h0m-10-8h0m0 14h0m-2-7h0m-3 4h0m-6 6h0m-1-2h0m-27-8h0m-1-8h0m-1 20h0m-4-10h0m-16-5h0m-1 0h0m0 13h0m-7 0h0m0 1h0m-12-4h0m-4 1h0m-3-14h0m-2-1h0m-15 3h0m1 34h0m5 6h0m1 0h0m8-3h0m5 2h0m11-8h0m3 8h0m10-7h0m5-2h0m1 12h0m1-20h0m14 4h0m4 6h0m0-4h0m1 14h0m13-14h0m5-1h0m4 1h0m3-4h0m17 1h0m23-1h0m4 4h0m2 6h0m10-1h0m19-12h0m2 19h0m5-13h0m1-5h0m3 7h0m2 0h0m11 1h0m2-4h0m1 12h0m8 4h0m6-8h0m6 6h0m3 17h0m-6 2h0m-5-6h0m-1-9h0m-4 11h0m-1 10h0m-8-2h0m-10 4h0m-7-10h0m-7 1h0m-2 4h0m-10-17h0m-1 14h0m-12 5h0m-6-14h0m-3-4h0m-18 2h0m-34 12h0m-1-7h0m-28 6h0m-7-7h0m-2-5h0m-13 9h0m-2 2h0m-2 2h0m0 3h0m-1-16h0m-2-2h0m-9 10h0m-14-10h0m-7 1h0m-10 2h0m-4 18h0m-4-19h0m-5 33h0m6-4h0m8 7h0m0-14h0m9 5h0m14 1h0m11-8h0m5 4h0m10 10h0m15-10h0m4-3h0m16 4h0m50 2h0m10 5h0m3-12h0m2 1h0m19 13h0m12 4h0m10-13h0m4 4h0m3 10h0m10 5h0m7-5h0m13 5h0m4-15h0m-27 18h0m-55-2h0m-46 1h0m-7 1h0m-23 2h0m-59-3h0m-17-1h0" stroke="rgb(230,45,35)" stroke-width="2.7" stroke-linecap="round" fill="none" stroke-opacity="0.85"/><path transform="scale(.5)" d="M989 1989l0-4 1-2 0-3m17 8l2-2 1-3 1-3m13 9l2-2 2-2 3-2m51 30l1-2 1-3 0-3m-171-7l-2-3 -2-2 -2-2m-25 14l-3-2 -2-2 -3-2m122 33l2-3 1-2 2-2m24 11l3-1 3-2 2-2m29 18l2-2 1-2 2-2m-159 21l-2-1 -2-1 -2-1m-9-1l-2-3 -2-2 -2-2m-23 5l-2-3 -2-2 -3-2m104 28l-1-3 -1-3 0-4m89-5l3 0 2-1 2-1m-108 27l0-2 0-3 0-2m138 76l2 0 3 0 3 1m-105 0l1 2 2 2 1 2m-125-21l-3 1 -3 1 -3 1m-6-4l-3 0 -3 0 -3 0m19 33l-2 2 -2 1 -3 2m34-2l-1 3 -2 3 -1 2m110 11l1 3 1 3 0 3m-93-7l-2 2 -2 3 -1 3m-6-14l-2 1 -3 2 -2 1m-50 33l-2 2 -2 2 -1 2m11-25l-2 1 -3 0 -3 0m13 5l-2 3 -2 2 -1 2m208 8l1 2 2 2 1 2m-34-6l1 3 1 2 1 2m-171-7l-2 2 -2 3 -2 2" stroke="rgb(70,170,60)" stroke-width="1.8" stroke-linecap="round" stroke-linejoin="round" fill="none" stroke-opacity="0.7"/><ellipse cx="502.8" cy="1055.4" rx="21.1" ry="8.7" fill="#000" fill-opacity="1.0" transform="rotate(-5 502.8 1055.4)" filter="url(#b0_8)"/><ellipse cx="442.2" cy="1072.0" rx="13.4" ry="14.3" fill="#000" fill-opacity="1.0" transform="rotate(15 442.2 1072.0)" filter="url(#b0_8)"/><ellipse cx="468.1" cy="1051.1" rx="3.2" ry="2.3" fill="none" stroke="rgb(80,80,255)" stroke-width="1.1"/><circle cx="488.6" cy="1073.4" r="2.6" fill="none" stroke="rgb(60,140,160)" stroke-width="1"/></g>
</g>
<text x="543.30" y="1110.80" font-size="7.4" text-anchor="end" font-weight="normal" fill="#fff" stroke="#fff" stroke-width="0.25">50µm</text>
<line x1="527.10" y1="1114.20" x2="541.10" y2="1114.20" stroke="#fff" stroke-width="1.8"/>
<g clip-path="url(#c45)"><rect x="553.1" y="991.2" width="127.6" height="127.4" fill="#10231b"/>
<g filter="url(#b0_3)"><g filter="url(#s16)"><rect x="553.1" y="991.2" width="127.6" height="127.4" fill="#000"/></g><path transform="scale(.5)" d="M1109 1984l3-3 -1-5 -3-5 -2-6m7 21l3 1 3-1 4-1 6 0m-7 5l2-6 0-4 2-2 5 0m9 9l6-1 4-3 6-1 4 2m6 6l-4-3 -2-3 -5-2 -2-6m15 16l-6 2 -2 5 -7 2 -6 3m44-13l-1-3 -4-3 -3-1 -3 2m75-1l3-2 6-3 3-3 5 0m13 7l-4-4 -2-4 -2-3 -1-3m46 14l0-3 -1-3 -4-2 -7-1m43 40l4 1 4 6 4 2 3 0m-25-11l-4 1 -4-1 -4 1 -4 4m10-16l-3-2 -5 1 -6 1 -5-2m3-6l-3 2 -4 3 -6 1 -5 2m-5-2l1 5 -2 4 -2 3 -3 4m2-9l-3-2 -7 2 -4 5 -5 0m7-19l-5 1 -3 3 -3 0 -4 5m13 0l6 3 5 0 4-5 5-1m-49 11l-4 4 -4 3 -5 0 -4-5m9-7l5-2 3-5 2-5 -2-6m-11 28l3-5 0-5 4-2 6-3m-27 15l-3-3 -1-7 0-5 2-6m-11 9l-1-4 -2-3 -1-7 2-5m1 27l-3 2 -1 6 -5 4 -6-2m-19-22l7-1 3 1 4-2 7-1m-25 5l-4 1 -5 2 -2 3 -3 5m-7 0l4-5 0-4 4-5 5-4m-41 9l-4-5 -6-3 -5-2 -5 3m11 13l4-5 0-6 -6-4 -4 0m19 29l-2 5 2 6 3 2 5 2m3-5l6-3 4-5 1-6 -3-3m5 12l4-2 4-1 4 3 5-1m-10 12l3 0 6 2 3 6 5 3m6-34l-4 2 -4 4 1 5 -2 3m24 5l-5-1 -3-2 -3-2 -6 1m19 4l2 5 3 3 -1 6 3 5m6-28l3-1 5-1 2-3 6-2m-4 19l6 0 5 1 4 1 4 5m-15-21l-1 3 0 5 -5 4 0 3m6-8l3 4 4 1 5-2 5 0m-11 3l4 0 4 1 4 5 6-1m-17-13l-6 1 -3-1 -5-3 0-4m17-1l2-3 1-3 2-4 3-3m21 17l6 1 4 2 3 5 0 3m-4-11l4-1 3-6 4-4 3-1m-12 21l2 6 1 5 0 3 -2 5m18-22l-3 6 -2 3 -2 3 -3 6m13-23l-2-5 1-4 4-5 5 0m13 23l-3-1 -7 1 -5-3 -3-2m30 1l1-5 -1-3 0-7 -1-5m15 6l3-6 -1-5 -1-5 -3-3m2 28l-1-3 -3-2 -3 1 -5 3m4 35l-4-2 -4-2 -4 0 -4 2m12-17l-3 6 -2 5 1 4 3 1m-27-9l-6 1 -3-4 1-6 0-5m3 30l3 0 5 2 3 2 2 4m-44-14l6 0 5 5 3 5 4 3m-42-25l-1-5 -4-3 -2-3 -2-3m-12 27l-4 6 -5 1 -5 3 -3 1m10-27l-1 6 -4 4 -5 0 -3 4m10-1l-5 2 -1 3 0 4 -1 5m-13-6l-6-1 -4 2 -2 3 1 4m-5-15l-3 4 -3 1 -2 3 -3 2m7-11l-7 1 -5-2 -5-1 -5 3m21 5l-4 3 -3 3 -6 2 -1 4m10-11l-3-1 -3-3 -4 0 -4 5m-11-3l0 6 2 5 3 6 4 0m-12-20l-4 2 -4-2 -4-4 -4-5m5 11l-4 5 -3 5 -3 2 -4 4m2-13l5-3 2-3 3-2 3-5m-27-7l-5 1 -6-4 -6 2 -4 1m27 40l2 3 2 3 0 6 -2 5m8-32l-2 4 -3 1 -5 1 -5-2m23 13l-5-3 -2-3 -1-5 -4-4m63 14l-4-3 -6-1 -4 0 -4-2m68 9l2-5 5-5 0-5 1-5m-7-1l6 1 5-4 -1-5 1-4m-10 19l-6 1 -5-1 -5 3 -3 6m25-16l2 4 -1 6 -2 3 -4 1m7-8l1-3 1-3 6-2 5-3m13 19l-5 2 -4-2 -6 2 -5 5m25-14l-5 2 -5-1 -2-3 -2-5m29 17l5 0 4-1 1-3 5-5m-8 1l5-5 2-3 0-3 0-5m-4 28l-5-2 -3-2 -3-2 -2-5m27-8l2 3 2 5 3 6 0 3m-4-8l-5 3 -5-1 -5-2 -5 1m34 6l-2 5 4 6 3 1 3 0m5-16l4 3 1 4 -1 3 -3 3m2-16l-1-4 -5-2 -2-3 -4-1m15-1l5-3 6-2 3-5 0-6m-9 36l4-2 5-2 3-5 0-3m-10 11l0 6 -4 6 1 3 4 5m-5-8l0-4 1-4 3-4 1-3m-15 6l-2-3 -1-5 -1-5 -1-3m-11 16l6-1 5 2 4-1 4-2m-31 16l7-1 6 2 6-4 3-5m-27 6l1 4 3 5 3 4 2 3m-11-19l-4-4 -1-4 0-5 0-7m1 19l-4-4 -1-4 2-3 1-4m-16 13l0 4 0 4 5 4 1 4m-11-15l-5 4 -2 4 -4 3 -2 7m6-17l0-5 0-7 -4-4 -3-6m7 29l-3 2 -5-1 -2-4 -4-4m5 1l3-2 3-6 -1-5 -4-5m-2 26l5 1 5 5 0 5 3 4m-17-25l-3 2 -4 0 -6-1 -2-5m12 3l-3 5 2 5 4 5 -1 4m-52-19l-2 3 2 6 3 6 0 4m-9-18l-4 4 -1 4 -2 6 2 5m3-20l6 0 5 1 3-1 4-1m-32 7l4 1 3 5 -1 4 2 3m-9-7l4 1 3 4 4 2 2 3m-14-10l4 1 4-2 4-5 3-3m-16 4l-5-2 -4 0 -4 6 -4 0m11 5l2-4 1-6 -2-3 -4-2m-7-3l3 6 6 4 5 0 4-4m-47-5l5 3 4 1 5 5 5 2m-33 5l-5-2 -7 0 -5-5 1-5m9 12l-4 2 -7 1 -7 0 -5-1m25 19l4 1 3 5 2 3 -1 5m11-22l-5 2 -3 3 -4 1 -4 1m28-14l-6-3 -4-4 -4-2 -3 1m29 22l-2 3 -3 0 -4 2 -5 0m23-17l-6 0 -5 2 -5 0 -4 2m58 3l-1 5 -4 5 -6 2 -3-1m18-22l-2-5 -2-3 -4-4 0-4m15 29l-3 0 -4-3 -3-2 -1-4m13 17l0 6 -1 5 1 4 0 5m5-26l1 6 1 3 4 1 4-3m-6 0l-5-2 -2-4 2-6 6-3m12 11l-5 4 -2 5 -2 5 1 3m15-27l-4 4 -2 3 1 4 5 2m11-13l-3-3 -6 0 -7-2 -4 1m77-4l-4-3 -6 2 -6-1 -4-3m29 17l-4-1 -6-1 -5-1 -5 3m51-3l4-1 5 2 6-1 2-2m-22 25l3 2 3 0 4-5 5-2m-51 0l-2 5 0 3 -2 3 -3 1m-11 6l1 4 -1 4 3 6 0 3m-16-19l-4-2 -5-4 -2-4 -3-1m-26 2l5-2 1-3 2-6 -3-6m-10 15l6 1 3 2 5 1 4 5m-32-14l4-4 0-3 2-3 1-3m-12 23l-7-1 -5 1 -4 1 -3-1m-4-12l4-2 5-3 4-5 -1-5m-21 35l-6 0 -5-5 -4-5 -2-6m-3 1l-1 7 -3 4 -1 6 0 6m-12-28l5 3 3 4 1 4 1 6m-31-1l-3 2 -3 1 -3-1 -2-4m-10 3l6-3 3-4 1-5 -1-3m-11 15l-3 3 -2 5 -4 6 -2 6m37-11l6 0 4 0 6 3 2 3m2-3l2 4 -1 5 -1 4 5 5m0-20l5 0 5-1 3-5 6-4m-13 13l-6 4 -2 3 -1 3 4 5m17-11l-2 3 -1 4 -1 4 2 6m31-24l-1 5 2 4 2 5 -1 5m3-7l2-6 2-3 6-4 6 0m2 6l3-1 2-3 6-3 5 3m7 10l2 4 5 4 2 6 1 4m5-15l-2-4 -4-1 -3 1 -3 3m32-6l-3-2 -2-3 -5-4 -3-3m19 16l0 3 -2 2 -6 3 -5 2m13-7l-5 1 -5 4 -1 6 1 4m79-16l4-3 3-4 6-2 4-4m-22 22l-3 5 1 4 3 5 -1 4m-32-12l1 7 -2 3 -2 3 1 4m-18-23l2-3 2-3 2-5 6-2m-15 22l-5-1 -2-5 -5-2 -1-3m2 6l-5 0 -5 4 0 4 0 5m-42-12l5 0 3 3 3 5 -1 5m-20-4l6-2 2-7 -2-5 -5-5m-6 14l4 5 2 5 -3 4 -3 4m-23-8l3-1 5-4 6 0 4 2m-32-5l3-2 1-4 -1-5 -2-4m-10 23l0-6 2-3 0-4 -3-2m-14 9l3-2 6 0 4 3 0 5m-25-5l2 6 1 4 -2 3 0 5m-18-13l2-4 1-4 4-6 4 0m-12 5l2 5 4 3 1 4 0 3m-22-8l-3-4 -2-3 -6-4 -3 1m45 28l1-3 2-5 0-3 2-6m24 8l-3 1 -4 0 -3 4 -6 3m16-9l-4 0 -4-2 -3-1 -2-5m15 28l3 5 1 4 -3 3 1 6m47-20l-4 0 -4-2 -6 0 -6 2m21 1l3-4 -1-4 -3-5 -5-1m28-9l0-7 -5-4 -5-3 -5-5m18 25l2-4 3-1 1-4 2-5m21 12l1-3 0-6 2-6 4-3m13 37l-1 6 0 5 2 4 3 0m2-34l4-4 4-4 4-6 4-1m-12 12l7-1 6 0 5-3 3-5m-4 9l1 5 -2 2 -3 6 0 6m11-2l-6 1 -4-1 -5 2 -3-1m22-4l1-3 0-4 0-4 -1-5m2 5l-4 3 -1 3 -6 2 -1 4m9 13l-5 4 -4 5 -3 5 3 6m-119-22l3-5 3-5 -2-4 3-5" stroke="rgb(45,90,70)" stroke-width="1.4" stroke-linecap="round" stroke-linejoin="round" fill="none" stroke-opacity="0.5"/><circle cx="601.4" cy="1036.8" r="2.0" fill="rgb(52,72,218)"/><circle cx="580.9" cy="1047" r="2.5" fill="rgb(41,60,229)"/><circle cx="664.4" cy="1017.7" r="1.9" fill="rgb(49,66,215)"/><circle cx="656.9" cy="1040.9" r="1.8" fill="rgb(40,52,228)"/><circle cx="589.6" cy="1104.8" r="2.5" fill="rgb(48,55,216)"/><circle cx="628.6" cy="993.7" r="1.9" fill="rgb(40,63,226)"/><circle cx="591.4" cy="1072.8" r="2.2" fill="rgb(40,68,236)"/><circle cx="678.2" cy="1111.6" r="2.4" fill="rgb(46,73,236)"/><circle cx="667.5" cy="1109.7" r="2.5" fill="rgb(50,62,220)"/><circle cx="630.1" cy="1115.4" r="1.9" fill="rgb(51,60,235)"/><circle cx="609.5" cy="1028.9" r="2.3" fill="rgb(58,71,220)"/><circle cx="629.8" cy="1049.8" r="2.1" fill="rgb(47,53,224)"/><circle cx="620.5" cy="1100.1" r="2.4" fill="rgb(59,54,237)"/><circle cx="668.8" cy="1087.5" r="2.2" fill="rgb(60,74,241)"/><circle cx="657.7" cy="1091.5" r="2.1" fill="rgb(46,50,243)"/><circle cx="586.3" cy="1048.5" r="2.5" fill="rgb(52,75,235)"/><circle cx="663.1" cy="1103" r="2.0" fill="rgb(49,60,238)"/><circle cx="644.1" cy="1115" r="2.3" fill="rgb(41,54,230)"/><circle cx="637.4" cy="1018.6" r="2.5" fill="rgb(53,59,215)"/><circle cx="646.7" cy="1073.7" r="2.6" fill="rgb(48,58,219)"/><circle cx="582.4" cy="1041.6" r="2.0" fill="rgb(46,55,240)"/><circle cx="608" cy="1056" r="2.5" fill="rgb(59,60,218)"/><circle cx="589.6" cy="1065.5" r="2.0" fill="rgb(56,63,228)"/><circle cx="589.4" cy="1007.1" r="2.6" fill="rgb(58,66,235)"/><circle cx="654.9" cy="1018.2" r="1.9" fill="rgb(57,70,221)"/><circle cx="630.6" cy="1040.1" r="2.2" fill="rgb(41,68,245)"/><circle cx="625.7" cy="1086.9" r="2.5" fill="rgb(47,67,216)"/><circle cx="678.9" cy="1082.6" r="2.3" fill="rgb(53,52,236)"/><circle cx="623.8" cy="1023.3" r="2.6" fill="rgb(41,74,239)"/><circle cx="593.8" cy="1113.3" r="2.0" fill="rgb(46,50,242)"/><circle cx="581.3" cy="1086.2" r="2.1" fill="rgb(56,52,216)"/><circle cx="580.1" cy="1107.3" r="2.5" fill="rgb(43,73,219)"/><circle cx="655.5" cy="1084.9" r="2.3" fill="rgb(55,71,237)"/><circle cx="615.6" cy="1083.3" r="2.3" fill="rgb(55,57,240)"/><circle cx="665" cy="1016" r="2.1" fill="rgb(43,54,235)"/><circle cx="610.3" cy="1107.1" r="2.0" fill="rgb(51,72,216)"/><circle cx="585.9" cy="1115" r="1.9" fill="rgb(50,75,223)"/><circle cx="643.5" cy="1009.2" r="2.4" fill="rgb(41,72,240)"/><circle cx="574" cy="1094.3" r="2.2" fill="rgb(40,62,245)"/><circle cx="559" cy="1014.8" r="2.4" fill="rgb(57,72,218)"/><circle cx="585.9" cy="1093.7" r="2.1" fill="rgb(58,68,239)"/><circle cx="585.6" cy="1037.4" r="1.9" fill="rgb(41,74,245)"/><circle cx="580.6" cy="1015" r="2.0" fill="rgb(41,75,222)"/><circle cx="658.6" cy="1013.5" r="2.3" fill="rgb(44,72,234)"/><circle cx="573.7" cy="1046.4" r="2.5" fill="rgb(56,54,244)"/><circle cx="572.8" cy="999.2" r="2.5" fill="rgb(55,50,216)"/><circle cx="582.2" cy="1006.1" r="2.3" fill="rgb(53,65,238)"/><circle cx="663.2" cy="1048.3" r="2.6" fill="rgb(55,53,223)"/><circle cx="560.3" cy="1051.5" r="2.3" fill="rgb(59,52,217)"/><circle cx="588" cy="1083.1" r="2.3" fill="rgb(48,60,227)"/><circle cx="674.2" cy="1016.7" r="2.6" fill="rgb(41,71,218)"/><circle cx="657.3" cy="1007.8" r="2.0" fill="rgb(40,66,239)"/><circle cx="652" cy="1011.5" r="2.3" fill="rgb(54,75,229)"/><circle cx="564.2" cy="1086.6" r="2.3" fill="rgb(45,54,224)"/><circle cx="613.9" cy="1040" r="2.4" fill="rgb(46,65,217)"/><circle cx="655.4" cy="1083.6" r="2.3" fill="rgb(48,63,221)"/><circle cx="576.7" cy="1036.8" r="2.4" fill="rgb(45,72,222)"/><circle cx="557.8" cy="1019.8" r="2.1" fill="rgb(44,68,229)"/><circle cx="675.2" cy="1085.2" r="2.0" fill="rgb(43,60,230)"/><circle cx="640.4" cy="1042.1" r="2.4" fill="rgb(43,54,245)"/><circle cx="611.5" cy="1000" r="2.0" fill="rgb(50,61,222)"/><circle cx="675.9" cy="1110.7" r="1.9" fill="rgb(41,68,236)"/><circle cx="582.8" cy="991.9" r="2.4" fill="rgb(55,70,222)"/><circle cx="604" cy="1076.1" r="2.3" fill="rgb(54,59,228)"/><circle cx="620.3" cy="1075.2" r="2.4" fill="rgb(50,66,233)"/><circle cx="625.1" cy="996.8" r="2.3" fill="rgb(52,60,230)"/><circle cx="630.3" cy="1096.5" r="1.9" fill="rgb(48,68,233)"/><circle cx="607.8" cy="1066.7" r="2.0" fill="rgb(59,57,223)"/><circle cx="679.1" cy="1062.1" r="2.0" fill="rgb(51,55,219)"/><circle cx="578.7" cy="1029" r="2.6" fill="rgb(40,75,217)"/><circle cx="629.5" cy="998.4" r="2.0" fill="rgb(52,72,219)"/><circle cx="677" cy="1090.3" r="2.0" fill="rgb(47,75,238)"/><circle cx="578.5" cy="1039" r="2.5" fill="rgb(49,68,231)"/><circle cx="657.4" cy="1083.4" r="2.4" fill="rgb(40,72,232)"/><circle cx="642.6" cy="1037.9" r="1.9" fill="rgb(60,63,227)"/><circle cx="622.2" cy="1013.7" r="1.9" fill="rgb(53,70,219)"/><circle cx="664.2" cy="1100.1" r="2.5" fill="rgb(43,73,244)"/><circle cx="669" cy="995" r="2.4" fill="rgb(44,55,218)"/><circle cx="556.7" cy="1065.6" r="2.0" fill="rgb(42,71,232)"/><circle cx="581.9" cy="998.5" r="2.6" fill="rgb(59,50,227)"/><circle cx="591.6" cy="1040.7" r="2.0" fill="rgb(55,57,215)"/><circle cx="664.4" cy="1065.2" r="2.2" fill="rgb(45,60,220)"/><circle cx="593" cy="1060.2" r="2.2" fill="rgb(44,71,219)"/><circle cx="662.3" cy="1027.1" r="2.4" fill="rgb(45,58,242)"/><circle cx="665.3" cy="1070.3" r="2.1" fill="rgb(45,56,245)"/><circle cx="586.8" cy="993.1" r="2.3" fill="rgb(52,71,239)"/><circle cx="560.3" cy="1037.6" r="2.5" fill="rgb(41,53,234)"/><circle cx="568.1" cy="1006.1" r="2.6" fill="rgb(48,69,224)"/><circle cx="571.6" cy="1034.5" r="2.5" fill="rgb(57,58,218)"/><circle cx="653.2" cy="1078.6" r="2.4" fill="rgb(46,70,225)"/><circle cx="577.8" cy="1067" r="1.8" fill="rgb(51,56,219)"/><circle cx="580.9" cy="1084.2" r="2.4" fill="rgb(59,75,229)"/><circle cx="604.5" cy="1078.5" r="1.9" fill="rgb(59,74,229)"/><circle cx="567.6" cy="1027.3" r="2.1" fill="rgb(57,58,242)"/><circle cx="571" cy="1034.9" r="2.5" fill="rgb(48,58,229)"/><circle cx="556.2" cy="1023.4" r="2.4" fill="rgb(44,75,224)"/><circle cx="677.8" cy="1102.7" r="2.4" fill="rgb(45,70,221)"/><circle cx="673.1" cy="1007.6" r="2.2" fill="rgb(54,68,232)"/><circle cx="559.1" cy="1089.9" r="1.9" fill="rgb(57,65,215)"/><circle cx="555.3" cy="1049.3" r="1.9" fill="rgb(59,60,228)"/><path transform="scale(.5)" d="M1174 1984l-5-5m27 11l8-2m87 7l-4 10m-43 10l-11-5m2-7l0-9m-37 13l-7-2m-59 17l11 0m188 40l-6-8m-27-6l-4 6m-40 1l-6-1m-99-10l7 4m-17 40l-11 3m133-12l-9 4m43 24l-1-6m-14-6l-5-5m42 43l3-9m15-3l12 2m-64 25l-6-2m-78-6l4-10m-27 11l-5 5m-8 10l0-7m54 29l-4 9m106-21l-2-6m5 40l2-7m-36 5l-8 7m7-8l-8 3m-54 8l10-1m-24-4l-7 0m-63-16l-11-1m6 18l10-2m-26 6l-6-8m15 10l-4 9m117 11l8 6m-4-12l1-10" stroke="rgb(150,185,70)" stroke-width="5.6" stroke-linecap="round" stroke-linejoin="round" fill="none" stroke-opacity="0.7"/><path transform="scale(.5)" d="M1174 1984l-4-4m26 10l7-2m89 7l-3 8m-45 12l-9-4m1-8l0-8m-38 12l-5-2m-60 18l9 0m189 39l-5-7m-27-6l-3 4m-41 3l-5-1m-101-10l6 4m107 30l-7 3m41 25l-1-5m-14-6l-4-4m-138-4l-9 2m188 44l3-7m14-5l9 2m-61 24l-5-2m-78-6l3-8m-26 9l-4 4m-9 12l0-6m54 27l-3 7m105-19l-2-5m4 39l1-5m-35 3l-6 6m6-7l-6 2m-71 4l-6 0m-64-16l-9-1m4 19l8-1m-23 5l-5-6m13 8l-3 7m100-10l8-1m9 23l7 5m-4-11l1-8" stroke="rgb(235,215,70)" stroke-width="3" stroke-linecap="round" stroke-linejoin="round" fill="none" stroke-opacity="0.85"/><path transform="scale(.5)" d="M1171 1981l-2-2m31 10l3-1m86 12l-2 4m-49 8l-4-2m1-12l0-4m-41 12l-3-1m-53 17l4 0m186 36l-3-3m-29-4l-2 2m-43 2l-3 0m-96-9l3 2m101 33l-4 2m43 21l0-2m-17-9l-2-2m-143-2l-4 1m72 45l1-4m117-2l1-4m20-3l5 1m-65 24l-2-1m-104-2l-2 2m-9 7l0-3m52 32l-1 4m104-23l-1-2m5 36l1-3m-39 8l-3 3m2-7l-3 1m-50 8l4 0m-27-4l-3 0m-63 0l4-1m-10-16l-5-1m-13 20l-2-3m11 13l-2 4m122 0l1-4m-1 18l3 2" stroke="rgb(230,60,60)" stroke-width="3.6" stroke-linecap="round" stroke-linejoin="round" fill="none" stroke-opacity="0.8"/><path transform="scale(.5)" d="M1173 1983l-3-3m73 34l-5-2m-4-10l0-5m-103 25l6 0m11 22l4 2m182 75l6 1m-58 25l-3-1m-104-6l-3 3m-10 13l0-3m125 44l-4 4m3-5l-4 1m-58 10l5 0m-19-5l-4 0m-66-16l-6-1m1 19l5-1m-21 5l-3-4m12 6l-2 4" stroke="rgb(190,90,210)" stroke-width="2.6" stroke-linecap="round" stroke-linejoin="round" fill="none" stroke-opacity="0.7"/></g>
</g>
<text x="679.30" y="1110.80" font-size="7.4" text-anchor="end" font-weight="normal" fill="#fff" stroke="#fff" stroke-width="0.25">50µm</text>
<line x1="663.10" y1="1114.20" x2="677.10" y2="1114.20" stroke="#fff" stroke-width="1.8"/></svg>
</body></html>
